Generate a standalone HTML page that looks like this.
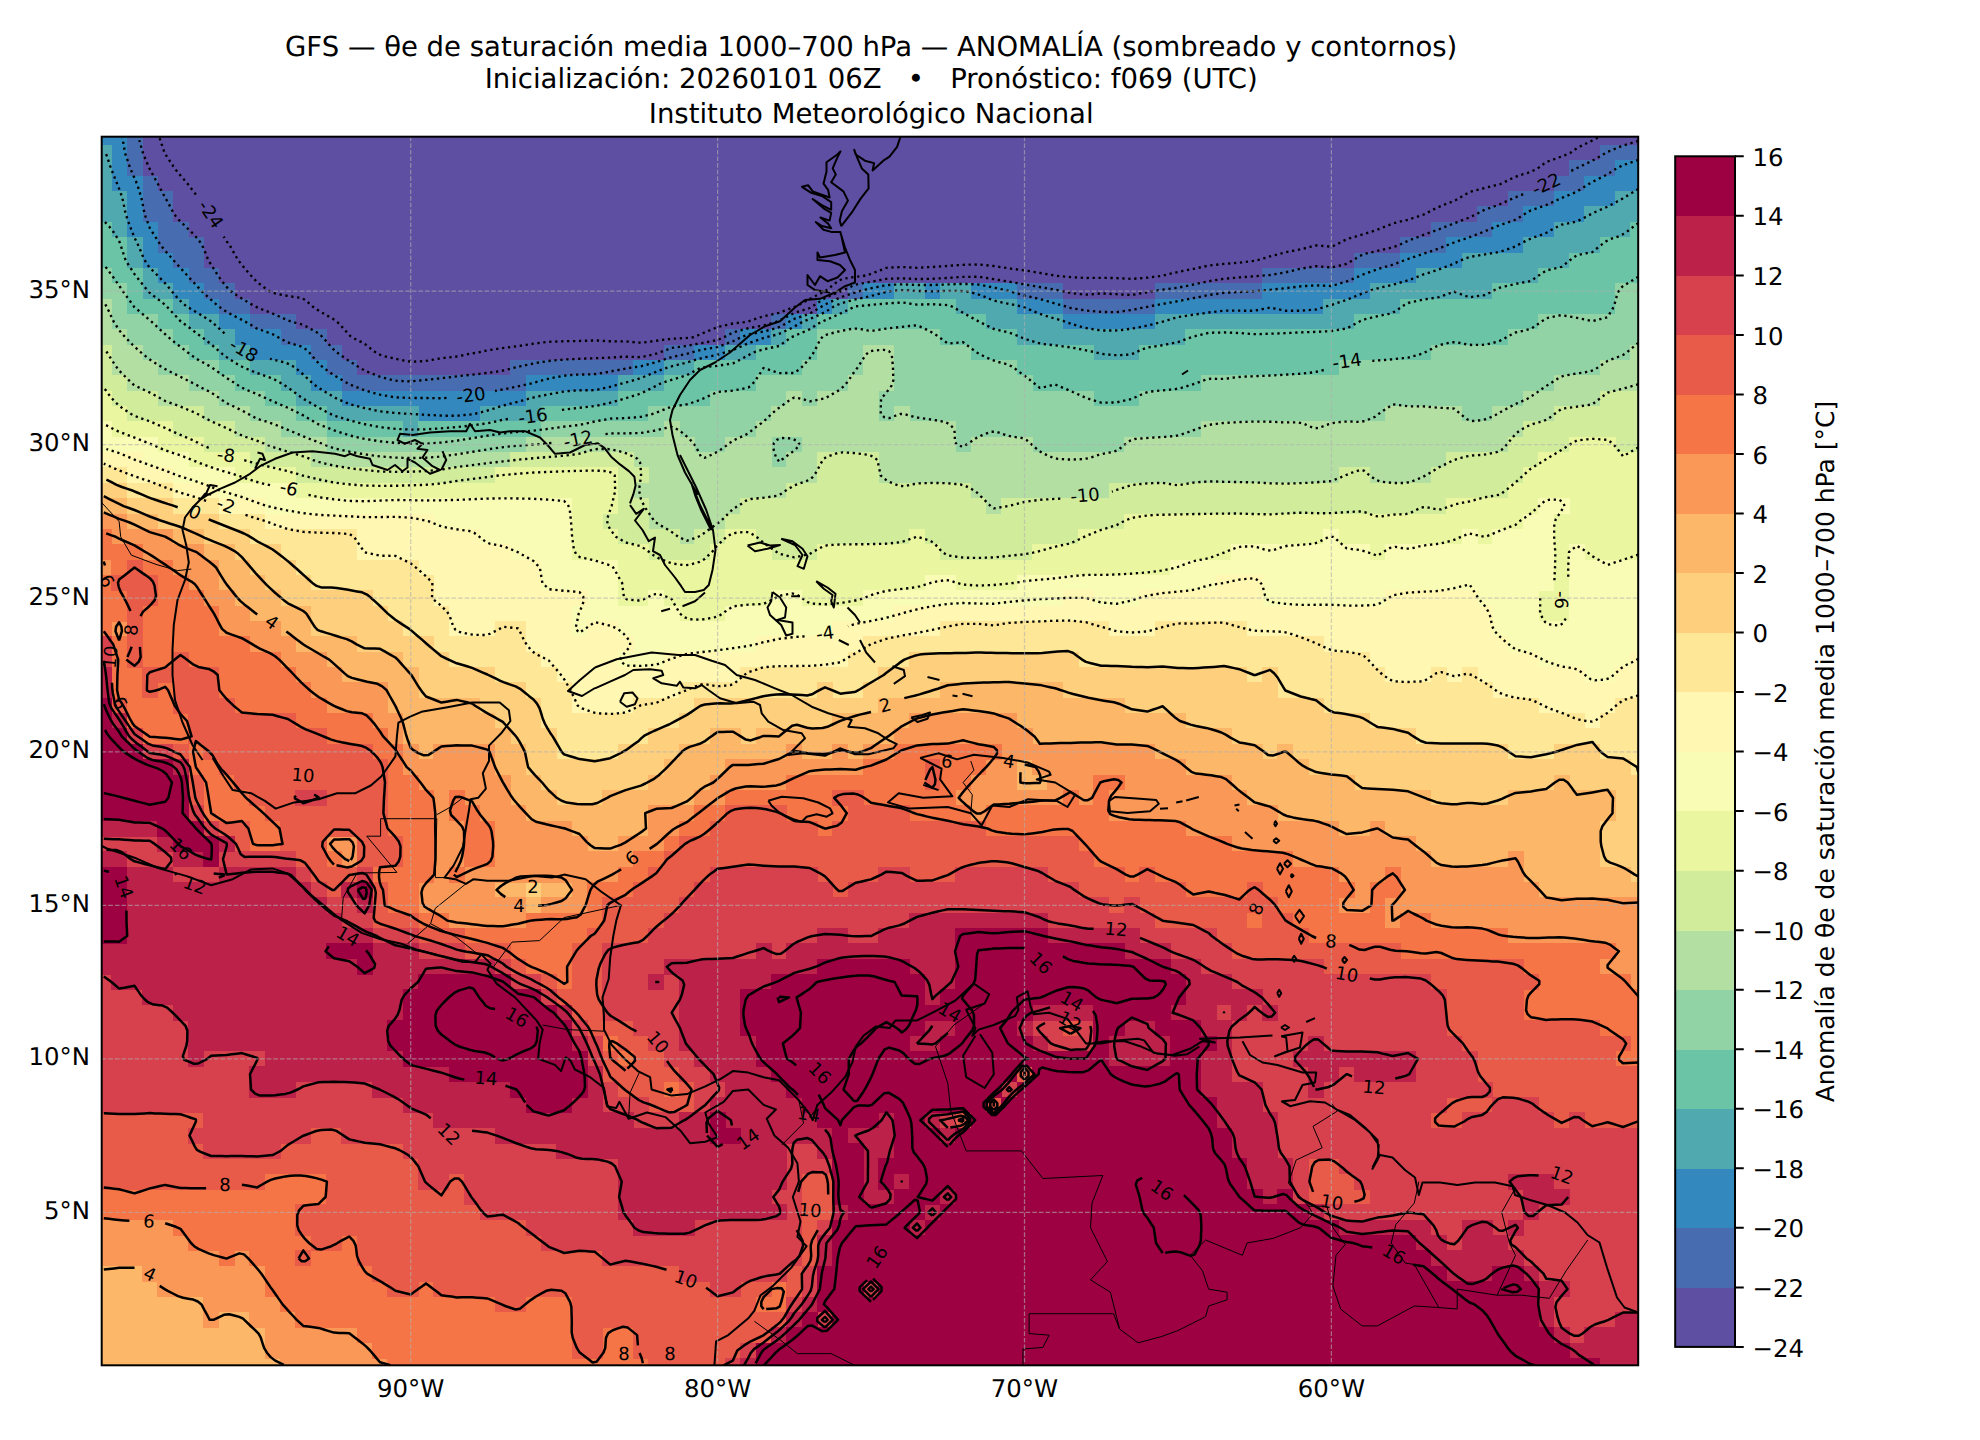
<!DOCTYPE html>
<html lang="es"><head><meta charset="utf-8"><title>GFS θe anomalía</title>
<style>html,body{margin:0;padding:0;background:#fff}body{width:1980px;height:1440px;overflow:hidden;position:relative}</style></head>
<body>
<svg width="1980" height="1440" viewBox="0 0 1980 1440" text-rendering="geometricPrecision" style="position:absolute;left:0;top:0">
<rect width="1980" height="1440" fill="#fff"/>
<defs><clipPath id="mc"><rect x="101.7" y="136.7" width="1536.5" height="1228.6"/></clipPath></defs>
<g clip-path="url(#mc)">
<g shape-rendering="crispEdges"><path fill="#5e4fa2" d="M356.7 360H510.7V375.9H356.7ZM341.3 344.6H664.2V360.6H341.3ZM326 329.3H725.6V345.2H326ZM295.3 313.9H771.6V329.9H295.3ZM249.3 298.6H817.6V314.5H249.3ZM233.9 283.2H848.3V299.2H233.9ZM1062.6 283.2H1155.2V299.2H1062.6ZM218.6 267.8H1262.6V283.8H218.6ZM203.2 252.5H1354.7V268.4H203.2ZM203.2 237.1H1400.8V253.1H203.2ZM187.9 221.8H1431.4V237.7H187.9ZM172.6 206.4H1477.5V222.4H172.6ZM172.6 191.1H1508.2V207H172.6ZM157.2 175.7H1554.2V191.7H157.2ZM141.9 160.4H1569.5V176.3H141.9ZM141.9 145H1600.2V161H141.9ZM141.9 136.4H1638.5V145.6H141.9Z"/>
<path fill="#486cb0" d="M341.3 375.3H526.1V391.3H341.3ZM326 360H357.3V375.9H326ZM510.1 360H633.5V375.9H510.1ZM310.7 344.6H341.9V360.6H310.7ZM663.6 344.6H694.9V360.6H663.6ZM280 329.3H326.6V345.2H280ZM725 329.3H740.9V345.2H725ZM249.3 313.9H295.9V329.9H249.3ZM771 313.9H787V329.9H771ZM218.6 298.6H249.9V314.5H218.6ZM1062.6 298.6H1155.2V314.5H1062.6ZM203.2 283.2H234.5V299.2H203.2ZM847.7 283.2H863.7V299.2H847.7ZM1016.5 283.2H1063.2V299.2H1016.5ZM1154.6 283.2H1262.6V299.2H1154.6ZM187.9 267.8H219.2V283.8H187.9ZM1262 267.8H1354.7V283.8H1262ZM172.6 252.5H203.8V268.4H172.6ZM1354.1 252.5H1400.8V268.4H1354.1ZM157.2 237.1H203.8V253.1H157.2ZM1400.2 237.1H1446.8V253.1H1400.2ZM157.2 221.8H188.5V237.7H157.2ZM1430.8 221.8H1492.8V237.7H1430.8ZM141.9 206.4H173.2V222.4H141.9ZM1476.9 206.4H1523.5V222.4H1476.9ZM141.9 191.1H173.2V207H141.9ZM1507.6 191.1H1554.2V207H1507.6ZM141.9 175.7H157.8V191.7H141.9ZM1553.6 175.7H1584.9V191.7H1553.6ZM126.5 160.4H142.5V176.3H126.5ZM1568.9 160.4H1615.6V176.3H1568.9ZM126.5 145H142.5V161H126.5ZM1599.6 145H1638.5V161H1599.6ZM126.5 136.4H142.5V145.6H126.5Z"/>
<path fill="#3389bd" d="M418.1 406H480.1V422H418.1ZM341.3 390.7H526.1V406.6H341.3ZM310.7 375.3H341.9V391.3H310.7ZM525.5 375.3H618.2V391.3H525.5ZM295.3 360H326.6V375.9H295.3ZM632.9 360H664.2V375.9H632.9ZM249.3 344.6H311.3V360.6H249.3ZM694.3 344.6H725.6V360.6H694.3ZM233.9 329.3H280.6V345.2H233.9ZM740.3 329.3H771.6V345.2H740.3ZM218.6 313.9H249.9V329.9H218.6ZM786.4 313.9H802.3V329.9H786.4ZM1062.6 313.9H1155.2V329.9H1062.6ZM187.9 298.6H219.2V314.5H187.9ZM817 298.6H833V314.5H817ZM1016.5 298.6H1063.2V314.5H1016.5ZM1154.6 298.6H1324V314.5H1154.6ZM172.6 283.2H203.8V299.2H172.6ZM863.1 283.2H894.4V299.2H863.1ZM924.5 283.2H940.4V299.2H924.5ZM970.5 283.2H1017.1V299.2H970.5ZM1262 283.2H1370.1V299.2H1262ZM157.2 267.8H188.5V283.8H157.2ZM1354.1 267.8H1416.1V283.8H1354.1ZM141.9 252.5H173.2V268.4H141.9ZM1400.2 252.5H1462.1V268.4H1400.2ZM141.9 237.1H157.8V253.1H141.9ZM1446.2 237.1H1523.5V253.1H1446.2ZM126.5 221.8H157.8V237.7H126.5ZM1492.2 221.8H1554.2V237.7H1492.2ZM126.5 206.4H142.5V222.4H126.5ZM1522.9 206.4H1584.9V222.4H1522.9ZM126.5 191.1H142.5V207H126.5ZM1553.6 191.1H1615.6V207H1553.6ZM111.2 175.7H142.5V191.7H111.2ZM1584.3 175.7H1638.5V191.7H1584.3ZM111.2 160.4H127.1V176.3H111.2ZM1615 160.4H1638.5V176.3H1615ZM111.2 145H127.1V161H111.2ZM101.4 136.4H127.1V145.6H101.4Z"/>
<path fill="#50a9af" d="M402.7 421.4H418.7V437.3H402.7ZM326 406H418.7V422H326ZM479.5 406H541.4V422H479.5ZM295.3 390.7H341.9V406.6H295.3ZM525.5 390.7H618.2V406.6H525.5ZM280 375.3H311.3V391.3H280ZM617.6 375.3H664.2V391.3H617.6ZM249.3 360H295.9V375.9H249.3ZM663.6 360H694.9V375.9H663.6ZM218.6 344.6H249.9V360.6H218.6ZM725 344.6H756.3V360.6H725ZM1093.3 344.6H1139.9V360.6H1093.3ZM203.2 329.3H234.5V345.2H203.2ZM771 329.3H787V345.2H771ZM1016.5 329.3H1185.9V345.2H1016.5ZM187.9 313.9H219.2V329.9H187.9ZM801.7 313.9H817.6V329.9H801.7ZM985.8 313.9H1063.2V329.9H985.8ZM1154.6 313.9H1354.7V329.9H1154.6ZM172.6 298.6H188.5V314.5H172.6ZM832.4 298.6H848.3V314.5H832.4ZM955.1 298.6H1017.1V314.5H955.1ZM1323.4 298.6H1400.8V314.5H1323.4ZM141.9 283.2H173.2V299.2H141.9ZM893.8 283.2H925.1V299.2H893.8ZM939.8 283.2H971.1V299.2H939.8ZM1369.5 283.2H1492.8V299.2H1369.5ZM141.9 267.8H157.8V283.8H141.9ZM1415.5 267.8H1538.9V283.8H1415.5ZM126.5 252.5H142.5V268.4H126.5ZM1461.5 252.5H1569.5V268.4H1461.5ZM126.5 237.1H142.5V253.1H126.5ZM1522.9 237.1H1600.2V253.1H1522.9ZM111.2 221.8H127.1V237.7H111.2ZM1553.6 221.8H1630.9V237.7H1553.6ZM101.4 206.4H127.1V222.4H101.4ZM1584.3 206.4H1638.5V222.4H1584.3ZM101.4 191.1H127.1V207H101.4ZM1615 191.1H1638.5V207H1615ZM101.4 175.7H111.8V191.7H101.4ZM101.4 160.4H111.8V176.3H101.4ZM101.4 145H111.8V161H101.4Z"/>
<path fill="#6bc4a5" d="M326 421.4H403.3V437.3H326ZM418.1 421.4H541.4V437.3H418.1ZM295.3 406H326.6V422H295.3ZM540.8 406H648.8V422H540.8ZM264.6 390.7H295.9V406.6H264.6ZM617.6 390.7H710.2V406.6H617.6ZM1093.3 390.7H1139.9V406.6H1093.3ZM233.9 375.3H280.6V391.3H233.9ZM663.6 375.3H756.3V391.3H663.6ZM1031.9 375.3H1201.3V391.3H1031.9ZM218.6 360H249.9V375.9H218.6ZM694.3 360H802.3V375.9H694.3ZM1016.5 360H1339.4V375.9H1016.5ZM187.9 344.6H219.2V360.6H187.9ZM755.7 344.6H817.6V360.6H755.7ZM970.5 344.6H1093.9V360.6H970.5ZM1139.3 344.6H1431.4V360.6H1139.3ZM172.6 329.3H203.8V345.2H172.6ZM786.4 329.3H817.6V345.2H786.4ZM939.8 329.3H1017.1V345.2H939.8ZM1185.3 329.3H1508.2V345.2H1185.3ZM157.2 313.9H188.5V329.9H157.2ZM817 313.9H986.4V329.9H817ZM1354.1 313.9H1538.9V329.9H1354.1ZM126.5 298.6H173.2V314.5H126.5ZM847.7 298.6H955.7V314.5H847.7ZM1400.2 298.6H1615.6V314.5H1400.2ZM126.5 283.2H142.5V299.2H126.5ZM1492.2 283.2H1615.6V299.2H1492.2ZM111.2 267.8H142.5V283.8H111.2ZM1538.3 267.8H1638.5V283.8H1538.3ZM101.4 252.5H127.1V268.4H101.4ZM1568.9 252.5H1638.5V268.4H1568.9ZM101.4 237.1H127.1V253.1H101.4ZM1599.6 237.1H1638.5V253.1H1599.6ZM101.4 221.8H111.8V237.7H101.4ZM1630.3 221.8H1638.5V237.7H1630.3Z"/>
<path fill="#91d3a4" d="M771 452.1H787V468H771ZM326 436.7H526.1V452.7H326ZM694.3 436.7H725.6V452.7H694.3ZM771 436.7H802.3V452.7H771ZM955.1 436.7H971.1V452.7H955.1ZM1031.9 436.7H1124.5V452.7H1031.9ZM280 421.4H326.6V437.3H280ZM540.8 421.4H664.2V437.3H540.8ZM678.9 421.4H756.3V437.3H678.9ZM955.1 421.4H1201.3V437.3H955.1ZM249.3 406H295.9V422H249.3ZM648.2 406H771.6V422H648.2ZM878.4 406H894.4V422H878.4ZM909.1 406H1385.4V422H909.1ZM1461.5 406H1492.8V422H1461.5ZM218.6 390.7H265.2V406.6H218.6ZM709.6 390.7H787V406.6H709.6ZM801.7 390.7H817.6V406.6H801.7ZM878.4 390.7H1093.9V406.6H878.4ZM1139.3 390.7H1523.5V406.6H1139.3ZM187.9 375.3H234.5V391.3H187.9ZM755.7 375.3H848.3V391.3H755.7ZM893.8 375.3H1032.5V391.3H893.8ZM1200.7 375.3H1554.2V391.3H1200.7ZM157.2 360H219.2V375.9H157.2ZM801.7 360H863.7V375.9H801.7ZM893.8 360H1017.1V375.9H893.8ZM1338.8 360H1600.2V375.9H1338.8ZM141.9 344.6H188.5V360.6H141.9ZM817 344.6H863.7V360.6H817ZM893.8 344.6H971.1V360.6H893.8ZM1430.8 344.6H1630.9V360.6H1430.8ZM126.5 329.3H173.2V345.2H126.5ZM817 329.3H940.4V345.2H817ZM1507.6 329.3H1638.5V345.2H1507.6ZM111.2 313.9H157.8V329.9H111.2ZM1538.3 313.9H1638.5V329.9H1538.3ZM111.2 298.6H127.1V314.5H111.2ZM1615 298.6H1638.5V314.5H1615ZM101.4 283.2H127.1V299.2H101.4ZM1615 283.2H1638.5V299.2H1615ZM101.4 267.8H111.8V283.8H101.4Z"/>
<path fill="#b3e0a2" d="M678.9 528.8H694.9V544.8H678.9ZM648.2 513.5H725.6V529.4H648.2ZM648.2 498.1H740.9V514.1H648.2ZM985.8 498.1H1001.8V514.1H985.8ZM632.9 482.8H787V498.7H632.9ZM970.5 482.8H1109.2V498.7H970.5ZM648.2 467.4H817.6V483.4H648.2ZM878.4 467.4H1339.4V483.4H878.4ZM1369.5 467.4H1431.4V483.4H1369.5ZM310.7 452.1H510.7V468H310.7ZM632.9 452.1H771.6V468H632.9ZM786.4 452.1H817.6V468H786.4ZM878.4 452.1H1446.8V468H878.4ZM264.6 436.7H326.6V452.7H264.6ZM525.5 436.7H694.9V452.7H525.5ZM725 436.7H771.6V452.7H725ZM801.7 436.7H955.7V452.7H801.7ZM970.5 436.7H1032.5V452.7H970.5ZM1123.9 436.7H1508.2V452.7H1123.9ZM233.9 421.4H280.6V437.3H233.9ZM663.6 421.4H679.5V437.3H663.6ZM755.7 421.4H955.7V437.3H755.7ZM1200.7 421.4H1523.5V437.3H1200.7ZM203.2 406H249.9V422H203.2ZM771 406H879V422H771ZM893.8 406H909.7V422H893.8ZM1384.8 406H1462.1V422H1384.8ZM1492.2 406H1554.2V422H1492.2ZM157.2 390.7H219.2V406.6H157.2ZM786.4 390.7H802.3V406.6H786.4ZM817 390.7H879V406.6H817ZM1522.9 390.7H1600.2V406.6H1522.9ZM126.5 375.3H188.5V391.3H126.5ZM847.7 375.3H894.4V391.3H847.7ZM1553.6 375.3H1638.5V391.3H1553.6ZM111.2 360H157.8V375.9H111.2ZM863.1 360H894.4V375.9H863.1ZM1599.6 360H1638.5V375.9H1599.6ZM111.2 344.6H142.5V360.6H111.2ZM863.1 344.6H894.4V360.6H863.1ZM1630.3 344.6H1638.5V360.6H1630.3ZM101.4 329.3H127.1V345.2H101.4ZM101.4 313.9H111.8V329.9H101.4ZM101.4 298.6H111.8V314.5H101.4Z"/>
<path fill="#d1ed9c" d="M648.2 544.2H710.2V560.1H648.2ZM771 544.2H817.6V560.1H771ZM939.8 544.2H1032.5V560.1H939.8ZM617.6 528.8H679.5V544.8H617.6ZM694.3 528.8H725.6V544.8H694.3ZM755.7 528.8H909.7V544.8H755.7ZM924.5 528.8H1078.5V544.8H924.5ZM602.2 513.5H648.8V529.4H602.2ZM725 513.5H1124.5V529.4H725ZM617.6 498.1H648.8V514.1H617.6ZM740.3 498.1H986.4V514.1H740.3ZM1001.2 498.1H1446.8V514.1H1001.2ZM617.6 482.8H633.5V498.7H617.6ZM786.4 482.8H971.1V498.7H786.4ZM1108.6 482.8H1508.2V498.7H1108.6ZM295.3 467.4H495.4V483.4H295.3ZM617.6 467.4H648.8V483.4H617.6ZM817 467.4H879V483.4H817ZM1338.8 467.4H1370.1V483.4H1338.8ZM1430.8 467.4H1523.5V483.4H1430.8ZM249.3 452.1H311.3V468H249.3ZM510.1 452.1H633.5V468H510.1ZM817 452.1H879V468H817ZM1446.2 452.1H1538.9V468H1446.2ZM203.2 436.7H265.2V452.7H203.2ZM1507.6 436.7H1569.5V452.7H1507.6ZM1615 436.7H1638.5V452.7H1615ZM172.6 421.4H234.5V437.3H172.6ZM1522.9 421.4H1638.5V437.3H1522.9ZM126.5 406H203.8V422H126.5ZM1553.6 406H1638.5V422H1553.6ZM111.2 390.7H157.8V406.6H111.2ZM1599.6 390.7H1638.5V406.6H1599.6ZM101.4 375.3H127.1V391.3H101.4ZM101.4 360H111.8V375.9H101.4ZM101.4 344.6H111.8V360.6H101.4Z"/>
<path fill="#ebf7a0" d="M678.9 605.6H725.6V621.6H678.9ZM1538.3 605.6H1569.5V621.6H1538.3ZM617.6 590.2H648.8V606.2H617.6ZM663.6 590.2H771.6V606.2H663.6ZM801.7 590.2H863.7V606.2H801.7ZM1538.3 590.2H1569.5V606.2H1538.3ZM617.6 574.9H925.1V590.8H617.6ZM955.1 574.9H1017.1V590.8H955.1ZM1553.6 574.9H1569.5V590.8H1553.6ZM617.6 559.5H1170.6V575.5H617.6ZM1553.6 559.5H1569.5V575.5H1553.6ZM571.5 544.2H648.8V560.1H571.5ZM709.6 544.2H771.6V560.1H709.6ZM817 544.2H940.4V560.1H817ZM1031.9 544.2H1232V560.1H1031.9ZM1369.5 544.2H1385.4V560.1H1369.5ZM1553.6 544.2H1569.5V560.1H1553.6ZM1584.3 544.2H1638.5V560.1H1584.3ZM571.5 528.8H618.2V544.8H571.5ZM725 528.8H756.3V544.8H725ZM909.1 528.8H925.1V544.8H909.1ZM1077.9 528.8H1324V544.8H1077.9ZM1338.8 528.8H1462.1V544.8H1338.8ZM1476.9 528.8H1492.8V544.8H1476.9ZM1553.6 528.8H1638.5V544.8H1553.6ZM571.5 513.5H602.8V529.4H571.5ZM1123.9 513.5H1523.5V529.4H1123.9ZM1553.6 513.5H1638.5V529.4H1553.6ZM571.5 498.1H618.2V514.1H571.5ZM1446.2 498.1H1538.9V514.1H1446.2ZM1568.9 498.1H1638.5V514.1H1568.9ZM295.3 482.8H618.2V498.7H295.3ZM1507.6 482.8H1638.5V498.7H1507.6ZM233.9 467.4H295.9V483.4H233.9ZM494.8 467.4H618.2V483.4H494.8ZM1522.9 467.4H1638.5V483.4H1522.9ZM187.9 452.1H249.9V468H187.9ZM1538.3 452.1H1638.5V468H1538.3ZM157.2 436.7H203.8V452.7H157.2ZM1568.9 436.7H1615.6V452.7H1568.9ZM111.2 421.4H173.2V437.3H111.2ZM101.4 406H127.1V422H101.4ZM101.4 390.7H111.8V406.6H101.4Z"/>
<path fill="#f8fcb4" d="M1584.3 667H1615.6V683H1584.3ZM617.6 651.7H664.2V667.6H617.6ZM1538.3 651.7H1630.9V667.6H1538.3ZM632.9 636.3H756.3V652.3H632.9ZM1507.6 636.3H1638.5V652.3H1507.6ZM571.5 621H587.5V636.9H571.5ZM617.6 621H833V636.9H617.6ZM1492.2 621H1638.5V636.9H1492.2ZM571.5 605.6H679.5V621.6H571.5ZM725 605.6H894.4V621.6H725ZM1492.2 605.6H1538.9V621.6H1492.2ZM1568.9 605.6H1638.5V621.6H1568.9ZM586.9 590.2H618.2V606.2H586.9ZM648.2 590.2H664.2V606.2H648.2ZM771 590.2H802.3V606.2H771ZM863.1 590.2H1063.2V606.2H863.1ZM1093.3 590.2H1139.9V606.2H1093.3ZM1262 590.2H1385.4V606.2H1262ZM1476.9 590.2H1538.9V606.2H1476.9ZM1568.9 590.2H1638.5V606.2H1568.9ZM540.8 574.9H618.2V590.8H540.8ZM924.5 574.9H955.7V590.8H924.5ZM1016.5 574.9H1216.6V590.8H1016.5ZM1262 574.9H1554.2V590.8H1262ZM1568.9 574.9H1638.5V590.8H1568.9ZM540.8 559.5H618.2V575.5H540.8ZM1170 559.5H1554.2V575.5H1170ZM1568.9 559.5H1638.5V575.5H1568.9ZM510.1 544.2H572.1V560.1H510.1ZM1231.4 544.2H1370.1V560.1H1231.4ZM1384.8 544.2H1554.2V560.1H1384.8ZM1568.9 544.2H1584.9V560.1H1568.9ZM479.5 528.8H572.1V544.8H479.5ZM1323.4 528.8H1339.4V544.8H1323.4ZM1461.5 528.8H1477.5V544.8H1461.5ZM1492.2 528.8H1554.2V544.8H1492.2ZM433.4 513.5H572.1V529.4H433.4ZM1522.9 513.5H1554.2V529.4H1522.9ZM264.6 498.1H572.1V514.1H264.6ZM1538.3 498.1H1569.5V514.1H1538.3ZM218.6 482.8H295.9V498.7H218.6ZM172.6 467.4H234.5V483.4H172.6ZM141.9 452.1H188.5V468H141.9ZM101.4 436.7H157.8V452.7H101.4ZM101.4 421.4H111.8V437.3H101.4Z"/>
<path fill="#fff7b2" d="M1584.3 713.1H1600.2V729H1584.3ZM571.5 697.7H633.5V713.7H571.5ZM1538.3 697.7H1615.6V713.7H1538.3ZM571.5 682.4H679.5V698.3H571.5ZM1492.2 682.4H1638.5V698.3H1492.2ZM556.2 667H740.9V683H556.2ZM1384.8 667H1431.4V683H1384.8ZM1446.2 667H1462.1V683H1446.2ZM1476.9 667H1584.9V683H1476.9ZM1615 667H1638.5V683H1615ZM540.8 651.7H618.2V667.6H540.8ZM663.6 651.7H848.3V667.6H663.6ZM1369.5 651.7H1538.9V667.6H1369.5ZM1630.3 651.7H1638.5V667.6H1630.3ZM525.5 636.3H633.5V652.3H525.5ZM755.7 636.3H863.7V652.3H755.7ZM1323.4 636.3H1508.2V652.3H1323.4ZM448.8 621H495.4V636.9H448.8ZM525.5 621H572.1V636.9H525.5ZM586.9 621H618.2V636.9H586.9ZM832.4 621H940.4V636.9H832.4ZM1108.6 621H1155.2V636.9H1108.6ZM1246.7 621H1492.8V636.9H1246.7ZM448.8 605.6H572.1V621.6H448.8ZM893.8 605.6H1492.8V621.6H893.8ZM433.4 590.2H587.5V606.2H433.4ZM1062.6 590.2H1093.9V606.2H1062.6ZM1139.3 590.2H1262.6V606.2H1139.3ZM1384.8 590.2H1477.5V606.2H1384.8ZM433.4 574.9H541.4V590.8H433.4ZM1216 574.9H1262.6V590.8H1216ZM418.1 559.5H541.4V575.5H418.1ZM356.7 544.2H510.7V560.1H356.7ZM356.7 528.8H480.1V544.8H356.7ZM264.6 513.5H434V529.4H264.6ZM218.6 498.1H265.2V514.1H218.6ZM172.6 482.8H219.2V498.7H172.6ZM126.5 467.4H173.2V483.4H126.5ZM101.4 452.1H142.5V468H101.4Z"/>
<path fill="#fee797" d="M1630.3 759.1H1638.5V775.1H1630.3ZM556.2 743.8H618.2V759.7H556.2ZM1507.6 743.8H1554.2V759.7H1507.6ZM1599.6 743.8H1638.5V759.7H1599.6ZM556.2 728.4H648.8V744.4H556.2ZM1415.5 728.4H1638.5V744.4H1415.5ZM540.8 713.1H679.5V729H540.8ZM1369.5 713.1H1584.9V729H1369.5ZM1599.6 713.1H1638.5V729H1599.6ZM540.8 697.7H572.1V713.7H540.8ZM632.9 697.7H694.9V713.7H632.9ZM1323.4 697.7H1538.9V713.7H1323.4ZM1615 697.7H1638.5V713.7H1615ZM525.5 682.4H572.1V698.3H525.5ZM678.9 682.4H817.6V698.3H678.9ZM832.4 682.4H863.7V698.3H832.4ZM1277.4 682.4H1492.8V698.3H1277.4ZM494.8 667H556.8V683H494.8ZM740.3 667H879V683H740.3ZM1246.7 667H1262.6V683H1246.7ZM1277.4 667H1385.4V683H1277.4ZM1430.8 667H1446.8V683H1430.8ZM1461.5 667H1477.5V683H1461.5ZM448.8 651.7H541.4V667.6H448.8ZM847.7 651.7H909.7V667.6H847.7ZM1077.9 651.7H1370.1V667.6H1077.9ZM433.4 636.3H526.1V652.3H433.4ZM863.1 636.3H1324V652.3H863.1ZM402.7 621H449.4V636.9H402.7ZM494.8 621H526.1V636.9H494.8ZM939.8 621H1109.2V636.9H939.8ZM1154.6 621H1247.3V636.9H1154.6ZM387.4 605.6H449.4V621.6H387.4ZM372 590.2H434V606.2H372ZM310.7 574.9H434V590.8H310.7ZM295.3 559.5H418.7V575.5H295.3ZM280 544.2H357.3V560.1H280ZM249.3 528.8H357.3V544.8H249.3ZM218.6 513.5H265.2V529.4H218.6ZM172.6 498.1H219.2V514.1H172.6ZM126.5 482.8H173.2V498.7H126.5ZM101.4 467.4H127.1V483.4H101.4Z"/>
<path fill="#fed07e" d="M525.5 881.9H541.4V897.9H525.5ZM1630.3 866.6H1638.5V882.5H1630.3ZM1599.6 851.2H1638.5V867.2H1599.6ZM1599.6 835.9H1638.5V851.8H1599.6ZM1599.6 820.5H1638.5V836.5H1599.6ZM1615 805.2H1638.5V821.1H1615ZM556.2 789.8H602.8V805.8H556.2ZM1430.8 789.8H1508.2V805.8H1430.8ZM1615 789.8H1638.5V805.8H1615ZM540.8 774.5H648.8V790.4H540.8ZM1354.1 774.5H1554.2V790.4H1354.1ZM1568.9 774.5H1638.5V790.4H1568.9ZM525.5 759.1H664.2V775.1H525.5ZM1308.1 759.1H1630.9V775.1H1308.1ZM525.5 743.8H556.8V759.7H525.5ZM617.6 743.8H679.5V759.7H617.6ZM1262 743.8H1278V759.7H1262ZM1292.7 743.8H1508.2V759.7H1292.7ZM1553.6 743.8H1600.2V759.7H1553.6ZM510.1 728.4H556.8V744.4H510.1ZM648.2 728.4H710.2V744.4H648.2ZM740.3 728.4H756.3V744.4H740.3ZM1231.4 728.4H1416.1V744.4H1231.4ZM494.8 713.1H541.4V729H494.8ZM678.9 713.1H833V729H678.9ZM1185.3 713.1H1370.1V729H1185.3ZM479.5 697.7H541.4V713.7H479.5ZM694.3 697.7H879V713.7H694.3ZM1123.9 697.7H1324V713.7H1123.9ZM418.1 682.4H526.1V698.3H418.1ZM817 682.4H833V698.3H817ZM863.1 682.4H940.4V698.3H863.1ZM1062.6 682.4H1278V698.3H1062.6ZM418.1 667H495.4V683H418.1ZM878.4 667H1247.3V683H878.4ZM1262 667H1278V683H1262ZM402.7 651.7H449.4V667.6H402.7ZM909.1 651.7H1078.5V667.6H909.1ZM356.7 636.3H434V652.3H356.7ZM310.7 621H403.3V636.9H310.7ZM310.7 605.6H388V621.6H310.7ZM280 590.2H372.6V606.2H280ZM264.6 574.9H311.3V590.8H264.6ZM249.3 559.5H295.9V575.5H249.3ZM233.9 544.2H280.6V560.1H233.9ZM203.2 528.8H249.9V544.8H203.2ZM157.2 513.5H219.2V529.4H157.2ZM126.5 498.1H173.2V514.1H126.5ZM101.4 482.8H127.1V498.7H101.4Z"/>
<path fill="#fdb768" d="M101.4 1357.9H280.6V1365.6H101.4ZM101.4 1342.5H265.2V1358.5H101.4ZM101.4 1327.2H265.2V1343.1H101.4ZM101.4 1311.8H203.8V1327.8H101.4ZM218.6 1311.8H249.9V1327.8H218.6ZM101.4 1296.5H203.8V1312.4H101.4ZM101.4 1281.1H157.8V1297.1H101.4ZM101.4 1265.8H142.5V1281.7H101.4ZM525.5 897.3H541.4V913.3H525.5ZM494.8 881.9H526.1V897.9H494.8ZM540.8 881.9H572.1V897.9H540.8ZM1538.3 881.9H1638.5V897.9H1538.3ZM1522.9 866.6H1630.9V882.5H1522.9ZM1430.8 851.2H1508.2V867.2H1430.8ZM1522.9 851.2H1600.2V867.2H1522.9ZM586.9 835.9H618.2V851.8H586.9ZM1415.5 835.9H1600.2V851.8H1415.5ZM571.5 820.5H648.8V836.5H571.5ZM1338.8 820.5H1370.1V836.5H1338.8ZM1384.8 820.5H1600.2V836.5H1384.8ZM525.5 805.2H648.8V821.1H525.5ZM1277.4 805.2H1615.6V821.1H1277.4ZM510.1 789.8H556.8V805.8H510.1ZM602.2 789.8H694.9V805.8H602.2ZM1246.7 789.8H1431.4V805.8H1246.7ZM1507.6 789.8H1615.6V805.8H1507.6ZM510.1 774.5H541.4V790.4H510.1ZM648.2 774.5H710.2V790.4H648.2ZM1016.5 774.5H1047.8V790.4H1016.5ZM1231.4 774.5H1354.7V790.4H1231.4ZM1553.6 774.5H1569.5V790.4H1553.6ZM494.8 759.1H526.1V775.1H494.8ZM663.6 759.1H725.6V775.1H663.6ZM1016.5 759.1H1032.5V775.1H1016.5ZM1185.3 759.1H1308.7V775.1H1185.3ZM418.1 743.8H434V759.7H418.1ZM494.8 743.8H526.1V759.7H494.8ZM678.9 743.8H787V759.7H678.9ZM801.7 743.8H833V759.7H801.7ZM847.7 743.8H863.7V759.7H847.7ZM1154.6 743.8H1262.6V759.7H1154.6ZM1277.4 743.8H1293.3V759.7H1277.4ZM402.7 728.4H510.7V744.4H402.7ZM709.6 728.4H740.9V744.4H709.6ZM755.7 728.4H894.4V744.4H755.7ZM1031.9 728.4H1232V744.4H1031.9ZM402.7 713.1H495.4V729H402.7ZM832.4 713.1H909.7V729H832.4ZM1016.5 713.1H1185.9V729H1016.5ZM387.4 697.7H480.1V713.7H387.4ZM878.4 697.7H1124.5V713.7H878.4ZM387.4 682.4H418.7V698.3H387.4ZM939.8 682.4H1063.2V698.3H939.8ZM341.3 667H418.7V683H341.3ZM326 651.7H403.3V667.6H326ZM295.3 636.3H357.3V652.3H295.3ZM280 621H311.3V636.9H280ZM249.3 605.6H311.3V621.6H249.3ZM233.9 590.2H280.6V606.2H233.9ZM218.6 574.9H265.2V590.8H218.6ZM218.6 559.5H249.9V575.5H218.6ZM203.2 544.2H234.5V560.1H203.2ZM172.6 528.8H203.8V544.8H172.6ZM126.5 513.5H157.8V529.4H126.5ZM101.4 498.1H127.1V514.1H101.4Z"/>
<path fill="#fa9857" d="M280 1357.9H388V1365.6H280ZM264.6 1342.5H372.6V1358.5H264.6ZM264.6 1327.2H357.3V1343.1H264.6ZM203.2 1311.8H219.2V1327.8H203.2ZM249.3 1311.8H295.9V1327.8H249.3ZM203.2 1296.5H280.6V1312.4H203.2ZM157.2 1281.1H265.2V1297.1H157.2ZM141.9 1265.8H265.2V1281.7H141.9ZM101.4 1250.4H219.2V1266.4H101.4ZM233.9 1250.4H249.9V1266.4H233.9ZM101.4 1235.1H188.5V1251H101.4ZM101.4 1219.7H173.2V1235.7H101.4ZM1630.3 974.1H1638.5V990H1630.3ZM1599.6 958.7H1638.5V974.7H1599.6ZM1615 943.4H1638.5V959.3H1615ZM1507.6 928H1638.5V944H1507.6ZM448.8 912.7H526.1V928.6H448.8ZM1384.8 912.7H1400.8V928.6H1384.8ZM1430.8 912.7H1638.5V928.6H1430.8ZM418.1 897.3H526.1V913.3H418.1ZM540.8 897.3H587.5V913.3H540.8ZM1338.8 897.3H1370.1V913.3H1338.8ZM1384.8 897.3H1638.5V913.3H1384.8ZM418.1 881.9H495.4V897.9H418.1ZM571.5 881.9H587.5V897.9H571.5ZM1354.1 881.9H1370.1V897.9H1354.1ZM1400.2 881.9H1538.9V897.9H1400.2ZM433.4 866.6H449.4V882.5H433.4ZM464.1 866.6H618.2V882.5H464.1ZM1338.8 866.6H1385.4V882.5H1338.8ZM1400.2 866.6H1523.5V882.5H1400.2ZM341.3 851.2H357.3V867.2H341.3ZM433.4 851.2H464.7V867.2H433.4ZM494.8 851.2H633.5V867.2H494.8ZM1292.7 851.2H1431.4V867.2H1292.7ZM1507.6 851.2H1523.5V867.2H1507.6ZM326 835.9H357.3V851.8H326ZM433.4 835.9H464.7V851.8H433.4ZM494.8 835.9H587.5V851.8H494.8ZM617.6 835.9H664.2V851.8H617.6ZM1231.4 835.9H1416.1V851.8H1231.4ZM433.4 820.5H464.7V836.5H433.4ZM494.8 820.5H572.1V836.5H494.8ZM648.2 820.5H679.5V836.5H648.2ZM1185.3 820.5H1339.4V836.5H1185.3ZM1369.5 820.5H1385.4V836.5H1369.5ZM433.4 805.2H449.4V821.1H433.4ZM479.5 805.2H526.1V821.1H479.5ZM648.2 805.2H694.9V821.1H648.2ZM970.5 805.2H986.4V821.1H970.5ZM1108.6 805.2H1278V821.1H1108.6ZM433.4 789.8H449.4V805.8H433.4ZM464.1 789.8H510.7V805.8H464.1ZM694.3 789.8H725.6V805.8H694.3ZM955.1 789.8H1063.2V805.8H955.1ZM1077.9 789.8H1093.9V805.8H1077.9ZM1108.6 789.8H1247.3V805.8H1108.6ZM418.1 774.5H510.7V790.4H418.1ZM709.6 774.5H787V790.4H709.6ZM970.5 774.5H1017.1V790.4H970.5ZM1047.2 774.5H1093.9V790.4H1047.2ZM1123.9 774.5H1232V790.4H1123.9ZM402.7 759.1H495.4V775.1H402.7ZM725 759.1H863.7V775.1H725ZM985.8 759.1H1017.1V775.1H985.8ZM1031.9 759.1H1185.9V775.1H1031.9ZM402.7 743.8H418.7V759.7H402.7ZM433.4 743.8H495.4V759.7H433.4ZM786.4 743.8H802.3V759.7H786.4ZM832.4 743.8H848.3V759.7H832.4ZM863.1 743.8H894.4V759.7H863.1ZM1001.2 743.8H1155.2V759.7H1001.2ZM387.4 728.4H403.3V744.4H387.4ZM893.8 728.4H1032.5V744.4H893.8ZM372 713.1H403.3V729H372ZM909.1 713.1H1017.1V729H909.1ZM326 697.7H388V713.7H326ZM310.7 682.4H388V698.3H310.7ZM295.3 667H341.9V683H295.3ZM280 651.7H326.6V667.6H280ZM249.3 636.3H295.9V652.3H249.3ZM111.2 621H127.1V636.9H111.2ZM218.6 621H280.6V636.9H218.6ZM218.6 605.6H249.9V621.6H218.6ZM203.2 590.2H234.5V606.2H203.2ZM187.9 574.9H219.2V590.8H187.9ZM101.4 559.5H111.8V575.5H101.4ZM172.6 559.5H219.2V575.5H172.6ZM141.9 544.2H203.8V560.1H141.9ZM111.2 528.8H173.2V544.8H111.2ZM101.4 513.5H127.1V529.4H101.4Z"/>
<path fill="#f57547" d="M387.4 1357.9H648.8V1365.6H387.4ZM372 1342.5H572.1V1358.5H372ZM602.2 1342.5H633.5V1358.5H602.2ZM356.7 1327.2H572.1V1343.1H356.7ZM602.2 1327.2H633.5V1343.1H602.2ZM295.3 1311.8H572.1V1327.8H295.3ZM280 1296.5H495.4V1312.4H280ZM525.5 1296.5H572.1V1312.4H525.5ZM755.7 1296.5H787V1312.4H755.7ZM264.6 1281.1H388V1297.1H264.6ZM418.1 1281.1H434V1297.1H418.1ZM771 1281.1H787V1297.1H771ZM264.6 1265.8H372.6V1281.7H264.6ZM218.6 1250.4H234.5V1266.4H218.6ZM249.3 1250.4H295.9V1266.4H249.3ZM310.7 1250.4H357.3V1266.4H310.7ZM187.9 1235.1H311.3V1251H187.9ZM341.3 1235.1H357.3V1251H341.3ZM172.6 1219.7H295.9V1235.7H172.6ZM101.4 1204.3H295.9V1220.3H101.4ZM101.4 1189H326.6V1204.9H101.4ZM264.6 1173.6H326.6V1189.6H264.6ZM663.6 1081.5H679.5V1097.5H663.6ZM617.6 1050.8H633.5V1066.8H617.6ZM1615 1050.8H1638.5V1066.8H1615ZM602.2 1035.5H618.2V1051.4H602.2ZM1630.3 1035.5H1638.5V1051.4H1630.3ZM1599.6 1020.1H1638.5V1036.1H1599.6ZM1522.9 1004.8H1638.5V1020.7H1522.9ZM1522.9 989.4H1638.5V1005.4H1522.9ZM556.2 974.1H572.1V990H556.2ZM1538.3 974.1H1630.9V990H1538.3ZM525.5 958.7H572.1V974.7H525.5ZM1522.9 958.7H1600.2V974.7H1522.9ZM510.1 943.4H572.1V959.3H510.1ZM1400.2 943.4H1615.6V959.3H1400.2ZM464.1 928H587.5V944H464.1ZM1308.1 928H1508.2V944H1308.1ZM418.1 912.7H449.4V928.6H418.1ZM525.5 912.7H602.8V928.6H525.5ZM1246.7 912.7H1262.6V928.6H1246.7ZM1292.7 912.7H1385.4V928.6H1292.7ZM1400.2 912.7H1431.4V928.6H1400.2ZM387.4 897.3H418.7V913.3H387.4ZM586.9 897.3H602.8V913.3H586.9ZM1277.4 897.3H1339.4V913.3H1277.4ZM1369.5 897.3H1385.4V913.3H1369.5ZM387.4 881.9H418.7V897.9H387.4ZM586.9 881.9H633.5V897.9H586.9ZM1185.3 881.9H1247.3V897.9H1185.3ZM1262 881.9H1354.7V897.9H1262ZM1369.5 881.9H1400.8V897.9H1369.5ZM372 866.6H434V882.5H372ZM448.8 866.6H464.7V882.5H448.8ZM617.6 866.6H648.8V882.5H617.6ZM1123.9 866.6H1139.9V882.5H1123.9ZM1154.6 866.6H1339.4V882.5H1154.6ZM1384.8 866.6H1400.8V882.5H1384.8ZM326 851.2H341.9V867.2H326ZM402.7 851.2H434V867.2H402.7ZM464.1 851.2H495.4V867.2H464.1ZM632.9 851.2H664.2V867.2H632.9ZM1093.3 851.2H1293.3V867.2H1093.3ZM249.3 835.9H280.6V851.8H249.3ZM402.7 835.9H434V851.8H402.7ZM464.1 835.9H495.4V851.8H464.1ZM663.6 835.9H679.5V851.8H663.6ZM1077.9 835.9H1232V851.8H1077.9ZM249.3 820.5H280.6V836.5H249.3ZM387.4 820.5H434V836.5H387.4ZM464.1 820.5H495.4V836.5H464.1ZM678.9 820.5H710.2V836.5H678.9ZM817 820.5H833V836.5H817ZM985.8 820.5H1185.9V836.5H985.8ZM203.2 805.2H265.2V821.1H203.2ZM387.4 805.2H434V821.1H387.4ZM448.8 805.2H480.1V821.1H448.8ZM694.3 805.2H725.6V821.1H694.3ZM786.4 805.2H848.3V821.1H786.4ZM909.1 805.2H971.1V821.1H909.1ZM985.8 805.2H1109.2V821.1H985.8ZM203.2 789.8H249.9V805.8H203.2ZM387.4 789.8H434V805.8H387.4ZM448.8 789.8H464.7V805.8H448.8ZM725 789.8H833V805.8H725ZM863.1 789.8H955.7V805.8H863.1ZM1062.6 789.8H1078.5V805.8H1062.6ZM1093.3 789.8H1109.2V805.8H1093.3ZM203.2 774.5H234.5V790.4H203.2ZM387.4 774.5H418.7V790.4H387.4ZM786.4 774.5H925.1V790.4H786.4ZM939.8 774.5H971.1V790.4H939.8ZM1093.3 774.5H1124.5V790.4H1093.3ZM187.9 759.1H219.2V775.1H187.9ZM387.4 759.1H403.3V775.1H387.4ZM863.1 759.1H925.1V775.1H863.1ZM939.8 759.1H986.4V775.1H939.8ZM187.9 743.8H203.8V759.7H187.9ZM372 743.8H403.3V759.7H372ZM893.8 743.8H1001.8V759.7H893.8ZM141.9 728.4H188.5V744.4H141.9ZM326 728.4H388V744.4H326ZM126.5 713.1H188.5V729H126.5ZM295.3 713.1H372.6V729H295.3ZM126.5 697.7H173.2V713.7H126.5ZM233.9 697.7H326.6V713.7H233.9ZM111.2 682.4H142.5V698.3H111.2ZM157.2 682.4H173.2V698.3H157.2ZM218.6 682.4H311.3V698.3H218.6ZM111.2 667H142.5V683H111.2ZM218.6 667H295.9V683H218.6ZM111.2 651.7H127.1V667.6H111.2ZM141.9 651.7H173.2V667.6H141.9ZM187.9 651.7H280.6V667.6H187.9ZM111.2 636.3H127.1V652.3H111.2ZM141.9 636.3H249.9V652.3H141.9ZM101.4 621H111.8V636.9H101.4ZM141.9 621H219.2V636.9H141.9ZM101.4 605.6H127.1V621.6H101.4ZM141.9 605.6H219.2V621.6H141.9ZM101.4 590.2H127.1V606.2H101.4ZM157.2 590.2H203.8V606.2H157.2ZM101.4 574.9H111.8V590.8H101.4ZM157.2 574.9H188.5V590.8H157.2ZM111.2 559.5H127.1V575.5H111.2ZM141.9 559.5H173.2V575.5H141.9ZM101.4 544.2H142.5V560.1H101.4ZM101.4 528.8H111.8V544.8H101.4Z"/>
<path fill="#e85b48" d="M648.2 1357.9H725.6V1365.6H648.2ZM571.5 1342.5H602.8V1358.5H571.5ZM632.9 1342.5H740.9V1358.5H632.9ZM571.5 1327.2H602.8V1343.1H571.5ZM632.9 1327.2H771.6V1343.1H632.9ZM571.5 1311.8H787V1327.8H571.5ZM494.8 1296.5H526.1V1312.4H494.8ZM571.5 1296.5H756.3V1312.4H571.5ZM387.4 1281.1H418.7V1297.1H387.4ZM433.4 1281.1H710.2V1297.1H433.4ZM740.3 1281.1H771.6V1297.1H740.3ZM786.4 1281.1H802.3V1297.1H786.4ZM372 1265.8H679.5V1281.7H372ZM786.4 1265.8H802.3V1281.7H786.4ZM295.3 1250.4H311.3V1266.4H295.3ZM356.7 1250.4H602.8V1266.4H356.7ZM801.7 1250.4H817.6V1266.4H801.7ZM310.7 1235.1H341.9V1251H310.7ZM356.7 1235.1H541.4V1251H356.7ZM801.7 1235.1H817.6V1251H801.7ZM295.3 1219.7H526.1V1235.7H295.3ZM801.7 1219.7H817.6V1235.7H801.7ZM295.3 1204.3H480.1V1220.3H295.3ZM801.7 1204.3H833V1220.3H801.7ZM326 1189H464.7V1204.9H326ZM801.7 1189H833V1204.9H801.7ZM1308.1 1189H1370.1V1204.9H1308.1ZM101.4 1173.6H265.2V1189.6H101.4ZM326 1173.6H418.7V1189.6H326ZM448.8 1173.6H464.7V1189.6H448.8ZM801.7 1173.6H833V1189.6H801.7ZM1308.1 1173.6H1354.7V1189.6H1308.1ZM101.4 1158.3H418.7V1174.2H101.4ZM1308.1 1158.3H1339.4V1174.2H1308.1ZM101.4 1142.9H203.8V1158.9H101.4ZM280 1142.9H403.3V1158.9H280ZM101.4 1127.6H188.5V1143.5H101.4ZM310.7 1127.6H341.9V1143.5H310.7ZM101.4 1112.2H203.8V1128.2H101.4ZM955.1 1112.2H971.1V1128.2H955.1ZM1430.8 1112.2H1462.1V1128.2H1430.8ZM1553.6 1112.2H1569.5V1128.2H1553.6ZM1584.3 1112.2H1638.5V1128.2H1584.3ZM648.2 1096.9H694.9V1112.8H648.2ZM985.8 1096.9H1001.8V1112.8H985.8ZM1446.2 1096.9H1492.8V1112.8H1446.2ZM1538.3 1096.9H1638.5V1112.8H1538.3ZM617.6 1081.5H664.2V1097.5H617.6ZM678.9 1081.5H694.9V1097.5H678.9ZM1492.2 1081.5H1638.5V1097.5H1492.2ZM602.2 1066.2H679.5V1082.1H602.2ZM1016.5 1066.2H1032.5V1082.1H1016.5ZM1476.9 1066.2H1638.5V1082.1H1476.9ZM602.2 1050.8H618.2V1066.8H602.2ZM632.9 1050.8H664.2V1066.8H632.9ZM1476.9 1050.8H1615.6V1066.8H1476.9ZM617.6 1035.5H648.8V1051.4H617.6ZM1461.5 1035.5H1630.9V1051.4H1461.5ZM586.9 1020.1H633.5V1036.1H586.9ZM1062.6 1020.1H1078.5V1036.1H1062.6ZM1446.2 1020.1H1600.2V1036.1H1446.2ZM571.5 1004.8H602.8V1020.7H571.5ZM1446.2 1004.8H1523.5V1020.7H1446.2ZM556.2 989.4H602.8V1005.4H556.2ZM1446.2 989.4H1523.5V1005.4H1446.2ZM540.8 974.1H556.8V990H540.8ZM571.5 974.1H602.8V990H571.5ZM1430.8 974.1H1538.9V990H1430.8ZM510.1 958.7H526.1V974.7H510.1ZM571.5 958.7H602.8V974.7H571.5ZM1323.4 958.7H1523.5V974.7H1323.4ZM464.1 943.4H510.7V959.3H464.1ZM571.5 943.4H602.8V959.3H571.5ZM1231.4 943.4H1400.8V959.3H1231.4ZM418.1 928H464.7V944H418.1ZM586.9 928H648.8V944H586.9ZM1216 928H1308.7V944H1216ZM372 912.7H418.7V928.6H372ZM602.2 912.7H664.2V928.6H602.2ZM1154.6 912.7H1247.3V928.6H1154.6ZM1262 912.7H1293.3V928.6H1262ZM372 897.3H388V913.3H372ZM602.2 897.3H679.5V913.3H602.2ZM1108.6 897.3H1124.5V913.3H1108.6ZM1139.3 897.3H1278V913.3H1139.3ZM326 881.9H341.9V897.9H326ZM372 881.9H388V897.9H372ZM632.9 881.9H694.9V897.9H632.9ZM832.4 881.9H848.3V897.9H832.4ZM1077.9 881.9H1185.9V897.9H1077.9ZM1246.7 881.9H1262.6V897.9H1246.7ZM310.7 866.6H357.3V882.5H310.7ZM648.2 866.6H710.2V882.5H648.2ZM817 866.6H879V882.5H817ZM909.1 866.6H955.7V882.5H909.1ZM1047.2 866.6H1124.5V882.5H1047.2ZM1139.3 866.6H1155.2V882.5H1139.3ZM295.3 851.2H326.6V867.2H295.3ZM356.7 851.2H403.3V867.2H356.7ZM663.6 851.2H1093.9V867.2H663.6ZM233.9 835.9H249.9V851.8H233.9ZM280 835.9H326.6V851.8H280ZM356.7 835.9H403.3V851.8H356.7ZM678.9 835.9H1078.5V851.8H678.9ZM218.6 820.5H249.9V836.5H218.6ZM280 820.5H388V836.5H280ZM709.6 820.5H817.6V836.5H709.6ZM832.4 820.5H986.4V836.5H832.4ZM264.6 805.2H388V821.1H264.6ZM725 805.2H787V821.1H725ZM847.7 805.2H909.7V821.1H847.7ZM187.9 789.8H203.8V805.8H187.9ZM249.3 789.8H295.9V805.8H249.3ZM326 789.8H388V805.8H326ZM832.4 789.8H863.7V805.8H832.4ZM187.9 774.5H203.8V790.4H187.9ZM233.9 774.5H388V790.4H233.9ZM924.5 774.5H940.4V790.4H924.5ZM218.6 759.1H388V775.1H218.6ZM924.5 759.1H940.4V775.1H924.5ZM172.6 743.8H188.5V759.7H172.6ZM203.2 743.8H372.6V759.7H203.2ZM187.9 728.4H326.6V744.4H187.9ZM187.9 713.1H295.9V729H187.9ZM111.2 697.7H127.1V713.7H111.2ZM172.6 697.7H234.5V713.7H172.6ZM141.9 682.4H157.8V698.3H141.9ZM172.6 682.4H219.2V698.3H172.6ZM141.9 667H219.2V683H141.9ZM126.5 651.7H142.5V667.6H126.5ZM172.6 651.7H188.5V667.6H172.6ZM126.5 636.3H142.5V652.3H126.5ZM126.5 621H142.5V636.9H126.5ZM126.5 605.6H142.5V621.6H126.5ZM126.5 590.2H157.8V606.2H126.5ZM111.2 574.9H157.8V590.8H111.2ZM126.5 559.5H142.5V575.5H126.5Z"/>
<path fill="#d7414e" d="M725 1357.9H740.9V1365.6H725ZM740.3 1342.5H756.3V1358.5H740.3ZM1568.9 1327.2H1584.9V1343.1H1568.9ZM817 1311.8H833V1327.8H817ZM1553.6 1311.8H1615.6V1327.8H1553.6ZM786.4 1296.5H802.3V1312.4H786.4ZM1553.6 1296.5H1638.5V1312.4H1553.6ZM709.6 1281.1H740.9V1297.1H709.6ZM801.7 1281.1H817.6V1297.1H801.7ZM863.1 1281.1H879V1297.1H863.1ZM1568.9 1281.1H1638.5V1297.1H1568.9ZM678.9 1265.8H787V1281.7H678.9ZM801.7 1265.8H817.6V1281.7H801.7ZM1538.3 1265.8H1638.5V1281.7H1538.3ZM602.2 1250.4H802.3V1266.4H602.2ZM1522.9 1250.4H1638.5V1266.4H1522.9ZM540.8 1235.1H802.3V1251H540.8ZM1446.2 1235.1H1462.1V1251H1446.2ZM1507.6 1235.1H1638.5V1251H1507.6ZM525.5 1219.7H633.5V1235.7H525.5ZM694.3 1219.7H802.3V1235.7H694.3ZM817 1219.7H833V1235.7H817ZM1430.8 1219.7H1462.1V1235.7H1430.8ZM1492.2 1219.7H1508.2V1235.7H1492.2ZM1522.9 1219.7H1638.5V1235.7H1522.9ZM479.5 1204.3H618.2V1220.3H479.5ZM786.4 1204.3H802.3V1220.3H786.4ZM1323.4 1204.3H1523.5V1220.3H1323.4ZM1538.3 1204.3H1638.5V1220.3H1538.3ZM464.1 1189H618.2V1204.9H464.1ZM771 1189H802.3V1204.9H771ZM1292.7 1189H1308.7V1204.9H1292.7ZM1369.5 1189H1523.5V1204.9H1369.5ZM1568.9 1189H1638.5V1204.9H1568.9ZM418.1 1173.6H449.4V1189.6H418.1ZM464.1 1173.6H618.2V1189.6H464.1ZM786.4 1173.6H802.3V1189.6H786.4ZM1292.7 1173.6H1308.7V1189.6H1292.7ZM1354.1 1173.6H1508.2V1189.6H1354.1ZM1553.6 1173.6H1638.5V1189.6H1553.6ZM418.1 1158.3H618.2V1174.2H418.1ZM786.4 1158.3H833V1174.2H786.4ZM1292.7 1158.3H1308.7V1174.2H1292.7ZM1338.8 1158.3H1638.5V1174.2H1338.8ZM203.2 1142.9H280.6V1158.9H203.2ZM402.7 1142.9H556.8V1158.9H402.7ZM786.4 1142.9H817.6V1158.9H786.4ZM1277.4 1142.9H1638.5V1158.9H1277.4ZM187.9 1127.6H311.3V1143.5H187.9ZM341.3 1127.6H495.4V1143.5H341.3ZM1277.4 1127.6H1638.5V1143.5H1277.4ZM203.2 1112.2H434V1128.2H203.2ZM632.9 1112.2H679.5V1128.2H632.9ZM939.8 1112.2H955.7V1128.2H939.8ZM1277.4 1112.2H1431.4V1128.2H1277.4ZM1461.5 1112.2H1554.2V1128.2H1461.5ZM1568.9 1112.2H1584.9V1128.2H1568.9ZM101.4 1096.9H403.3V1112.8H101.4ZM602.2 1096.9H648.8V1112.8H602.2ZM694.3 1096.9H710.2V1112.8H694.3ZM1262 1096.9H1446.8V1112.8H1262ZM1492.2 1096.9H1538.9V1112.8H1492.2ZM101.4 1081.5H249.9V1097.5H101.4ZM295.3 1081.5H372.6V1097.5H295.3ZM602.2 1081.5H618.2V1097.5H602.2ZM694.3 1081.5H725.6V1097.5H694.3ZM1001.2 1081.5H1017.1V1097.5H1001.2ZM1262 1081.5H1308.7V1097.5H1262ZM1323.4 1081.5H1492.8V1097.5H1323.4ZM101.4 1066.2H249.9V1082.1H101.4ZM678.9 1066.2H710.2V1082.1H678.9ZM1231.4 1066.2H1308.7V1082.1H1231.4ZM1338.8 1066.2H1354.7V1082.1H1338.8ZM1415.5 1066.2H1477.5V1082.1H1415.5ZM101.4 1050.8H188.5V1066.8H101.4ZM203.2 1050.8H265.2V1066.8H203.2ZM586.9 1050.8H602.8V1066.8H586.9ZM663.6 1050.8H694.9V1066.8H663.6ZM1231.4 1050.8H1293.3V1066.8H1231.4ZM1415.5 1050.8H1477.5V1066.8H1415.5ZM101.4 1035.5H188.5V1051.4H101.4ZM586.9 1035.5H602.8V1051.4H586.9ZM648.2 1035.5H679.5V1051.4H648.2ZM1047.2 1035.5H1093.9V1051.4H1047.2ZM1231.4 1035.5H1308.7V1051.4H1231.4ZM1323.4 1035.5H1462.1V1051.4H1323.4ZM101.4 1020.1H188.5V1036.1H101.4ZM571.5 1020.1H587.5V1036.1H571.5ZM632.9 1020.1H679.5V1036.1H632.9ZM1031.9 1020.1H1063.2V1036.1H1031.9ZM1077.9 1020.1H1093.9V1036.1H1077.9ZM1231.4 1020.1H1446.8V1036.1H1231.4ZM101.4 1004.8H173.2V1020.7H101.4ZM602.2 1004.8H679.5V1020.7H602.2ZM1216 1004.8H1232V1020.7H1216ZM1246.7 1004.8H1262.6V1020.7H1246.7ZM1277.4 1004.8H1446.8V1020.7H1277.4ZM101.4 989.4H142.5V1005.4H101.4ZM540.8 989.4H556.8V1005.4H540.8ZM602.2 989.4H679.5V1005.4H602.2ZM1262 989.4H1446.8V1005.4H1262ZM101.4 974.1H111.8V990H101.4ZM510.1 974.1H541.4V990H510.1ZM602.2 974.1H648.8V990H602.2ZM663.6 974.1H679.5V990H663.6ZM1231.4 974.1H1431.4V990H1231.4ZM494.8 958.7H510.7V974.7H494.8ZM602.2 958.7H664.2V974.7H602.2ZM1200.7 958.7H1324V974.7H1200.7ZM418.1 943.4H464.7V959.3H418.1ZM602.2 943.4H756.3V959.3H602.2ZM771 943.4H787V959.3H771ZM1170 943.4H1232V959.3H1170ZM372 928H418.7V944H372ZM648.2 928H817.6V944H648.2ZM847.7 928H879V944H847.7ZM1139.3 928H1216.6V944H1139.3ZM341.3 912.7H372.6V928.6H341.3ZM663.6 912.7H909.7V928.6H663.6ZM1047.2 912.7H1155.2V928.6H1047.2ZM326 897.3H357.3V913.3H326ZM678.9 897.3H1109.2V913.3H678.9ZM1123.9 897.3H1139.9V913.3H1123.9ZM310.7 881.9H326.6V897.9H310.7ZM694.3 881.9H833V897.9H694.3ZM847.7 881.9H1078.5V897.9H847.7ZM172.6 866.6H219.2V882.5H172.6ZM295.3 866.6H311.3V882.5H295.3ZM356.7 866.6H372.6V882.5H356.7ZM709.6 866.6H817.6V882.5H709.6ZM878.4 866.6H909.7V882.5H878.4ZM955.1 866.6H1047.8V882.5H955.1ZM126.5 851.2H173.2V867.2H126.5ZM218.6 851.2H295.9V867.2H218.6ZM101.4 835.9H157.8V851.8H101.4ZM203.2 820.5H219.2V836.5H203.2ZM187.9 805.2H203.8V821.1H187.9ZM295.3 789.8H326.6V805.8H295.3ZM141.9 743.8H173.2V759.7H141.9ZM126.5 728.4H142.5V744.4H126.5ZM101.4 651.7H111.8V667.6H101.4ZM101.4 636.3H111.8V652.3H101.4Z"/>
<path fill="#bc2249" d="M740.3 1357.9H756.3V1365.6H740.3ZM1599.6 1357.9H1638.5V1365.6H1599.6ZM1568.9 1342.5H1638.5V1358.5H1568.9ZM771 1327.2H787V1343.1H771ZM1553.6 1327.2H1569.5V1343.1H1553.6ZM1584.3 1327.2H1638.5V1343.1H1584.3ZM786.4 1311.8H802.3V1327.8H786.4ZM1538.3 1311.8H1554.2V1327.8H1538.3ZM1615 1311.8H1638.5V1327.8H1615ZM801.7 1296.5H817.6V1312.4H801.7ZM1538.3 1296.5H1554.2V1312.4H1538.3ZM1538.3 1281.1H1569.5V1297.1H1538.3ZM1446.2 1265.8H1492.8V1281.7H1446.2ZM1522.9 1265.8H1538.9V1281.7H1522.9ZM817 1250.4H833V1266.4H817ZM1430.8 1250.4H1523.5V1266.4H1430.8ZM817 1235.1H833V1251H817ZM1415.5 1235.1H1446.8V1251H1415.5ZM1461.5 1235.1H1508.2V1251H1461.5ZM632.9 1219.7H694.9V1235.7H632.9ZM909.1 1219.7H925.1V1235.7H909.1ZM1338.8 1219.7H1431.4V1235.7H1338.8ZM1461.5 1219.7H1492.8V1235.7H1461.5ZM1507.6 1219.7H1523.5V1235.7H1507.6ZM617.6 1204.3H787V1220.3H617.6ZM832.4 1204.3H848.3V1220.3H832.4ZM924.5 1204.3H940.4V1220.3H924.5ZM1308.1 1204.3H1324V1220.3H1308.1ZM1522.9 1204.3H1538.9V1220.3H1522.9ZM617.6 1189H771.6V1204.9H617.6ZM863.1 1189H894.4V1204.9H863.1ZM939.8 1189H955.7V1204.9H939.8ZM1262 1189H1278V1204.9H1262ZM1522.9 1189H1569.5V1204.9H1522.9ZM617.6 1173.6H787V1189.6H617.6ZM863.1 1173.6H879V1189.6H863.1ZM893.8 1173.6H909.7V1189.6H893.8ZM1246.7 1173.6H1293.3V1189.6H1246.7ZM1507.6 1173.6H1554.2V1189.6H1507.6ZM617.6 1158.3H787V1174.2H617.6ZM863.1 1158.3H879V1174.2H863.1ZM1246.7 1158.3H1293.3V1174.2H1246.7ZM556.2 1142.9H787V1158.9H556.2ZM817 1142.9H833V1158.9H817ZM863.1 1142.9H894.4V1158.9H863.1ZM1231.4 1142.9H1278V1158.9H1231.4ZM494.8 1127.6H710.2V1143.5H494.8ZM740.3 1127.6H833V1143.5H740.3ZM847.7 1127.6H894.4V1143.5H847.7ZM939.8 1127.6H955.7V1143.5H939.8ZM1231.4 1127.6H1278V1143.5H1231.4ZM433.4 1112.2H633.5V1128.2H433.4ZM678.9 1112.2H710.2V1128.2H678.9ZM725 1112.2H817.6V1128.2H725ZM878.4 1112.2H894.4V1128.2H878.4ZM924.5 1112.2H940.4V1128.2H924.5ZM1216 1112.2H1278V1128.2H1216ZM402.7 1096.9H526.1V1112.8H402.7ZM571.5 1096.9H602.8V1112.8H571.5ZM709.6 1096.9H802.3V1112.8H709.6ZM1216 1096.9H1262.6V1112.8H1216ZM249.3 1081.5H295.9V1097.5H249.3ZM372 1081.5H510.7V1097.5H372ZM586.9 1081.5H602.8V1097.5H586.9ZM725 1081.5H787V1097.5H725ZM1200.7 1081.5H1262.6V1097.5H1200.7ZM1308.1 1081.5H1324V1097.5H1308.1ZM249.3 1066.2H449.4V1082.1H249.3ZM586.9 1066.2H602.8V1082.1H586.9ZM709.6 1066.2H771.6V1082.1H709.6ZM1200.7 1066.2H1232V1082.1H1200.7ZM1308.1 1066.2H1339.4V1082.1H1308.1ZM1354.1 1066.2H1416.1V1082.1H1354.1ZM187.9 1050.8H203.8V1066.8H187.9ZM264.6 1050.8H403.3V1066.8H264.6ZM694.3 1050.8H756.3V1066.8H694.3ZM1108.6 1050.8H1170.6V1066.8H1108.6ZM1200.7 1050.8H1232V1066.8H1200.7ZM1292.7 1050.8H1416.1V1066.8H1292.7ZM187.9 1035.5H388V1051.4H187.9ZM571.5 1035.5H587.5V1051.4H571.5ZM678.9 1035.5H756.3V1051.4H678.9ZM909.1 1035.5H940.4V1051.4H909.1ZM1031.9 1035.5H1047.8V1051.4H1031.9ZM1108.6 1035.5H1170.6V1051.4H1108.6ZM1216 1035.5H1232V1051.4H1216ZM1308.1 1035.5H1324V1051.4H1308.1ZM187.9 1020.1H388V1036.1H187.9ZM678.9 1020.1H740.9V1036.1H678.9ZM924.5 1020.1H955.7V1036.1H924.5ZM1016.5 1020.1H1032.5V1036.1H1016.5ZM1123.9 1020.1H1155.2V1036.1H1123.9ZM1200.7 1020.1H1232V1036.1H1200.7ZM172.6 1004.8H403.3V1020.7H172.6ZM556.2 1004.8H572.1V1020.7H556.2ZM678.9 1004.8H740.9V1020.7H678.9ZM1031.9 1004.8H1093.9V1020.7H1031.9ZM1170 1004.8H1216.6V1020.7H1170ZM1231.4 1004.8H1247.3V1020.7H1231.4ZM1262 1004.8H1278V1020.7H1262ZM141.9 989.4H403.3V1005.4H141.9ZM678.9 989.4H740.9V1005.4H678.9ZM924.5 989.4H940.4V1005.4H924.5ZM1185.3 989.4H1262.6V1005.4H1185.3ZM111.2 974.1H418.7V990H111.2ZM648.2 974.1H664.2V990H648.2ZM678.9 974.1H771.6V990H678.9ZM924.5 974.1H955.7V990H924.5ZM1185.3 974.1H1232V990H1185.3ZM101.4 958.7H357.3V974.7H101.4ZM372 958.7H495.4V974.7H372ZM663.6 958.7H817.6V974.7H663.6ZM909.1 958.7H955.7V974.7H909.1ZM1170 958.7H1201.3V974.7H1170ZM101.4 943.4H326.6V959.3H101.4ZM372 943.4H418.7V959.3H372ZM755.7 943.4H771.6V959.3H755.7ZM786.4 943.4H955.7V959.3H786.4ZM1123.9 943.4H1170.6V959.3H1123.9ZM126.5 928H372.6V944H126.5ZM817 928H848.3V944H817ZM878.4 928H955.7V944H878.4ZM1047.2 928H1139.9V944H1047.2ZM126.5 912.7H341.9V928.6H126.5ZM909.1 912.7H1047.8V928.6H909.1ZM126.5 897.3H326.6V913.3H126.5ZM356.7 897.3H372.6V913.3H356.7ZM126.5 881.9H311.3V897.9H126.5ZM341.3 881.9H357.3V897.9H341.3ZM126.5 866.6H173.2V882.5H126.5ZM218.6 866.6H295.9V882.5H218.6ZM101.4 851.2H127.1V867.2H101.4ZM172.6 851.2H203.8V867.2H172.6ZM157.2 835.9H173.2V851.8H157.2ZM218.6 835.9H234.5V851.8H218.6ZM101.4 820.5H157.8V836.5H101.4ZM172.6 759.1H188.5V775.1H172.6ZM111.2 713.1H127.1V729H111.2ZM101.4 682.4H111.8V698.3H101.4ZM101.4 667H111.8V683H101.4Z"/>
<path fill="#9e0142" d="M755.7 1357.9H1600.2V1365.6H755.7ZM755.7 1342.5H1569.5V1358.5H755.7ZM786.4 1327.2H1554.2V1343.1H786.4ZM801.7 1311.8H817.6V1327.8H801.7ZM832.4 1311.8H1538.9V1327.8H832.4ZM817 1296.5H1538.9V1312.4H817ZM817 1281.1H863.7V1297.1H817ZM878.4 1281.1H1538.9V1297.1H878.4ZM817 1265.8H1446.8V1281.7H817ZM1492.2 1265.8H1523.5V1281.7H1492.2ZM832.4 1250.4H1431.4V1266.4H832.4ZM832.4 1235.1H1416.1V1251H832.4ZM832.4 1219.7H909.7V1235.7H832.4ZM924.5 1219.7H1339.4V1235.7H924.5ZM847.7 1204.3H925.1V1220.3H847.7ZM939.8 1204.3H1308.7V1220.3H939.8ZM832.4 1189H863.7V1204.9H832.4ZM893.8 1189H940.4V1204.9H893.8ZM955.1 1189H1262.6V1204.9H955.1ZM1277.4 1189H1293.3V1204.9H1277.4ZM832.4 1173.6H863.7V1189.6H832.4ZM878.4 1173.6H894.4V1189.6H878.4ZM909.1 1173.6H1247.3V1189.6H909.1ZM832.4 1158.3H863.7V1174.2H832.4ZM878.4 1158.3H1247.3V1174.2H878.4ZM832.4 1142.9H863.7V1158.9H832.4ZM893.8 1142.9H1232V1158.9H893.8ZM709.6 1127.6H740.9V1143.5H709.6ZM832.4 1127.6H848.3V1143.5H832.4ZM893.8 1127.6H940.4V1143.5H893.8ZM955.1 1127.6H1232V1143.5H955.1ZM709.6 1112.2H725.6V1128.2H709.6ZM817 1112.2H879V1128.2H817ZM893.8 1112.2H925.1V1128.2H893.8ZM970.5 1112.2H1216.6V1128.2H970.5ZM525.5 1096.9H572.1V1112.8H525.5ZM801.7 1096.9H986.4V1112.8H801.7ZM1001.2 1096.9H1216.6V1112.8H1001.2ZM510.1 1081.5H587.5V1097.5H510.1ZM786.4 1081.5H1001.8V1097.5H786.4ZM1016.5 1081.5H1201.3V1097.5H1016.5ZM448.8 1066.2H587.5V1082.1H448.8ZM771 1066.2H1017.1V1082.1H771ZM1031.9 1066.2H1201.3V1082.1H1031.9ZM402.7 1050.8H587.5V1066.8H402.7ZM755.7 1050.8H1109.2V1066.8H755.7ZM1170 1050.8H1201.3V1066.8H1170ZM387.4 1035.5H572.1V1051.4H387.4ZM755.7 1035.5H909.7V1051.4H755.7ZM939.8 1035.5H1032.5V1051.4H939.8ZM1093.3 1035.5H1109.2V1051.4H1093.3ZM1170 1035.5H1216.6V1051.4H1170ZM387.4 1020.1H572.1V1036.1H387.4ZM740.3 1020.1H925.1V1036.1H740.3ZM955.1 1020.1H1017.1V1036.1H955.1ZM1093.3 1020.1H1124.5V1036.1H1093.3ZM1154.6 1020.1H1201.3V1036.1H1154.6ZM402.7 1004.8H556.8V1020.7H402.7ZM740.3 1004.8H1032.5V1020.7H740.3ZM1093.3 1004.8H1170.6V1020.7H1093.3ZM402.7 989.4H541.4V1005.4H402.7ZM740.3 989.4H925.1V1005.4H740.3ZM939.8 989.4H1185.9V1005.4H939.8ZM418.1 974.1H510.7V990H418.1ZM771 974.1H925.1V990H771ZM955.1 974.1H1185.9V990H955.1ZM356.7 958.7H372.6V974.7H356.7ZM817 958.7H909.7V974.7H817ZM955.1 958.7H1170.6V974.7H955.1ZM326 943.4H372.6V959.3H326ZM955.1 943.4H1124.5V959.3H955.1ZM101.4 928H127.1V944H101.4ZM955.1 928H1047.8V944H955.1ZM101.4 912.7H127.1V928.6H101.4ZM101.4 897.3H127.1V913.3H101.4ZM101.4 881.9H127.1V897.9H101.4ZM356.7 881.9H372.6V897.9H356.7ZM101.4 866.6H127.1V882.5H101.4ZM203.2 851.2H219.2V867.2H203.2ZM172.6 835.9H219.2V851.8H172.6ZM157.2 820.5H203.8V836.5H157.2ZM101.4 805.2H188.5V821.1H101.4ZM101.4 789.8H188.5V805.8H101.4ZM101.4 774.5H188.5V790.4H101.4ZM101.4 759.1H173.2V775.1H101.4ZM101.4 743.8H142.5V759.7H101.4ZM101.4 728.4H127.1V744.4H101.4ZM101.4 713.1H111.8V729H101.4ZM101.4 697.7H111.8V713.7H101.4Z"/></g>
<path d="M1597.8 137.7 1594.1 139.6 1589.7 141.8 1584.6 144.3 1579.5 146.8 1574.6 149.7 1570.1 153 1565.8 154.8 1561.6 156.5 1556.5 158.3 1551.3 160.2 1546.2 162 1541.9 165.2 1537.7 168.4 1533.1 170.7 1528.3 172.7 1523.2 174.2 1518.1 175.8 1513.2 177.8 1508.4 180.1 1503.6 182.5 1500.2 184.1 1495.1 185.4 1490 186.7 1484.8 188 1479.7 189.3 1474.6 190.7 1469.5 192 1464.7 194.8 1459.9 197.6 1455.8 200 1451.6 201.9 1446.5 203.8 1441.4 205.8 1436.4 208 1431.4 210.6 1426.5 213.1 1423.5 214.7 1418.4 216.3 1413.2 218 1408.1 219.7 1403 220.9 1397.9 222.2 1392.8 223.5 1387.7 225.6 1382.5 227.6 1377.4 229.7 1374.8 230.6 1369.7 232.2 1364.6 233.8 1359.5 235.3 1354.4 236.9 1349.3 238.4 1344.4 240.4 1339.9 242.8 1335.3 245.1 1331.4 246.7 1326.3 246.3 1321.2 245.8 1316.1 245.4 1310.9 246.7 1305.8 248 1300.7 249.3 1295.6 250.3 1290.5 251.3 1285.4 252.3 1280.2 253.7 1275.1 255.1 1270 256.4 1264.6 258.1 1259.1 259.7 1254.7 260.8 1249.6 261.4 1244.4 262 1239.3 262.7 1234.2 263.1 1229.1 263.5 1224 263.9 1218.9 264.5 1213.8 265 1208.6 265.6 1203.5 266.7 1198.4 267.8 1193.3 268.9 1188.2 269.9 1183.1 270.9 1178 272 1172.8 273.2 1167.7 274.4 1162.6 275.7 1159.1 276.2 1153.2 276.9 1147.3 277.7 1142.1 278.1 1137 278.5 1131.9 278.9 1126.8 278.6 1121.7 278.4 1116.6 278.1 1111.5 278 1106.3 277.9 1101.2 277.8 1096.1 277.9 1091 277.9 1085.9 278 1080.8 277.7 1075.7 277.4 1070.5 277.1 1064.8 276.6 1059.1 276.1 1055.2 275.6 1050.1 274.7 1045 273.8 1039.8 272.9 1034.7 272.1 1029.6 271.2 1024.5 270.4 1019.4 269.7 1014.3 269.1 1009.2 268.4 1004 267.6 998.9 266.8 993.8 266 988.7 265.5 983.6 265 978.5 264.5 973.4 264.6 968.2 264.7 963.1 264.8 958 265.2 952.9 265.5 947.8 265.9 942.7 266.3 937.5 266.6 932.4 267 927.3 267.2 922.2 267.5 917.1 267.8 912 267.5 906.9 267.2 901.7 267 896.6 267.3 891.5 267.5 886.4 267.8 881.3 269.8 876.2 271.8 871 273.8 867 275.1 862.6 276.1 858 276.6 853.1 277.2 848 278 842.9 278.8 838.2 280.9 833.9 284.3 829.6 287.7 825.3 291.2 822.5 292.6 817.3 295.1 812.2 297.7 807.4 300.2 802.8 302.8 798.1 305.3 794.3 307 789.2 308.9 784.1 310.8 779 312.8 773.9 313.9 768.8 315.1 763.6 316.2 758.5 317.9 753.4 319.7 748.3 321.4 744.2 322.2 738.6 322.8 732.9 323.5 727.8 324.7 722.7 325.8 717.6 327 712.5 329.2 707.4 331.3 702.3 333.4 698 335.3 693.7 337.2 689.2 337.8 684.4 338.2 679.2 338.4 674.1 338.7 669 339.1 663.9 339.7 658.8 340.4 653.7 341.1 648.5 341.8 643.4 342.5 638.3 342.6 633.2 342.1 628.1 341.6 623 341.4 617.9 341.4 612.7 341.3 607.6 341.2 602.5 340.8 597.4 340.5 592.3 340.5 587.2 340.7 582.1 340.9 576.9 341.1 571.8 341.1 566.7 341.2 561.6 341.3 556.5 341.5 551.4 341.7 546.2 342.1 541.1 342.7 536 343.4 530.9 344.1 525.8 344.9 520.7 345.7 515.6 346.4 510.4 347.1 505.3 347.7 500.2 348.4 495.1 349.2 490 349.9 484.9 350.9 479.9 352 474.7 353 469.5 353.9 464.4 355 459.3 356.1 454.2 356.9 449.1 357.4 443.9 357.9 438.8 358.7 433.7 359.6 428.6 360.5 423.5 361.2 418.4 361.4 413.3 361.7 408.1 361.3 403 360.3 397.9 359.3 392.8 358.1 387.7 357 382.6 355.8 377.8 353.9 373.4 350.8 369 347.3 364.7 343.7 359.5 341.1 354.3 338.5 350.5 336.2 347.4 332.9 343.5 328.5 339.6 324.1 335.8 320.7 331.4 318 326.3 315.1 321.2 312.2 316.6 309.3 312.7 306.5 308.9 303.2 305.2 299.9 300.7 297.8 295.6 297.1 290.5 296.4 285.4 295.5 280.3 294.5 275.2 293.4 270.8 292 266.7 289.4 262 285.8 257.2 282.2 253.1 277.9 249.2 273.7 245.6 269.3 241.9 265 238.4 260.5 235.4 255.4 232.5 250.2 229.6 245.1 226.6 241.2 223.7 236.6M195.9 194.5 192.6 190.2 189.3 185.9 185.9 181.7 182.3 177.7 179.1 173.8 176.2 170.2 173.1 166 169.9 161.2 166.8 156.4 164.6 153 162.9 147.9 161.2 142.8 159.5 137.7M1638.3 141 1633.2 142.5 1628.1 144 1623 145.5 1617.8 147.6 1612.7 149.8 1607.6 151.9 1603.4 154.3 1598.9 156.9 1594.5 159.5 1589.7 162 1584.6 164.4 1579.5 166.8 1576.2 168.4 1571.3 170.9M1523.2 194.2 1518.1 196.3 1513.4 198.2 1509 200.1 1504.6 202.1 1500.2 204.1 1495.1 206 1490 207.8 1484.9 209.6 1480.4 212 1475.9 214.4 1471.6 216.5 1466.9 218.5 1461.8 220.4 1456.7 222.3 1451.6 224.3 1446.5 226.3 1441.4 228.3 1437.7 229.8 1433 231.5 1428.2 233.2 1423.5 234.9 1418.4 236.9 1413.2 238.8 1408.1 240.8 1403.4 243 1398.6 245.1 1394.7 246.6 1390.2 247.9 1385.1 249.1 1380 250.3 1374.9 251.5 1369.8 252.7 1364.6 253.9 1359.7 256 1354.9 259 1350.6 261.6 1346.7 263.9 1341.6 265.1 1336.5 266.3 1331.4 267.5 1326.3 267 1321.2 266.6 1316.1 266.1 1310.9 267 1305.8 267.8 1300.7 268.7 1295.6 269.9 1290.5 271.2 1285.4 272.4 1280.2 273.3 1275.1 274.2 1270 275 1264.9 275.4 1259.9 275.8 1254.7 276.2 1249.6 276.6 1244.4 277 1239.3 277.4 1234.2 277.9 1229.1 278.3 1224 278.8 1218.9 279.6 1213.8 280.4 1208.6 281.2 1203.5 282.3 1198.4 283.4 1193.3 284.5 1188.2 285.6 1183.1 286.6 1178 287.7 1172.8 288.4 1167.7 289 1162.6 289.6 1157.8 290.4 1153 291.2 1147.3 292.2 1142.1 293.1 1137 294 1131.9 295 1126.8 294.7 1121.7 294.5 1116.6 294.2 1111.5 294 1106.3 293.7 1101.2 293.4 1096.1 293.9 1091 294.3 1085.9 294.7 1080.8 294.2 1075.7 293.6 1070.5 293 1065 291.8 1059.9 290.7 1055.2 289.7 1050.1 288.8 1045 287.9 1039.8 287 1034.7 286.2 1029.6 285.3 1024.5 284.4 1019.4 283.5 1014.3 282.6 1009.2 281.7 1004 280.9 998.9 280 993.8 279.1 988.7 278.3 983.6 277.5 978.5 276.7 973.4 276.8 968.2 276.8 963.1 276.9 958 277.2 952.9 277.6 947.8 278 942.7 278.2 937.5 278.5 932.4 278.8 927.3 278.9 922.2 279 917.1 279.1 912 278.8 906.9 278.6 901.7 278.4 896.6 278.5 891.5 278.7 886.4 278.8 881.3 279.8 876.2 280.8 871 281.7 865.9 282.7 860.8 283.6 855.7 284.6 850.8 286.8 845.9 289 841 291.2 837.8 292.5 832.7 294.6 827.6 296.8 822.9 299.3 818.6 302.2 814.4 305.1 809.7 308 804.6 309.7 799.4 311.3 794.3 313 789.2 315.5 784.1 318.1 779 320.7 775.9 321.9 771 323.3 766.1 324.8 761.1 325.9 756 326.8 750.8 327.7 745.7 328.9 740.6 330.3 735.5 331.7 730.7 333.7 726.3 336 721.9 338.1 717.6 340 712.5 341 707.4 342 702.3 343 697.1 343.9 692 344.9 686.9 345.9 681.8 346.6 676.7 347.2 671.6 347.9 666.7 349.8 661.8 351.6 657.8 353.1 653.7 354.3 648.5 355.5 643.4 356.7 638.3 357.1 633.2 356.9 628.1 356.7 623 356.7 617.9 357.1 612.7 357.5 607.6 357.7 602.5 357.9 597.4 358.1 592.3 358.3 587.2 358.5 582.1 358.7 576.9 359 571.8 359.2 566.7 359.4 561.6 359.8 556.5 360.2 551.4 360.7 546.2 361.3 541.1 362.2 536 363 530.9 364 525.8 365.1 520.7 366.2 515.8 367.4 510.8 368.6 505.5 370.1 500.2 371.1 495.1 371.9 490 372.6 484.9 373.2 479.8 373.8 474.6 374.4 469.5 374.9 464.4 375.5 459.3 376.1 454.2 376.7 449.1 377.3 443.9 377.9 438.8 378.5 433.7 379 428.6 379.6 423.5 380.1 418.4 380.6 413.3 381.1 408.1 381.3 403 381.1 397.9 380.9 392.8 380.2 387.7 378.8 382.6 377.5 377.5 375.8 372.3 373.7 367.2 371.6 362.4 369.3 357.9 366.6 353.6 363.8 349.3 361.1 344.4 357.7 339.4 354.3 335.5 351.3 332.1 348 328.3 343.7 324.6 339.4 320.7 335.3 316.1 331.9 311 329.1 305.8 326.2 300.6 324 295.1 322.6 290.2 321.2 285.4 319.3 280.3 317 275.2 314.6 270 312.5 264.9 310.5 259.8 308.5 255.3 306.5 250.8 303.9 246.4 301.3 241.9 298.6 237.4 295.7 232.8 292.7 228.5 289.2 224.9 284.9 221.5 280.4 218.1 275.8 215.3 271.3 212.6 266.9 209.8 262.5 207.4 257.9 205.4 252.8 203.3 247.7 200.7 243 197.5 238.7 194.2 234.9 190.8 231.5 186.9 227.8 182.7 223.7 178.9 219.9 175.8 216.2 172.9 211.9 170.2 206.7 167.5 201.6 165.2 197.8 162.7 193.1 160.3 188.4 157.8 183.7 155.1 178.9 152.5 174 149.8 169.2 148.3 165.8 146.1 160.7 143.9 155.6 142.1 150.4 140.7 145.3 139.3 140.2M1638.3 160 1633.2 161.7 1628.1 163.4 1623 165.1 1618.7 167.3 1614.3 169.8 1609.8 172.8 1605.1 175.5 1599.9 178.1 1594.8 180.7 1590.8 182.8 1586.8 185.3 1581.9 188.5 1576.9 191.7 1571.8 193.8 1566.7 195.9 1561.6 198 1556.7 200.3 1551.4 202.7 1546.2 205 1541.1 206.8 1536 208.6 1530.9 210.3 1526.2 213.1 1521.8 215.8 1517.6 218.6 1513 220.8 1507.9 222.5 1502.8 224.1 1497.8 225.9 1493 227.8 1488.3 229.8 1484.9 231.3 1479.7 233.3 1474.6 235.3 1469.5 237.2 1464.4 239 1459.3 240.7 1454.2 242.5 1449.5 244.2 1444.4 246.3 1438.8 248.5 1433.7 250.3 1428.6 252 1423.5 253.7 1418.4 255.5 1413.2 257.2 1408.1 259 1403.8 260.5 1398.3 262.6 1392.8 264.7 1387.7 266.2 1382.5 267.7 1377.4 269.2 1372.3 271.1 1367.2 273 1362.1 274.9 1357.6 276.9 1352.2 279.2 1346.7 281.4 1341.6 282.9 1336.5 284.5 1331.4 286 1326.3 285.8 1321.2 285.6 1316.1 285.3 1310.9 285.7 1305.8 286 1300.7 286.3 1295.6 287 1290.5 287.6 1285.4 288.2 1280.2 288.7 1275.1 289.3 1270 289.8 1264.1 290.4 1258.1 290.9 1254.7 291.2 1249.6 291.5 1244.4 291.7 1239.3 292 1234.2 292.3 1229.1 292.6 1224 292.9 1218.9 293.6 1213.8 294.3 1208.6 295 1203.5 296 1198.4 297.1 1193.3 298.1 1188.2 299.2 1183.1 300.2 1178 301.2 1172.8 302.1 1167.7 303 1162.6 303.9 1156.9 305 1151.1 306 1147.3 306.8 1142.1 307.8 1137 308.9 1131.9 309.9 1126.8 310.7 1121.7 311.4 1116.6 312.1 1111.5 312.1 1106.3 312 1101.2 311.9 1096.1 311.5 1091 311 1085.9 310.5 1080.8 309.7 1075.7 308.8 1070.5 308 1065.9 306.5 1060.6 305 1055.2 303.5 1050.1 302 1045 300.5 1039.8 299 1034.7 297.9 1029.6 296.7 1024.5 295.6 1019.6 294.1 1014.6 292.7 1009.7 291.2 1006.6 290.5 1001.5 289.3 996.4 288.1 991.3 287 986.1 286 981 284.9 975.9 284.3 970.8 284.2 965.7 284 960.6 284 955.4 284.2 950.3 284.3 945.2 284.5 940.1 284.7 935 284.9 929.9 285 924.8 285 919.6 285 914.5 284.9 909.4 284.6 904.3 284.4 899.2 284.4 894.1 284.7 889 285 883.8 285.7 878.7 286.7 873.6 287.7 868.1 288.9 862.3 290.4 857.6 291.7 853.1 293.1 848 294.8 842.9 296.6 837.8 298.6 832.7 300.9 827.6 303.3 823.5 305.5 819.5 307.9 814.6 310.8 809.7 313.6 804.6 315.4 799.4 317.2 794.3 318.9 790.6 320.9 786.3 323.3 781.4 326.1 776.4 328.2 771.3 329.5 766.2 330.9 761.1 332 756 333 750.8 334 745.9 335.4 741 337.2 737 339.3 732.9 341.3 727.8 343.2 722.7 345.2 717.6 347.1 712.5 347.9 707.4 348.7 702.3 349.6 696.5 351.1 690.7 352.6 686.9 353.9 681.8 354.9 676.7 356 671.6 357.1 666.5 358.7 661.3 360.4 656.2 362.1 651.1 363.5 646 364.9 640.9 366.3 636 367 631.2 367.6 627.1 368.3 623 369.1 617.9 370.1 612.7 371 607.6 372 602.5 372.9 597.4 373.9 592.3 374.3 587.2 374.4 582.1 374.5 576.9 374.7 571.8 375 566.7 375.4 561.6 376.1 556.5 377.1 551.4 378.1 546.2 379.3 541.1 380.7 536 382.1 531.9 383.3 526.4 384.5 520.9 385.6 515.6 386.8 510.4 387.9 505.3 389 500.2 390 495.1 391M446.5 397.9 441.4 398.3 436.3 398.2 431.2 398.1 426 398 420.9 398 415.8 398 410.7 397.9 405.6 397.8 400.5 397.6 395.4 397.4 390.2 396.5 385.1 395.6 380 394.7 374.9 393.3 369.8 391.8 364.7 390.3 359.5 388.3 354.4 386.3 349.3 384.2 345.3 382 340.8 379.3 336.2 376.6 331.9 373.8 327.8 370.9 323.6 367.9 320.3 365 316.8 361.3 313 356.9 309.3 352.6 305.3 348.9 300.7 346.3 295.6 344.8 290.5 343.4 285.5 341.3 280.5 338.6 276.2 336.2 272.6 334.2 267.5 332.3 262.4 330.5 257.2 328.7 252.7 326 248.1 323.2 243.8 320.9 239.3 318.6 234.2 315.9 229.1 313.2 224.6 310.6 220.8 307.9 216.9 304.9 213.1 301.6 209.3 298.2 205.5 294.7 201.7 291.2 197.8 286.9 194.2 283 190.8 279.4 187.5 275.8 184 271.9 180.5 268 177.1 264.2 173.7 260.5 170.3 256.6 166.9 252.8 163.7 249 160.7 245.1 157.9 240.7 155.1 236.3 152.3 232 149.8 228 147.8 222.6 145.7 217.1 144.2 211.9 143.2 206.7 142.2 201.6 141 196.5 139.4 191.4 137.8 186.3 136.2 181.9 134.5 178.1 132.4 173.2 130.3 168.4 128.5 163.2 126.8 158.1 125 153 124.2 147.9 123.3 142.8 122.5 137.7M1638.3 189 1633.2 192.1 1628.1 195.2 1623 198.3 1619.5 200.3 1614.7 202.8 1610 205.4 1605.1 207.8 1599.9 210 1594.8 212.3 1590.5 214.4 1586 216.8 1581.5 219.1 1576.9 221.4 1571.8 222.5 1566.7 223.6 1561.6 224.7 1556.5 227.2 1551.5 229.8 1548 232 1543.7 234 1538.6 235.8 1533.4 237.5 1528.2 239.7 1522.9 242.4 1517.6 245.1 1513 247.4 1507.9 249.2 1502.8 250.9 1497.6 252.2 1492.5 253.1 1487.4 254 1482.3 254.8 1477.2 255.7 1472.1 256.5 1467.2 257.8 1462.6 259.6 1458.2 261.5 1454.2 263.6 1449 265.5 1443.9 267.5 1438.8 269.5 1433.7 271.1 1428.6 272.8 1423.5 274.4 1420 275.8 1415.2 277.7 1410.5 279.5 1405.6 281.1 1400.5 282.5 1395.3 284 1390.2 285.3 1385.1 286.5 1380 287.7 1375.1 289 1370.4 290.4 1366 292 1362.1 293.6 1357 295.6 1351.9 297.7 1346.7 299.8 1341.6 301.5 1336.5 303.3 1331.4 305.1 1325.9 306.5 1321 308 1316.1 309.5 1310.9 309.9 1305.8 310.3 1300.7 310.7 1295.6 310.7 1290.5 310.7 1285.4 310.7 1280.2 309.7 1275.1 308.6 1270 307.6 1264.9 308.6 1259.8 309.6 1254.7 310.7 1249.6 310.7 1244.4 310.7 1239.3 310.6 1234.2 310.6 1229.1 310.6 1224 310.7 1218.9 311.3 1213.8 311.9 1208.6 312.5 1203.5 313.3 1198.4 314 1193.3 314.7 1188.2 315.5 1183.1 316.3 1178 317 1172.8 318.6 1167.7 320.2 1162.6 321.7 1159.6 322.5 1154.6 323.8 1149.7 325 1144.7 326.2 1139.6 327.2 1134.5 328.1 1129.4 329 1124.2 329.6 1119.1 330.3 1114 330.6 1108.9 330.5 1103.8 330.5 1098.7 330.1 1093.6 329.3 1088.4 328.5 1083.3 327.4 1078.2 325.9 1073.1 324.4 1068.5 322.8 1063.7 321.1 1058 319.4 1052.6 317.9 1047.5 316.3 1042.4 314.8 1037.3 312.9 1032.2 310.7 1027.1 308.6 1022.4 306.5 1017.1 305.5 1011.8 304.4 1006.6 303.4 1001.5 302.3 996.4 301.2 991.3 299.6 986.1 297.4 981 295.3 975.9 293.6 970.8 292.4 965.6 291.2 960.6 291 955.4 290.9 950.3 290.8 945 290.9 939.5 291.1 934.6 291.3 929.9 291.3 924.9 291.1 919.7 291 914.5 290.8 909.4 290.5 904.3 290.3 898.9 290.4 893.1 290.9 888.3 291.5 883.8 292.5 878.7 293.9 873.6 295.3 868.5 296.5 863.4 297.6 858.3 298.7 853.1 300 848 301.4 842.9 302.8 838.2 304.5 833.8 306.5 829.4 309.4 825 312.2 819.9 314.5 814.8 316.8 809.7 319.1 804.6 321 800.2 323.1 796.3 325.4 791.8 327.9 786.7 330.4 781.5 332.9 776.3 334.8 770.9 336 765.5 337.2 761.1 338.8 756 340.6 750.8 342.4 745.7 344.4 740.6 346.7 735.5 349 730.1 350.9 724.3 352.6 719.8 354.2 715 355.4 709.9 356.4 704.8 357.3 699.7 358.6 694.6 360.1 689.5 361.7 684.4 363.1 679.2 364.4 674.1 365.7 668.7 367.1 663.5 368.9 658.6 370.8 653.7 372.8 648.5 374.9 643.4 377 638.3 378.8 633.2 380.4 628.1 381.9 622.7 383.3 617.7 384.7 612.7 386.1 607.6 387.4 602.5 388.5 597.4 389.7 592.3 390.2 587.2 390.2 582.1 390.2 576.9 390.4 571.8 390.8 566.7 391.2 561.6 391.9 556.5 392.9 551.4 393.8 546.2 394.8 541.1 395.9 536 396.9 531.2 398.1 526.3 399.4 520.8 401 515.6 402.4 510.4 403.7 505.3 405 500.2 406.4 495.1 408.1 490 409.8 484.8 411.3 479.5 412.7 474.2 414 469.5 414.6 464.4 415 459.3 415.5 454.2 415.7 449.1 415.7 443.9 415.7 438.8 415.5 433.7 415.2 428.6 415 423.5 414.7 418.5 414.4 413.5 414.1 410.7 414 405.6 413.7 400.5 413.3 395.4 413 390.2 412.4 385.1 411.9 380 411.3 374.9 410.3 369.8 409.2 364.7 408.2 359.5 406.8 354.4 405.4 349.3 404 344.3 401.9 339.2 399.7 335.3 397.9 331.8 395.8 327.4 393.1 323 390.5 318.6 387.8 314.6 384.8 310.7 381.5 307 378 303.3 374.5 299.4 371.2 295.4 367.9 290.4 364.8 285.4 362.6 280.3 361.3 275.2 360.1 270 358.8M224.5 333.4 220.3 329.6 216.1 325.7 211.9 321.9 209 320 204.6 317.3 200.3 314.6 195.9 311.9 191.3 309.2 186.7 306.5 182.6 303.1 178.8 299.4 175.3 295.3 171.8 291.2 168.5 287.3 165.2 283.4 161.6 279.6 158 275.8 153.9 271.8 149.8 267.8 146.3 262.9 143.5 257.9 141.4 252.8 139.3 247.7 137 242.7 134.5 237.7 132.4 232.4 130.4 227.2 128.5 222.1 126.7 217 125.2 211.9 124.2 206.7 123.2 201.6 121.8 196.4 120 191.1 118.1 186.1 116 181.1 114 176 112 170.9 110.1 165.8 108.4 160.7 106.7 155.6 104.8 150.9M1638.3 223.1 1633.9 226.4 1629.4 229.8 1625.1 233.1 1620.4 235.7 1615.3 237.4 1610.2 239.2 1605.4 241.7 1601 245.1 1596.6 248.6 1592.3 252.2 1587.2 253.1 1582 254.1 1576.9 255.1 1573.2 257.8 1569.5 260.5 1565.6 263.7 1561.6 266.8 1556.5 268.1 1551.3 269.3 1546.2 270.5 1542.3 273.2 1538.3 275.8 1534.6 278.4 1530.9 281 1525.8 282 1520.7 282.9 1515.5 283.9 1510.4 285.1 1505.3 286.3 1500.2 287.5 1495.1 289.9 1489.9 292.5 1484.9 295.1 1479.7 295.8 1474.6 296.5 1469.5 297.3 1464.4 295.4 1459.3 293.6 1454.2 291.7 1449 293.5 1443.9 295.4 1438.8 297.2 1433.7 298 1428.6 298.8 1423.5 299.6 1418.4 300.7 1413.2 301.8 1408.1 303 1404 305.3 1399.7 308.2 1395.1 311.5 1390.2 313.7 1385.1 314.6 1380 315.6 1374.9 316.7 1369.8 318.1 1364.6 319.4 1360.5 321 1356.5 323.2 1351.6 325.8 1346.7 328.5 1341.6 329.3 1336.5 330.2 1331.4 331 1326.3 331.3 1321.2 331.6 1316.1 331.9 1310.9 332.1 1305.8 332.2 1300.7 332.4 1295.6 332.6 1290.5 332.9 1285.4 333.2 1280.2 333.4 1275.1 333.6 1270 333.7 1264.9 333.9 1259.8 334.1 1254.7 334.2 1249.6 333.8 1244.4 333.4 1239.3 333 1234.2 332.8 1229.1 332.6 1224 332.4 1218.9 332.6 1213.8 332.7 1208.6 332.9 1203.5 334.1 1198.4 335.3 1193.3 336.6 1188.4 338.2 1183.2 340.2 1178 342.2 1172.8 343.2 1167.7 344.2 1162.6 345.2 1157.5 346 1152.4 346.8 1147.3 347.5 1142.3 349.5 1137.4 351.6 1133.4 353.5 1129.4 354.6 1124.2 354.9 1119.1 355.2 1114 355.1 1108.9 354.6 1103.8 354.2 1099.1 353.3 1094.2 352 1088.7 350.9 1083.3 349.9 1078.2 348.8 1073.1 347.8 1068 347 1062.9 346.4 1057.7 345.7 1052.6 345.1 1047.5 344.5 1042.4 343.8 1037.3 342.7 1032.2 341.1 1027.1 339.5 1022.8 338 1018.8 336.3 1014 334.4 1009.2 332.6 1004 331.4 998.9 330.2 993.8 329 989 326.6 984.2 324.2 979.4 321.9 975.9 319.9 970.8 317.1 965.7 314.3 960.9 311.6 956.5 309.1 952 306.5 947.8 305.1 942.7 304.8 937.5 304.5 932.4 304.2 927.3 304.3 922.2 304.5 917.1 304.6 912 303.9 906.9 303.1 901.7 302.4 896.6 302.8 891.5 303.1 886.4 303.5 881.3 304 876.2 304.4 871 304.9 865.9 305.4 860.8 305.9 855.7 306.3 852.5 307.7 847.7 310 842.8 312.4 837.8 314.7 832.7 317 827.6 319.3 823.1 321.2 818.9 323.3 814.3 326.3 809.7 329.2 804.6 331.5 799.4 333.7 794.3 336 791.3 337.2 787.2 340.2 783.1 343.1 779 346 773.9 347.1 768.8 348.2 763.6 349.3 758.1 350.9 752.7 352.6 748.3 355.3 743.2 358 738.1 360.7 732.9 363.4 727.8 364.2 722.7 365 717.6 365.8 712.5 366.3 707.4 366.9 702.3 367.4 698 369.2 693.5 371.6 689.1 374 684.4 376 679.2 377.6 674.1 379.1 668.8 380.7 663.4 382.4 658.4 384.5 653.7 387.1 648.5 389.6 643.4 392.2 638.3 394.3 633.2 395.9 628.1 397.5 624.5 398.6 618.8 400.3 613 402 607.6 403.4 602.5 404.4 597.4 405.5 592.3 406.3 587.2 406.9 582.1 407.5 576.9 408.1 571.8 408.7 566.7 409.2 561.6 410M507.9 419 502.8 419.8 497.7 421 492.5 422.1 487.4 423.3 482.3 424 477.2 424.7 472.1 425.4 467 426 461.9 426.6 456.7 427.1 451.6 427.5 446.5 427.9 441.4 428.3 436.3 428.7 431.2 429 426 429.3 422.2 429.4 416.5 429.5 410.7 429.6 406.6 429.4 402.2 429.2 397.6 429 392.8 428.6 387.7 428 382.6 427.4 377.5 426.6 372.3 425.7 367.2 424.7 362.1 423.6 357 422.3 351.9 420.9 346.8 419.5 341.6 417.9 336.5 416.3 332.2 414.7 328.1 412.7 323.4 410.2 318.6 407.6 313.5 404.7 308.4 401.7 303.3 398.8 300.8 397 296.5 393.8 292.2 390.6 287.9 387.4 283.6 384.7 279.2 382.1 274.8 379.7 270 377.6 264.9 375.8 259.8 374 254.7 372.1 249.5 370 244.4 367.9 239.7 365.6 235.3 362.8 230.9 360 226.6 357.1 222.6 354.1 218.7 350.9 215 347.6 211.2 344.3 206.7 340.8 202.1 337.2 197.9 334.2 193.5 330.9 188.8 327.3 184 323.7 180.5 321.2 176.6 317 172.6 312.8 168.7 308.6 165.2 304.9 160.8 301.4 156.4 298 152 294.6 148.1 291.2 144.6 286.8 141 282.4 137.5 278 134.5 274.1 131.5 269.5 128.6 265 125.7 260.5 124 255.4 122.3 250.2 120.6 245.1 119.1 240.8 116.3 236.4 113.5 232 110.4 227.9 107.1 224.3 103.8 220.7M1638.3 276.8 1633.2 279.9 1628.1 283 1623 286 1619.6 289.5 1617.3 293.7 1616 298.9 1614.6 304 1612.7 308.7 1610.1 312.9 1607.6 317.2 1602.5 318.5 1597.4 319.8 1592.3 321.1 1587.2 320 1582 318.9 1576.9 317.9 1571.8 316.9 1566.7 316 1561.6 315.1 1556.5 316.1 1551.3 317.1 1546.2 318.2 1542.9 320.6 1539.1 323.3 1535 326.1 1530.9 328.9 1525.8 330.1 1520.7 331.3 1515.5 332.5 1511 334.8 1506.5 337.2 1502.3 339.8 1497.6 341.7 1492.5 343 1487.4 344.2 1482.3 344.9 1477.2 344.9 1472.1 345 1466.9 344.4 1461.8 343.3 1456.7 342.2 1451.6 342.2 1446.5 343.4 1441.4 344.6 1436.4 346.4 1431.7 348.9 1426.9 351.3 1423.5 353.3 1418.4 354.8 1413.2 356.2 1408.1 357.7 1403 358.2 1397.9 358.7 1392.8 359.3 1387.7 359.7 1382.5 360.1 1377.4 360.5 1372.3 360.9M1323.7 370 1318.6 371.4 1313.5 372.4 1308.4 372.9 1303.3 373.5 1298.2 373.9 1293 374.2 1287.9 374.5 1282.8 374.8 1277.7 375.1 1272.6 375.4 1267.5 375.7 1262.3 375.9 1257.2 376.1 1252.1 376.3 1247 376.5 1241.9 376.7 1236.8 377.2 1231.7 377.9 1226.5 378.6 1221.4 378.9 1216.3 378.8 1211.2 378.6 1206.1 379.5 1200.9 381.4 1195.8 383.3 1190.7 385.1 1185.6 386.6 1180.5 388.1 1175.4 389.1 1170.3 389.6 1165.2 390.1 1160 390.6 1154.9 391.1 1149.8 391.6 1144.8 393 1139.8 395.3 1134.8 397.5 1131.9 398.9 1126.8 400 1121.7 401.2 1116.6 402.4 1111.5 402.5 1106.3 402.6 1101.2 402.7 1095.9 401.1 1090.6 399.5 1085.9 397.9 1080.8 395.6 1075.7 393.3 1070.5 390.9 1065.4 388.8 1060.3 386.7 1055.2 384.5 1050.1 385.6 1045 386.8 1039.8 387.9 1036.1 384.8 1032.2 381.8 1028.4 378.7 1024.5 375.7 1020.3 372.6 1016.1 369.5 1011.6 366.4 1006.6 364.1 1001.5 362.8 996.4 361.5 991.3 359.6 986.1 357.3 981 354.9 976.9 352.6 972.3 349.1 967.7 345.7 963.1 342.2 958 342.7 952.9 343.1 947.8 343.5 943.5 340.4 939.2 337.2 934.7 334.1 929.9 331.3 924.8 328.8 919.6 326.4 914.5 325.4 909.4 326 904.3 326.6 899.2 327.1 894.1 327.7 889 328.2 883.8 329 878.7 329.8 873.6 330.6 868.5 330.6 863.4 329.6 858.3 328.6 853.1 328.6 848 329.6 842.9 330.5 837.8 331.7 832.7 333 827.6 334.3 823.1 336.1 820 339.8 817.6 344.9 815.1 350 812.5 354.5 809.7 358.2 806.4 362.1 803 366 799 369.6 794.3 373 789.2 373 784.1 373 779 373.1 773.9 371.4 768.7 369.7 763.6 368 760.8 372.4 757.9 376.7 755 381.1 751.8 384.7 748.3 387.6 743.2 388.6 738.1 389.6 732.9 390.6 727.8 391.1 722.7 391.5 717.6 392 712.7 394.2 707.8 396.4 703 398.6 699.7 400 694.6 401.8 689.5 403.6 684.4 404.9 679.2 405.5 674.1 406.2 669 407.6 663.9 409.6 658.8 411.6 654.6 413.3 650.5 414.6 645.7 415.7 640.9 416.8 635.8 417.3 630.6 417.7 625.5 418.1 620.4 418.3 615.3 418.4 610.2 418.6 605.1 419.6 600 420.5 594.8 421.5 589.7 422.6 584.6 423.8 579.5 425 574.4 425.5 569.3 426.1 564.1 426.6 559 427.3 553.9 428.1 548.8 428.8 544.9 429.3 539.2 430 533.5 430.7 528.3 431.1 523.2 431.5 518.1 431.8 513 432.3 507.9 432.9 502.8 433.4 497.7 434.1 492.5 434.9 487.4 435.7 482.3 436.5 477.2 437.4 472.1 438.2 467 439 461.9 439.8 456.7 440.7 451.6 441.3 446.5 441.9 441.4 442.5 436.3 442.9 431.2 443.3 426 443.7 420.9 443.7 415.8 443.8 410.7 443.8 405.6 443.5 400.5 443.2 395.4 442.9 390.2 442.3 385.1 441.8 380 441.3 374.9 440.5 369.8 439.7 364.7 439 359.5 437.8 354.4 436.6 349.3 435.4 344.2 433.7 339.1 432 334 430.3 329.1 428.4 323.9 426.4 318.6 424.4 313.5 421.4 308.4 418.4 303.3 415.4 298.1 412.8 293 410.3 287.9 407.8 282.8 405.6 277.7 403.4 272.6 401.2 268.9 399.5 264.6 397.6 259.7 395.4 254.7 393.2 249.6 391.1 244.5 388.9 239.6 386.3 235.1 383.3 230.8 380.6 226.6 377.9 221.8 374.6 217.1 371.2 212.4 367.9 208.7 365.6 203.5 362.7 198.4 359.9 193.9 357 189.9 354 186.1 351.2 182.4 348.3 178.5 345.3 174.4 342.1 170.4 338.8 166.8 335.8 163.3 332.5 159.4 329 155.6 325.4 151.8 321.9 147.6 318.3 143.3 314.6 138.9 310.9 134.5 307.3 132.3 304.3 129.2 299.9 126 295.6 122.9 291.2 120.4 287.5 117.8 283.7 115 279.8 112.3 275.8 108.9 271.3 105.5 266.7M779 461.4 776 457.5 774.5 452.4 773 447.3 773.9 443 777.3 439.6 781.5 438 786.7 438.2 791.8 438.4 796.2 440.6 799.9 444.7 796.2 448.6 792.1 452.1 787.8 455.3 783.4 458.5 779 461.4M1638.3 342.8 1634.4 346.1 1630.6 349.3 1626.7 352.6 1623 355 1617.8 357 1612.7 358.9 1607.6 360.9 1603.5 363.7 1599.4 366.5 1594.8 369.5 1589.7 371.5 1584.6 372.3 1579.5 373.1 1574.4 373.9 1569.2 374.8 1564.1 375.6 1559.3 377.5 1554.9 380.4 1550.4 383.3 1546.2 386 1541.8 389 1537.5 392.1 1533.1 395.1 1529.5 397.6 1525.7 399.7 1520.6 401.9 1515.5 404 1510.4 406.7 1505.3 409.5 1500.2 412.2 1497.6 414 1492.5 416.4 1487.4 418.7 1482.3 420.1 1477.2 420.6 1472.1 421 1467.3 419.4 1462.8 415.8 1458.4 412.2 1454.2 408.6 1449 408.3 1443.9 408 1438.8 407.7 1433.7 407.3 1428.6 406.8 1423.5 406.4 1418.4 406.4 1413.2 406.3 1408.1 406.3 1403 405.6 1397.9 405 1392.8 404.4 1388 407.6 1383.2 410.8 1378.5 414 1374.9 416.9 1369.8 419 1364.6 421.1 1359.5 422 1354.4 421.7 1349.3 421.5 1344.2 421.6 1339.1 422.2 1334 422.8 1328.8 424.1 1323.7 426.1 1318.6 428.1 1313.5 428 1308.4 425.8 1303.3 423.5 1298.2 422.4 1293 422.4 1287.9 422.4 1282.8 422.3 1277.7 422.1 1272.6 421.8 1267.5 421.7 1262.3 421.6 1257.2 421.6 1252.1 421.6 1247 421.8 1241.9 422 1236.8 422.3 1231.7 422.5 1226.5 422.8 1221.4 423.2 1216.3 423.9 1211.2 424.5 1206.1 425.7 1200.9 427.5 1195.8 429.3 1190.7 431.3 1185.6 433.1 1180.5 434.8 1175.4 435.9 1170.3 436.4 1165.2 436.8 1160 437.2 1154.9 437.5 1149.8 437.8 1144.7 438.2 1139.6 438.6 1134.5 439 1130.1 440.6 1126.5 443.3 1122.6 446.3 1118.6 449.6 1114 451.7 1108.9 452.7 1103.8 453.6 1098.7 454.9 1093.6 456.6 1088.4 458.2 1083.3 459.1 1078.2 459.3 1073.1 459.5 1068 459.5 1062.9 459.2 1057.7 458.9 1052.6 457.6 1047.5 455.3 1042.4 453 1037.9 450 1034 446.5 1030.1 443.1 1026.4 440 1021.9 438 1016.8 437.3 1011.7 436.5 1006.6 435.3 1001.5 433.5 996.4 431.7 991.3 431.8 986.1 433.7 981 435.7 976 438.2 971.2 441.5 966.3 444.7 963.1 446.7 957.7 445.4 954.9 442.1 954.8 437 954.6 431.9 952.9 427.6 949.5 424.2 945.2 422 940.1 421.1 935 420.1 929.9 419.3 924.8 418.6 919.6 418 914.4 417 909.1 415.5 903.8 414 900.3 414 894.8 416 889.2 418.1 884.5 417.4 880.7 414 880.8 408.9 880.9 403.8 881.1 398.6 884.6 394.7 888.1 390.3 891.6 385.6 893.3 380.7 893.2 375.6 893.1 370.5 892.8 365.4 892.3 360.3 891.8 355.1 889 351.1 883.8 349.8 878.7 350.2 873.6 350.6 869.1 351.7 865.7 354.8 862.9 359.2 860.1 363.6 857.3 367.9 854.2 371.9 851.2 376.5 848.2 381 844.6 385.3 840.4 389.4 835.2 392.4 830.1 395.4 825 398.4 820.8 399.2 815.2 400.3 809.7 401.4 804.4 399.6 799.3 398.3 794.3 397.5 789.7 400.1 785.4 403.2 781.1 406.2 777.1 409.3 773.3 412.4 769.5 415.9 765.6 419.7 761.5 423.1 757.2 426.2 752.9 429.3 749.8 432.1 745.7 434.7 740.6 437.1 735.5 439.4 731.2 441.9 727.6 444.7 723.6 447.6 719.6 450.5 715 453.1 709.9 455.5 704.8 457.8 701 456.6 698.6 451.9 696.1 447.1 692.9 442.6 688.9 438.4 684.7 434.6 680.2 431.1 675.8 428.5 671.6 426.8 666.7 427.8 661.8 428.8 657.8 429.9 653.7 430.8 648.5 431.7 643.4 432.6 638.3 433.1 633.2 433.2 628.1 433.3 623 433.4 617.9 433.4 612.7 433.4 607.6 433.8 602.5 434.4M551.4 443 546.2 443.5 541.1 444 536 444.4 531.9 444.7 526.4 445.1 520.9 445.5 515.6 445.9 510.4 446.4 505.3 446.9 500.2 447.5 495.1 448.2 490 449 484.9 449.8 479.8 450.7 474.6 451.5 469.5 452.3 464.4 453.1 459.3 454 454.2 454.7 449.1 455.4 443.9 456.1 438.8 456.7 433.7 457.1 428.6 457.5 423.5 457.8 418.4 457.9 413.3 458 408.1 458 403 457.8 397.9 457.7 392.8 457.4 387.7 457 382.6 456.6 377.5 456.1 372.3 455.4 367.2 454.7 362.1 453.9 357 453 351.9 452.1 346.8 451.1 341.6 449.9 336.5 448.8 331.6 447.3 326.9 445.6 322.5 443.9 318.6 442.4 313.5 440.4 308.4 438.4 303.3 436.3 298.2 434.2 293.1 432 287.9 429.9 284.4 428.4 279.7 426.5 274.9 424.5 270 422.8 264.9 421.2 259.8 419.6 255 417.6 250.5 415.2 246.1 412.8 241.9 410.5 236.8 408 231.7 405.5 226.6 403.1 222.2 400.1 217.9 397.1 213.4 394.1 208.7 391.3 203.5 388.7 198.4 386 193.3 383.3 188.2 380.7 183.1 378.2 178 375.6 172.9 373.1 167.7 370.5 163.2 367.9 158.7 365.2 154.3 362.4 149.8 359.6 145.5 356.1 141.2 352.6 136.7 348.6 132.6 344.8 128.9 341 125.2 337.2 122.2 333.7 119.1 330.1 116.5 326 113.8 321.9 111.4 316.8 109 311.6 106.5 306.5 103.8 301.6M1638.3 384.3 1633.2 385.8 1628.1 387.2 1623 388.7 1617.8 390 1612.7 391.3 1607.6 392.6 1603.7 395.6 1599.7 398.6 1596 401.5 1592.3 404.4 1587.1 405.2 1582 406 1576.9 406.7 1571.8 407.4 1566.7 408.1 1561.6 408.8 1556.8 412.3 1552.4 415.6 1548.3 418.7 1543.7 421 1538.6 422.4 1533.4 423.9 1528.5 425.8 1523.7 428.2 1519.4 430.9 1515.5 433.9 1512 438.2 1508.5 442.5 1505.1 446.4 1501.8 449.7 1497.6 451.9 1492.5 453 1487.4 454.2 1482.3 454.9 1477.2 455.2 1472.1 455.5 1466.9 456.3 1461.8 457.7 1456.7 459.1 1453.8 460.1 1448.8 462.5 1443.8 465 1438.8 467.4 1434.5 470.1 1430.2 472.7 1425.9 475.4 1420.9 477.8 1415.8 479.8 1410.7 481.9 1405.6 482.9 1400.5 483 1395.3 483 1390.2 482.7 1385.1 482.1 1380 481.4 1375.5 479.6 1371.5 476.8 1367.7 473.8 1364 470.7 1359.5 470.1 1354.4 471.9 1349.3 473.6 1345.4 475.4 1340.7 477.3 1336.1 479.2 1331.4 481.1 1326.3 481.5 1321.2 481.9 1316.1 482.3 1310.9 482.6 1305.8 482.9 1300.7 483.1 1295.6 483.3 1290.5 483.5 1285.4 483.7 1280.2 483.6 1275.1 483.4 1270 483.3 1264.9 483 1259.8 482.7 1254.7 482.4 1249.6 482.3 1244.4 482.2 1239.3 482.1 1234.2 482 1229.1 481.9 1224 481.8 1218.9 481.6 1213.8 481.5 1208.6 481.4 1203.5 481.8 1198.4 482.2 1193.3 482.6 1188.2 483.5 1183.1 484.4 1178 485.3 1172.8 484.5 1167.7 483.7 1162.6 482.9 1157.5 483 1152.4 483.2 1147.3 483.3 1142.1 483.9 1137 484.4 1131.9 485 1126.8 486.6 1121.7 488.3 1116.6 489.9 1111.9 491.6M1060.3 498.7 1055.2 498.9 1050.1 499.2 1045 499.5 1039.8 499.8 1034.7 500.5 1029.6 501.2 1024.5 502 1019.4 503.2 1014.3 504.5 1009.2 505.8 1004.9 506.6 999.3 507.5 993.8 508.4 990.6 506.1 986.6 502.1 982.5 498 978.5 494 974.8 490.8 970.1 488.3 965.4 485.9 960.6 484.5 955.4 484 950.3 483.5 945.2 483.2 940.1 483.1 935 482.9 929.9 483 924.8 483.1 919.6 483.3 914.5 484 909.4 485.1 904.3 486.3 899.2 485.8 894.1 483.8 889 481.8 884.5 479 880.6 475.4 879.6 470.3 878.5 465.2 877.5 460.1 873.2 456.7 868.5 454.8 863.4 454.2 858.3 453.5 853.1 453 848 452.7 842.9 452.3 837.8 453 832.7 454.8 827.6 456.5 823.8 458.7 821.3 462.6 818.6 467.7 815.9 472.8 812.9 476.8 809.7 479.7 804.6 481.6 799.4 483.5 794.3 485.4 789.9 488.1 785.5 490.8 781.2 493.9 776.4 495.9 771.3 496.6 766.2 497.4 761.1 498.1 756 498.5 750.8 499 746.2 500.6 742 503.4 737.9 506.1 732.9 509 728.8 513.2 724.6 517.3 720.4 521.5 717.6 523.3 713.2 526.5 708.8 529.7 704.4 532.9 700.6 535.7 696.6 537.6 691.8 539.1 686.9 540.7 682.6 538.8 678.3 536.8 673.8 533.4 669 530.2 663.9 527.3 658.8 524.4 654.6 521.5 651.6 517.1 648.6 512.7 645.7 508.3 643.1 503.7 640.9 499 639.6 493.5 639.3 488 640.1 482.5 640.9 477 641.1 473.1 640.6 468 640.1 462.7 637.5 458.8 632.7 456.4 627.9 454 623 452.2 617.9 450.9 612.7 449.7 607.6 449 602.5 449 597.4 449 592.3 449.8 587.2 451.4 582.1 453.1 576.9 454.2 571.8 454.8 566.7 455.4 561.6 455.9 556.5 456.4 551.4 456.8 546.2 457.2 541.1 457.6 536 458 530.9 458.5 525.8 459 520.7 459.4 516.4 459.9 512.3 460.3 507.6 460.9 502.8 461.4 497.7 462 492.5 462.6 487.4 463.2 482.3 463.8 477.2 464.5 472.1 465.2 467 465.8 461.8 466.4 456.7 467.1 451.6 467.9 446.5 468.7 441.4 469.6 436.3 470.1 431.2 470.6 426 471.1 420.9 471.3 415.8 471.5 410.7 471.7 405.6 471.8 400.5 471.8 395.4 471.9 390.2 471.7 385.1 471.6 380 471.5 374.9 471 369.8 470.5 364.7 470.1 359.5 469.4 354.4 468.8 349.3 468.1 344.2 467.3 339.1 466.5 334 465.7 328.9 464.4 323.7 463.2 318.6 461.9 313.1 460.1 308.2 458.2 303.3 456.4 298.2 454.8 293.1 453.3 287.9 451.7 282.8 450.1 277.7 448.6 272.6 447 268.8 445.5 264.4 443.7 259.6 441.8 254.7 439.9 249.6 438.2 244.5 436.5 239.3 434.3 234.1 431.8 228.9 429.3 224 427 218.9 424.7 213.8 422.4 208.9 420 204.3 417.6 199.7 415.2 195.9 413.1 190.8 410.9 185.6 408.8 180.5 406.6 175.4 404.7 170.3 402.9 165.2 401 161 398.6 156.5 396.2 152.1 393.7 147.3 391.3 142.2 389 137 386.6 133.2 384.4 129.9 381.2 125.6 377 121.3 372.8 118.1 369.3 115.6 365.7 112.7 361.4 109.9 357 107.1 352.6 104.9 349.2M1638.3 447.5 1633.2 450.4 1628.1 453.4 1623 456.3 1619.5 451.7 1616 447 1612.1 443.1 1607.6 439.8 1602.5 439.5 1597.4 439.1 1592.3 438.8 1587.2 439.3 1582 439.9 1576.9 440.4 1572 443.3 1567.5 446 1563.6 448.6 1559 451.5 1553.9 454.5 1548.8 457.5 1544.8 460.1 1540.1 462.9 1535.5 465.7 1530.9 468.6 1527.1 472 1523.3 475.4 1519.4 478.9 1515.5 482.5 1511.4 485.8 1507.3 489.1 1503.5 492 1500.2 494.6 1495.1 495.5 1490 496.4 1484.9 497.3 1479.7 498.7 1474.6 500 1469.5 501.4 1464.4 502.4 1459.3 503.5 1454.2 504.6 1450.5 506.1 1445.8 507.7 1441.2 509.3 1436.3 509.4 1431.1 508.2 1426 506.9 1420.9 507.6 1415.8 510.2 1410.7 512.8 1405.6 514.2 1400.5 514.3 1395.3 514.5 1390.2 515 1385.1 515.8 1380 516.6 1374.9 516 1369.8 514.1 1364.6 512.2 1359.5 511.4 1354.4 511.7 1349.3 512 1344.2 512.3 1339.1 512.6 1334 513 1328.8 513.2 1323.7 513.2 1318.6 513.2 1313.5 513.1 1308.4 512.9 1303.3 512.7 1298.2 512.7 1293 513 1287.9 513.3 1282.8 513.6 1277.7 513.9 1272.6 514.3 1267.5 514.3 1262.3 514.2 1257.2 514.1 1252.1 514 1247 513.8 1241.9 513.6 1236.8 513.5 1231.7 513.5 1226.5 513.6 1221.4 513.6 1216.3 513.7 1211.2 513.8 1206.1 513.9 1201 514 1195.9 514 1190.7 514.1 1185.6 514.3 1180.5 514.4 1175.4 514.5 1170.3 514.6 1165.2 514.7 1160 514.8 1154.9 515 1149.8 515.3 1144.7 515.8 1139.6 516.6 1134.5 517.4 1129.8 518.7 1125.4 520.5 1121 522.7 1116.6 525.1 1111.5 526.7 1106.3 528.3 1101.2 529.8 1096.1 531.9 1091 534 1085.9 536 1082.2 537.9 1077.5 540.1 1072.9 542.2 1068 543.9 1062.9 545 1057.7 546.1 1052.6 547.4 1047.5 548.9 1042.4 550.3 1037.8 551.6 1032.9 552.7 1027.3 553.7 1021.9 554.5 1016.8 555 1011.7 555.5 1006.6 556 1001.5 556.6 996.4 557.2 991.3 557.5 986.1 557.7 981 557.8 975.9 557.9 970.8 557.8 965.7 557.7 960.6 557.3 955.4 556.5 950.3 555.8 946 554.4 942.4 552.2 938.4 547.8 934.4 543.5 930 540.6 925.1 539.1 920.2 537.6 917.1 536.6 914.2 537.7 909.2 539.4 904.2 541.2 899.2 542.3 894.1 542.9 889 543.5 883.8 543.8 878.7 543.9 873.6 544 868.5 544.1 863.4 544.2 858.3 544.2 853.1 544.3 848 544.3 842.9 544.4 837.8 544.6 832.7 544.9 827.6 545.2 822.5 546.7 817.5 549.4 812.4 552.2 809.7 554 804.6 555.1 799.4 556.3 794.3 557.4 789.2 556.2 784.1 554.9 779 553.7 774.6 550.6 770.2 547.5 765.8 544.4 761.9 541.3 758.3 538.3 754.4 535.5 750.3 532.9 745.7 531.8 740.6 532.3 735.5 532.9 730.8 534.4 726.5 536.8 723 540.2 719.4 543.6 715.7 547.6 711.9 552.2 708 555.7 704.2 559.3 699.7 561.8 694.6 563.3 689.5 564.8 684.4 565.2 679.2 564.4 674.1 563.7 669 562.3 663.9 560.3 658.8 558.3 654 555.6 649.6 552.2 645.2 549.2 640.9 546.3 635.8 545 630.6 543.7 625.5 542.4 620.7 539.6 615.9 536.8 613 533.1 610.2 529.5 607.6 524.1 607 519.2 608.6 514.6 610.2 510.1 611.6 506.1 612.8 501 614 495.9 615.2 490.8 615 485.6 614.9 480.5 614.7 475.4 611.7 472.7 607.6 471.2 602.5 470.9 597.4 470.7 592.3 470.6 587.2 470.7 582.1 470.8 576.9 470.9 571.8 471.1 566.7 471.2 561.6 471.4 556.5 471.6 551.4 471.8 546.2 472 541.1 472.2 536 472.4 530.9 472.7 525.8 473.1 520.7 473.5 515.6 473.9 510.4 474.4 505.3 474.8 501 475.2 496.2 475.8 490.4 476.6 484.9 477.4 479.8 478 474.6 478.6 469.5 479.3 464.4 479.9 459.3 480.6 454.2 481.3 449.1 482.2 443.9 483 438.8 483.7 433.7 484.1 428.6 484.6 423.5 484.9 418.4 485.1 413.3 485.3 408.1 485.4 403 485.5 397.9 485.7 392.8 485.7 387.7 485.8 382.6 485.9 377.5 485.8 372.3 485.7 367.2 485.6 362.1 485.4 357 485 351.9 484.6 346.8 484.1 341.6 483.5 336.5 482.8 331.4 482 326.3 481 321.2 480 316.1 478.8 311 477.6 305.8 476.3 302.2 475.4 296.5 473.7 290.8 472.1 285.4 470.6 280.3 469.4 275.2 468.1 270 466.9 264.9 465.7 259.8 464.5 254.6 463.1 249.4 461.6 244.1 460.1M208.7 447.8 203.6 445.7 199.3 443.7 195.9 441.6 190.8 439.3 185.6 437.1 180.5 434.9 175.4 432.7 170.3 430.4 165.2 428 160.1 425.8 154.9 423.5 149.8 421.3 144.7 419.5 139.6 417.7 134.5 415.8 131.1 414 126.3 410.7 121.5 407.5 117.3 404 113.7 400.4 110.3 396.5 107.1 392.1 103.8 387.7M1638.3 554.6 1633.2 556.4 1628.1 558.1 1623 559.9 1617.8 561.5 1612.7 563.2 1607.6 564.9 1602.5 562 1597.4 559.1 1592.3 556.2 1589 553.5 1585.3 550.9 1581.1 548.3 1576.9 545.7 1572.9 548.9 1569 552.2 1568.7 557.3 1568.4 562.4 1568.2 567.5 1568.2 572.6 1568.3 577.8M1565.7 618.5 1562.9 623.4 1559 625.6 1553.9 625 1548.8 624.4 1545 622 1542.5 617.8 1540.1 613.6 1540.1 608.5 1540.2 603.3 1540.2 598.2M1554.4 580.3 1554.6 575.2 1554.9 570.1 1555.1 565 1555.2 559.8 1555.3 554.7 1555.1 549.6 1554.7 544.5 1554.2 539.4 1554.1 534.3 1554.2 529.1 1554.3 524 1555.8 519.2 1558.7 514.8 1561.6 510.3 1564.7 506.1 1562.6 501.8 1559 499.6 1553.9 499.7 1548.8 499.8 1544.4 501.4 1540.7 504.6 1536.9 508 1532.9 511.7 1528.6 515.2 1523.9 518.3 1519.2 521.5 1515.5 524.8 1510.4 526.7 1505.3 528.7 1500.2 530.7 1495.2 532.7 1490.3 534.8 1485.3 536.8 1484.1 536.8 1479.3 535.7 1474.4 534.6 1469.5 533.5 1465.3 535.1 1461.1 536.8 1456.5 539 1451.6 540.8 1446.5 542 1441.4 543.2 1436.3 544.1 1431.1 544.6 1426 545.2 1420.9 546.1 1415.8 547.3 1410.7 548.6 1405.6 548.7 1400.5 547.8 1395.3 546.8 1390.3 547.8 1385.4 550.7 1381.1 553.4 1377.4 555.8 1372.4 554 1367.3 552.2 1362.1 550.4 1357 549.7 1351.9 549.1 1346.7 548.4 1342.3 544.6 1337.9 540.7 1333.4 536.8 1328.8 536.8 1323.7 539.5 1318.6 542.1 1313.5 543.7 1308.4 544.1 1303.3 544.6 1298.2 545 1293 545.4 1287.9 545.7 1282.8 546.8 1277.7 548.6 1272.6 550.4 1267.5 550.5 1262.3 548.9 1257.2 547.2 1252.1 546.4 1247 546.5 1241.9 546.5 1236.9 547.5 1232.1 549.3 1227.3 551.2 1224 552.6 1218.9 554.5 1213.8 556.3 1208.6 558.2 1203.5 559.2 1198.4 560.2 1193.3 561.2 1188.2 563 1183.1 564.9 1178 566.8 1173.4 568.1 1168 569.3 1162.6 570.5 1157.5 571.2 1152.4 571.8 1147.3 572.4 1142.1 572.8 1137 573.2 1131.9 573.6 1126.8 573.9 1121.7 574.2 1116.6 574.5 1111.5 574.6 1106.3 574.8 1101.2 574.9 1096.1 574.9 1091 574.9 1085.9 574.9 1080.8 575.4 1075.7 575.8 1070.5 576.3 1065.4 577 1060.3 577.6 1055.2 578.3 1050.1 578.8 1045 579.2 1039.8 579.7 1034.7 580.2 1029.6 580.7 1024.5 581.2 1019.4 582.1 1014.4 582.9 1009.2 583.4 1004 584 998.9 584.5 993.8 585 988.7 585.2 983.6 585.4 978.5 585.6 973.4 585.3 968.2 584.9 963.1 584.6 958.8 583.4 954.4 582.1 950 580.5 945.2 580.2 940.1 581 935 581.8 930.9 582.9 925.4 584.6 919.8 586.3 914.5 587.4 909.4 588.1 904.3 588.7 899.2 589.3 894.1 589.9 889 590.5 883.8 591.5 878.7 592.9 873.6 594.3 868.6 596.1 863.6 598.2 858.3 599.8 853.1 601 848 601.8 842.9 602.7 837.8 603.3 832.7 603.8 827.6 604.2 822.5 604.3 817.3 603.9 812.2 603.6 807.8 602.2 804 599.5 800.1 596.9 796.3 594.2 791.8 593.4 786.7 594.4 781.5 595.4 777.1 597.1 773 599.4 768.3 601.6 763.6 603.9 758.5 604.2 753.4 604.4 748.3 604.6 743.2 605.2 738.1 605.8 732.9 606.4 728.7 609.3 724.5 612.1 720 615.2 715 617.2 709.9 618.2 704.8 619.2 699.7 619.6 694.6 619.4 689.5 619.2 684.6 617.3 679.9 613.6 677.1 608.7 674.3 603.9 671.6 599 668.2 597.4 663.4 595.7 658.6 594 653.5 594.4 648.2 597 643.2 599.5 638.3 600.5 633.2 600.1 628.1 599.7 624.1 598.2 623.4 593.1 622.7 588 622.1 582.9 619.1 577.8 616.2 572.6 613.2 567.5 610.2 565.3 605.1 563.7 600 562.1 594.8 560.5 589.7 559.3 584.6 558.1 579.5 557 576 553.8 573.9 549.6 573.2 544.5 572.5 539.4 571.9 534.3 571.6 529.1 571.2 524 570.7 518.9 570.2 513.8 569.7 508.7 567.7 504.4 564.1 501 559 500.6 553.9 500.1 548.8 499.7 543.7 499.4 538.6 499.1 533.5 498.8 528.3 498.7 523.2 498.6 518.1 498.5 513 498.4 507.9 498.4 502.8 498.3 497.7 498.4 492.5 498.5 487.4 498.6 482.3 498.8 477.2 499 472.1 499.2 467 499.5 461.9 499.7 456.7 499.9 451.6 500 446.5 500.2 441.4 500.4 436.3 500.4 431.2 500.4 426 500.5 420.9 500.4 415.8 500.3 410.7 500.2 405.6 500.1 400.5 500 395.4 500 390.2 500.2 385.1 500.4 380 500.6 374.9 500.8 369.8 501 364.7 501.3 359.5 501.1 354.4 501 349.3 500.9 344.2 500.4 339.1 499.8 334 499.3 328.9 498.6 323.7 497.9 318.6 497.2 313.5 496 308.4 494.9M270 485.2 264.9 484 259.8 482.8 254.7 481.3 249.6 479.6 244.5 477.9 239.8 476.2 234.9 474.6 229.3 472.9 224 471.3 218.9 469.7 213.8 468.2 208.7 466.4 203.5 464.5 198.4 462.5 194.1 460.8 190 459.1 185.3 457.3 180.5 455.4 175.4 453.7 170.3 452 165.2 450.3 160 448.1 154.8 445.8 149.8 443.6 144.7 441.6 139.6 439.6 134.5 437.6 129.4 435.7 124.3 433.7 119.1 431.8 113.8 429.3 108.8 426.6 103.8 423.9M1638.3 658.8 1635.1 660.8 1630.3 663.1 1625.4 665.4 1621.1 668.3 1617.4 671.6 1613.7 675 1609.6 678 1605.1 679.6 1599.9 680 1594.8 680.3 1590.5 679.1 1586.9 676.4 1583.1 673.5 1579 670.4 1574.4 668.5 1569.2 667.7 1564.1 666.9 1559 665.7 1553.9 664.1 1548.8 662.4 1544.6 660.6 1540.6 658.4 1535.8 656.1 1530.9 653.7 1525.8 652.2 1520.7 650.8 1515.5 649.4 1511 646 1506.6 642.5 1502.3 638.9 1498.3 635.1 1494.6 631 1492.2 626.4 1491.2 621.3 1490.1 616.1 1488 611.1 1484.9 606.1 1481.6 602.2 1478.4 598.2 1475.4 593.6 1472.5 589 1469.5 584.4 1464.4 585.7 1459.3 586.9 1454.2 588.2 1449 589.1 1443.9 590 1438.8 591 1433.7 591.2 1428.6 591.5 1423.5 591.7 1418.4 592 1413.2 592.3 1408.1 592.6 1403 593.5 1397.9 594.4 1392.8 595.3 1388.5 598.2 1384 600.8 1379.6 603.4 1374.9 604.9 1369.8 605.2 1364.6 605.5 1359.5 605.6 1354.4 605.6 1349.3 605.6 1344.2 605.4 1339.1 605.1 1334 604.9 1328.8 604.7 1323.7 604.7 1318.6 604.7 1313.5 604.8 1308.4 604.8 1303.3 604.9 1298.2 604.7 1293 604.4 1287.9 604 1282.8 603.5 1277.7 602.8 1272.6 602.1 1267.9 600 1265.1 595.7 1263.8 590.5 1262.5 585.4 1259.5 581.3 1254.7 578.2 1249.6 578.7 1244.4 579.1 1239.3 579.6 1234.2 580.7 1229.1 581.8 1224 582.9 1221.4 583.3 1216.3 584.1 1211.2 584.9 1206.1 586.1 1201 587.7 1195.9 589.3 1190.7 590.4 1185.6 590.9 1180.5 591.4 1175.4 591.9 1170.3 592.4 1165.2 592.8 1160 593.5 1154.9 594.4 1149.8 595.3 1145 596.3 1140.6 597.6 1136.2 599 1131.9 600.5 1126.8 601.6 1121.7 602.7 1116.6 603.8 1111.5 603.4 1106.3 602.9 1101.2 602.5 1095.5 600.8 1089.7 599.1 1085.9 597.9 1080.8 597.9 1075.7 597.9 1070.5 597.9 1065.5 598 1060.4 598.2 1055.2 598.4 1050.1 598.7 1045 599 1039.8 599.2 1034.7 599.6 1029.6 600 1024.5 600.4 1019.4 600.9 1014.3 601.4 1009.2 601.9 1004 602.5 998.9 603.1 993.8 603.7 988.7 603.7 983.6 603.6 978.5 603.6 973.4 603.4 968.2 603.2 963.1 603 958 603.3 952.9 603.6 947.8 603.9 942.7 604.6 937.5 605.4 932.4 606.2 927.3 607.2 922.2 608.2 917.1 609.3 912 610.6 906.9 612 901.7 613.4 898.8 614.3 893.8 615.7 888.9 617.1 883.8 618.4 878.7 619.4 873.6 620.4 868.5 621.4 863.4 622.4 858.3 623.4 853.1 624.7 848 626.3M804.6 636.3 799.4 636.7 794.3 637 789.2 637.7 784.1 638.3 779 638.9 773.9 640 768.8 641.1 763.6 642.2 758.6 643.6 753.5 644.8 748.3 645.9 743.2 646.7 738.1 647.4 732.9 648.2 727.8 648.9 722.7 649.6 717.6 650.3 712.5 650.9 707.4 651.4 702.3 652 697.1 652.6 692 653.2 686.9 653.9 681.8 655.4 676.7 657 671.6 658.6 666.8 660.6 661.5 662.7 656.2 664.7 651.1 665.1 646 665.5 640.9 665.9 635.8 665.8 630.6 665.7 625.5 665.6 621.2 661.6 620.7 657.7 623.9 653.9 627 650.1 630.1 646.2 630.1 642 627 637.6 623.6 633.7 619.8 630.5 615.3 627.8 610.2 625.6 605.1 624.5 600 623.3 594.8 622.2 590.9 624.9 586.9 627.6 583.1 630.2 579.5 632.7 575.5 628.9 576.6 623.8 577.7 618.7 578.7 613.6 580.4 610.1 582.2 605.3 584 600.6 583.1 596.2 579.5 592.1 574.4 591.6 569.3 591.2 564.1 590.8 559 590.2 553.9 589.7 548.8 589.2 545.6 586 542.4 582.9 541.5 577.8 540.7 572.6 539.8 567.5 536.6 564.3 533.5 561 528.3 558.1 523.2 555.2 518.1 552.3 515.4 551.1 510.4 549.1 505.3 547 500.2 545.6 495.1 544.7 490 543.8 485.5 541.7 481.6 538.5 477.7 535.4 474 532.7 469.5 531 464.4 530.4 459.3 529.7 454.2 528.9 449.1 527.9 443.9 527 439 525.5 434.1 523.5 429.3 521.5 426 520.6 420.9 519.6 415.8 518.6 410.7 517.7 405.6 517.4 400.5 517.1 395.4 516.9 390.2 516.9 385.1 517 380 517.1 374.9 517.1 369.8 517.1 364.7 517.1 359.5 516.9 354.4 516.6 349.3 516.3 344.2 516.1 339.1 515.9 334 515.6 328.9 515.3 323.7 515.1 318.6 514.8 313.5 514.3 308.4 513.7 303.3 513.2 298.2 512.3 293.1 511.4 287.9 510.6 282.8 509.5 277.7 508.5 272.6 507.4 267.3 506.1 262.3 504.4 257.2 502.7 252.1 500.8 247 498.9 241.9 497 236.8 495.5 231.7 494 226.6 492.5 222.5 491.3 218.2 489.8 213.5 487.9 208.7 485.9 203.5 484.1 198.4 482.2 193.3 480.4 188.2 478.8 183.1 477.3 178.9 475.9 174.9 474.4 170 472.5 165.2 470.5 160.1 468.7 154.9 466.9 149.8 465 145.1 463.4 140.4 461.7 135.6 460.1 131.9 458.4 126.8 456.3 121.7 454.1 116.6 452.2 111.5 450.6 106.4 449M1638.3 695.4 1633.2 697 1628.1 698.7 1623 700.3 1618.2 703.9 1613.7 707.5 1609.7 711.1 1605.4 714.3 1600.9 717 1596.4 719.7 1592.3 721.6 1588.1 721.2 1583.8 720.6 1579.2 719.6 1574.4 718.1 1569.2 715.9 1564.1 713.8 1559 711.8 1553.9 710 1548.8 708.2 1543.7 705.7 1538.6 703.2 1533.5 700.7 1528.3 699.1 1523.2 698.6 1518.1 698 1513 697.1 1507.9 695.7 1502.8 694.3 1498.1 692 1493.7 688.8 1489.3 685.7 1484.9 682.7 1480.5 680.1 1476.1 677.6 1471.8 675 1467.2 673.8 1462.6 674.6 1458.2 675.4 1454.2 676.2 1450.6 675 1445.9 673.6 1441.2 672.2 1436.4 673.2 1431.9 676.2 1427.7 678.8 1423.5 681.3 1418.4 681.5 1413.2 681.7 1408.1 682 1403 681.8 1397.9 681.5 1392.8 681.3 1387.9 678.2 1383 675 1379.3 671.8 1375.6 668 1371.8 663.8 1368.1 659.6 1364.1 656.2 1359.5 654.1 1354.4 653.1 1349.3 652.1 1344.2 651.5 1339.1 651 1334 650.6 1328.7 649.2 1323.4 646.7 1318.1 644.3 1313.5 642.2 1308.4 640.2 1303.3 638.2 1298.2 636.3 1293 634.6 1287.9 632.9 1282.8 631.9 1277.7 631.6 1272.6 631.4 1267.5 631.2 1262.3 631 1257.2 630.9 1251.9 630.2 1246.3 628.9 1241.7 627.8 1236.8 626.4 1231.7 624.9 1226.5 623.3 1221.4 622.6 1216.3 622.6 1211.2 622.7 1206.1 622.9 1201 623.2 1195.9 623.5 1190.7 623.6 1185.6 623.5 1180.5 623.3 1175.4 623.9 1170.3 625.2 1165.2 626.4 1160.4 627.7 1156.1 628.9 1151.7 630.2 1147.3 631.4 1142.1 631.8 1137 632.2 1131.9 632.5 1126.8 632.1 1121.7 631.7 1116.6 631.3 1111.6 629.7 1106.5 628.2 1101.2 626.8 1096.1 625.3 1091 623.7 1085.9 622.2 1080.8 621.7 1075.7 621.1 1070.5 620.5 1065.4 620.6 1060.3 620.7 1055.2 620.7 1050.1 620.9 1045 621.2 1039.8 621.4 1034.7 621.6 1029.6 621.8 1024.5 621.9 1019.4 622.3 1014.3 622.6 1009.2 622.9 1004 623.7 998.9 624.6 993.8 625.4 988.7 624.9 983.6 624.4 978.5 623.9 973.4 623.9 968.2 623.9 963.1 623.9 958 624.7 952.9 625.6 947.8 626.4 942.1 627.7 936.4 628.9 932.4 629.8 927.3 630.9 922.2 631.9 917.1 632.9 912 633.8 906.9 634.7 901.7 635.6 896.6 636.7 891.5 637.7 886.4 638.8 881.3 640.5 876.2 642.3 871 644 868.1 645.8 863.1 648.7 858.2 651.7 853.5 654.4 849.1 657 844.7 659.6 840.4 662.4 835.2 663.1 830.1 663.9 825 664.7 819.9 665.1 814.8 665.5 809.7 665.9 804.6 665.9 799.4 666 794.3 666 789.2 666.1 784.1 666.1 779 666.2 773.9 666.5 768.8 666.9 763.6 667.2 758.5 668.9 753.4 670.6 748.3 672.2 744.2 675 739.7 678.9 735.2 682.9 730.4 685.1 725.3 685.6 720.2 686.2 715 686 709.9 685 704.8 684.1 699.7 684.6 694.6 686.8 689.5 688.9 686.1 690.3 681.3 692.2 676.4 694.1 671.6 696 666.5 698.3 661.3 700.6 656.2 702.9 651.1 703.7 646 704.4 640.9 705.2 637.7 706.9 632.8 709.2 628 711.5 623 712.9 617.9 713.3 612.7 713.8 607.6 713.8 602.5 713.6 597.4 713.3 592.3 712.2 587.2 710.3 582.1 708.4 577.8 705.7 575.4 700.6 573 695.5 570.6 690.3 568 685.8 565.4 681.2 562.7 676.9 559.4 672.9 555.9 668.8 552.3 664.7 548.8 660.5 544.9 658.5 540.3 656.2 535.7 653.9 531.6 650.6 527.9 646.4 524.8 641.7 522.3 636.6 519.9 631.5 518.1 628.4 513 627.8 507.9 627.2 502.8 626.7 499.5 628.9 494.7 631.4 489.8 633.8 484.9 635 479.8 634.9 474.6 634.9 469.5 634.2 464.4 633 459.3 631.8 455.5 630 453.3 626.4 451.5 621.3 449.7 616.1 447 611.6 443.2 607.8 439.5 604.3 435.7 601.3 432 598.2 432.1 593.1 432.2 588 432.4 582.9 429.2 579.5 426 576.2 421.9 572.7 417.9 569.3 414.1 566.1 410.7 563.3 405.6 560.9 400.5 558.4 395.4 555.9 390.2 555.8 385.1 555.7 380 555.7 374.9 554.5 369.8 553.4 364.7 552.3 363 550 360 545.6 357 541.2 354 536.8 349.3 534 344.2 533.7 339.1 533.3 334 533 328.9 532.9 323.7 532.8 318.6 532.7 313.5 532.4 308.4 532.1 303.3 531.9 298.2 531 293.1 530 287.9 529.1 282.8 527.4 277.7 525.6 272.6 523.9 268.9 522.3 264.6 520.8 259.7 519.4 254.7 517.9 249.6 516.3 244.5 514.6M206.1 500.8 201 499.1 195.9 497.3 190.8 495.7 185.6 494.2 180.5 492.6 174.9 490.8 170.1 489.1 165.2 487.4 160.1 485.4 154.9 483.4 149.8 481.4 144.7 479.7 139.6 477.9 134.5 476.2 129.6 474.4 124.4 472.4 119.1 470.4 114 468.2 108.9 465.9 103.8 463.7" fill="none" stroke="#000" stroke-width="2.35" stroke-dasharray="2.3 3.65" stroke-linejoin="round"/>
<path d="M1638.3 772.4 1637.1 767.1 1632.4 764.2 1627.7 761.3 1623 758.4 1617.8 757.9 1612.7 757.5 1607.6 757 1602.8 753.5 1598.8 749.8 1595.5 745.8 1592.3 741.9 1587.2 742.9 1582 743.9 1576.9 744.9 1571.8 746.6 1566.7 748.3 1561.6 750 1556.2 751.8 1551.2 753 1546.2 754.3 1541.1 755.3 1536 756.3 1530.9 757.3 1525.8 756.9 1520.7 756.6 1515.5 756.2 1511 753.2 1506.6 750.3 1502.3 747.3 1497.6 745.4 1492.5 744.6 1487.4 743.7 1482.3 743.4 1477.2 743.5 1472.1 743.5 1466.9 743.6 1461.8 743.5 1456.7 743.5 1451.6 743.5 1446.5 743.4 1441.4 743.4 1436.3 743.2 1431.1 742.9 1426 742.7 1420.9 741 1415.8 737.9 1411.6 735.2 1408.1 732.8 1403 731.5 1397.9 730.2 1392.8 728.9 1387.7 728.2 1382.5 727.6 1377.4 726.9 1372.5 724 1367.7 721 1363.9 718.7 1359.5 716.9 1354.4 715.8 1349.3 714.7 1344.2 713.8 1339.1 713.1 1334 712.4 1329.3 710.5 1325.1 707.3 1320.7 703.9 1316.1 700.2 1310.9 699 1305.8 697.7 1300.7 696.5 1295.6 694.5 1290.5 692.5 1285.4 690.5 1283.7 687.8 1280.6 682.7 1277.6 677.5 1274.1 673.3 1270 669.9 1265.2 671.6 1260.3 673.3 1255.5 675 1254 675 1249.1 673 1244.2 671.1 1239.3 669.2 1234.2 668.1 1229.1 667.1 1224 666.1 1218.9 666.5 1213.8 666.9 1208.6 667.3 1203.5 667.6 1198.4 667.9 1193.3 668.2 1188.2 668.2 1183.1 668.1 1178 668 1172.8 667.5 1167.7 667 1162.6 666.5 1157.5 666.7 1152.4 667 1147.3 667.3 1142.1 667.1 1137 666.9 1131.9 666.8 1126.8 666.5 1121.7 666.2 1116.6 666 1111.5 665.9 1106.3 665.8 1101.2 665.8 1096.1 664.5 1091 663.2 1085.9 661.9 1082.1 659.6 1077.5 656.2 1072.9 652.7 1068 651.1 1062.9 651.3 1057.7 651.5 1052.6 651.9 1047.5 652.4 1042.4 652.9 1037.3 653.2 1032.2 653.2 1027.1 653.3 1021.9 653.3 1016.8 653.2 1011.7 653.2 1006.6 653.1 1001.5 653 996.4 652.9 991.3 652.8 986.1 652.7 981 652.6 975.9 652.6 970.8 652.7 965.7 652.9 960.6 653 955.4 653.1 950.3 653.2 945.2 653.3 940.1 653.3 935 653.4 929.9 653.7 924.8 654.1 919.6 654.6 914.5 655.8 909.4 657.7 904.3 659.6 899.5 662.9 895.2 666.2 890.8 669.5 886.4 672.8 883.7 675 878.6 678 873.6 681 868.9 683.8 864.6 686.4 860.4 689 855.7 691.7 850.6 692.4 845.5 693 840.4 693.7 835.2 691.5 830.1 689.3 825 687.3 820.9 689.3 816.6 691.7 812 694.3 807.1 695.5 802 695.1 796.9 694.8 791.8 694.5 786.7 694.4 781.5 694.3 776.4 694.5 771.3 695.1 766.2 695.7 761.1 696.7 756 698.1 750.8 699.5 745.7 700.7 740.6 701.9 735.5 703.1 730.4 703.6 725.3 703.4 720.2 703.3 715 703.5 709.9 704 704.8 704.5 700.6 705.7 696 708.8 691.5 711.9 686.9 714.9 682.3 717.4 677.6 719.8 673.4 722.2 669 724.5 663.9 726.7 658.8 728.9 653.9 731 649.4 733.2 644.9 735.3 641.7 737.9 638.7 740.9 634.3 744.1 629.9 747.3 625.5 750.4 620.8 753 615.5 755.6 610.2 758.2 605.1 759.2 600 760.3 594.8 761.3 589.7 760.6 584.6 759.8 579.5 759.1 574.4 757.5 569.3 756 564.1 754.4 561.7 751.8 558.7 746.6 555.7 741.5 552.7 736.4 550.1 732.7 547.5 728.4 544.8 723.5 542.7 718.5 541.2 713.4 539.6 708.3 537 703.6 533.5 699.5 528.9 695.9 524.4 692.2 520.1 688.8 515.6 686.4 510.4 684.6 505.3 682.8 500.4 680.8 495.5 678.4 490.7 676.1 487.4 674.5 482.3 672.3 477.2 670.1 472.1 667.9 467 666.3 461.9 664.8 456.7 663.3 451.3 660.8 446.2 658.5 441.4 656.2 437.3 652.8 433.2 649.4 429.2 646 426 643.2 421.7 639.4 417.3 635.7 412.9 631.9 409.3 628.9 404.6 625.9 400 622.9 395.4 619.8 391.6 616.7 387.8 613.6 383.9 609.8 380 606 375.8 602.1 371.5 598.2 367 594.6 362.1 592.3 357 591.4 351.9 590.5 346.8 589.6 341.6 588.7 336.5 587.9 331.4 587.4 326.3 587.4 321.2 587.4 316.6 585.9 312.4 582.9 308.8 579.7 305.1 576.4 301.3 573 297.2 569.3 293.4 566 289.8 562.8 285.6 559.4 281 555.8 276.4 552.2 272.6 549.5 267.5 546.7 262.4 544 257.2 541.3 252.7 538.3 248.2 535.7 244 533.5 239.3 531.5 234.2 529.5 229.1 527.5 224 525.5 219 523.5 214 521.5 208.7 519.3M177.7 507.2 172.5 505.4 167.6 503.9 162.6 502.2 157.5 500.5 152.4 498.8 147.3 496.8 142.2 494.7 137 492.5 133.1 490.8 127.5 488.9 121.9 487 116.6 484.8 111.5 482.2 106.4 479.6M1638.3 876.3 1634.8 874.6 1630.1 871.6 1625.3 868.7 1620.4 866.3 1615.3 864.4 1610.2 862.6 1606.3 860.4 1604.2 856.7 1602.8 851.5 1601.4 846.4 1600.7 841.3 1600.7 836.2 1600.7 831.1 1602.4 826.2 1605.9 821.5 1609.2 817.2 1612.5 813.2 1612.6 808 1612.8 802.9 1613 797.8 1610.3 793.7 1607.6 789.7 1602.5 790.6 1597.4 791.5 1592.3 792.4 1587.1 793.2 1582 794 1576.9 794.8 1573.8 790.7 1570.8 786.6 1567.7 782.5 1563.6 779.8 1559.3 779.8 1554.9 782.5 1550.6 785.8 1546.2 789.1 1541.1 789.8 1536 790.6 1530.9 791.4 1525.8 791.9 1520.7 792.4 1515.5 792.9 1510.7 794.9 1506 796.8 1501.9 798.8 1497.6 800.5 1492.5 802 1487.4 803.5 1482.3 804 1477.2 803.5 1472.1 803 1466.9 803.1 1461.8 803.6 1456.7 804.2 1451.6 804.2 1446.5 803.8 1441.4 803.3 1436.4 802.2 1431.6 800.4 1426.8 798.7 1423.5 797.4 1418.4 795.3 1413.2 793.3 1408.1 791.3 1403 790.8 1397.9 790.3 1392.8 789.7 1387.7 789.5 1382.5 789.3 1377.4 789 1372.3 788.7 1367.2 788.4 1362.1 788 1358.3 785.3 1354.6 782.5 1350.7 779.3 1346.7 776.2 1341.6 775.6 1336.5 775.1 1331.4 774.5 1326.3 773.7 1321.2 772.9 1316.1 772.1 1311.6 770.1 1307.1 768.1 1302.8 765.7 1298.6 762.5 1294.5 758.9 1290.3 755.3 1286.2 751.8 1283.8 751.8 1278.3 753.7 1272.8 755.6 1268 755 1264.1 751.8 1259.4 748.5 1254.7 745.2 1249.6 744.3 1244.4 743.3 1239.3 742.4 1234.9 740 1230.4 737.6 1226.1 734.9 1221.4 732.5 1216.3 730.8 1211.2 729.2 1206.1 727.9 1201 726.9 1195.9 726 1190.6 724.6 1185.2 722.8 1179.9 721 1175.8 718.1 1171.4 714.2 1167 710.2 1162.6 706.3 1157.5 708.1 1152.4 709.8 1147.3 711.6 1142.1 710.8 1137 710 1131.9 709.3 1127.7 707.5 1123.4 705.7 1118.8 703.7 1114 702.3 1108.9 701.5 1103.8 700.7 1098.7 699.8 1093.6 698.7 1088.4 697.7 1083.3 696.5 1078.2 695.2 1073.1 694 1068.3 692.6 1064 691.1 1059.6 689.7 1055.2 688.3 1050.1 687.2 1045 686.1 1039.8 684.9 1034.7 684.5 1029.6 684 1024.5 683.6 1019.4 683.1 1014.3 682.6 1009.2 682.1 1004 682.1 998.9 682.2 993.8 682.2 988.7 682.4 983.6 682.6 978.5 682.8 973.4 683 968.2 683.3 963.1 683.6 958 684.2 952.9 684.8 947.8 685.3 942.8 687 937.8 688.7 932.7 690.3 929.9 691.2 924.8 692.8 919.6 694.4 914.5 695.8 909.4 696.9 904.3 698.1M871 712 865.9 713.2 860.8 714.4 855.7 715.7 850.6 717.4 845.5 719.1 840.4 720.9 837.5 722.2 832.5 724.5 827.5 726.8 822.5 728 817.3 728.2 812.2 728.4 807.1 727.8 802 726.3 796.9 724.8 792.1 725.8 787.7 729.3 783.4 732.8 779 736.4 773.9 736.2 768.8 736.1 763.6 735.9 760.2 737.2 755.4 738.8 750.7 740.4 745.8 739.6 740.7 736.4 736.8 734 732.9 731.7 727.8 731.8 722.7 731.9 717.6 732 713.4 734.9 709 738.1 704.5 741.4 699.7 743.8 694.6 745.4 689.5 746.9 685.2 749.1 681.9 751.8 678.5 755.4 675 759.1 671.6 762.7 668.8 765.6 665.6 768.8 661.8 772.3 658.1 775.8 654.1 778.8 649.8 781.2 645.4 783.5 640.9 785.6 635.8 787.1 630.6 788.6 625.5 790.1 620.4 792.1 615.3 794.1 610.2 796.1 607.3 797.8 602.3 800.4 597.3 803 592.3 804.3 587.2 804.3 582.1 804.2 576.9 803.9 571.8 803.2 566.7 802.6 561.7 800.8 556.7 797.8 552.8 794.2 548.8 790.5 545.4 786.5 542.1 782.5 538.6 778.9 535.2 775.3 531.7 771.4 528.1 767.1 527 762 526 756.9 524.9 751.8 522.2 746.7 519.5 741.7 517.1 737.8 514.2 734.3 510.4 730.2 506.6 726 502.8 721.9 499.2 719.8 494.5 717.2 489.8 714.6 485 711.8 480.1 708.8 475.1 705.7 472.1 703.6 467 702.3 461.9 701.1 456.7 699.9 451.6 700.8 446.5 701.7 441.4 702.6 436.3 700.5 431.2 698.5 426 696.5 422.6 692.4 419.5 688.1 416.8 683.8 414.1 679.4 411.4 675 408.8 672.2 405.1 668 401.4 663.8 397.7 659.6 395.4 657.5 390.2 654.6 385.1 651.7 380 648.8 374.9 648.6 369.8 648.4 364.7 648.3 360.6 646.3 356.6 644.3 351.7 641.4 346.8 639.1 341.6 637.6 336.5 636 331.4 634.4 326.3 632.9 321.2 631.3 317.4 629.8 314.7 626.7 311.9 622.4 309.2 618 306.4 613.6 303.3 611 298.2 608.4 293.1 605.9 287.9 603.3 283.5 599.9 279.2 596.3 274.8 592.5 270.6 588.6 266.6 584.8 262.8 580.9 259.1 576.9 255.6 573.1 252.4 569.4 249 565.4 245.4 561.2 241.9 557.1 238.3 553.8 234.1 550.8 229.1 548.1 224 545.7 218.9 543.7 213.8 541.7 209.1 539.7 204.7 537.8 200.3 535.7 195.9 533.6 190.8 531.4 185.6 529.2 180.5 527 175.4 525.3 170.3 523.7 165.2 522 160.5 520.5 155.2 518.5 149.8 516.5 144.7 514.3 139.6 512.1 134.5 510 129 508 123.6 506.1 119.1 503.9 114 501.4 108.9 498.8 103.8 496.2M103.8 1269.6 108.9 1269 114 1268.4 119.1 1267.8 124.3 1267.8 129.4 1267.8 134.5 1267.8M159.7 1285.9 164.7 1289.1 167.7 1290.8 172.9 1293.5 178 1296.1 183.1 1297.8 188.2 1298.7 193.3 1299.6 197.8 1301.5 201.5 1304.4 204.2 1309.6 207 1314.7 209.7 1319.8 213.4 1319.8 218.7 1317.3 223.9 1314.8 229.1 1314.2 234.2 1315.5 239.3 1316.9 243.1 1318.7 246.4 1321.9 250.7 1326 255.1 1330.1 258.6 1333.7 260.8 1337.7 262.4 1342.8 264.1 1347.9 266.9 1352.7 270.7 1357.1 274.8 1360.4 279.3 1362.6 283.9 1364.8M505.3 897.1 500.7 893.9 496.6 889.9 500.7 886.3 505.3 883.1 510.4 880.5 515.6 877.8 520.7 876.4 525.8 876.2 530.9 876 536 875.8 541.1 875.8 546.2 875.7 551.4 876.1 556.5 876.8 561.6 877.6 565.7 880.3 568.8 885.1 572 889.9 568.8 894.1 565.7 898.2 561.6 901 556.5 902.5 551.4 903.9 546.8 904.9 542.8 905.3 538.1 905.7M1638.3 902.4 1633.2 902.7 1628.1 903 1623 903.3 1617.8 902.1 1612.7 901 1607.6 899.8 1602.5 899.4 1597.4 899 1592.3 898.6 1587.2 898.7 1582 898.7 1576.9 898.8 1571.8 899.3 1566.7 899.7 1561.6 900.2 1556.5 899.3 1551.3 898.3 1546.2 897.4 1542.8 893.6 1539.4 889.9 1536 886.4 1532.6 882.8 1529.2 879.4 1525.8 876.2 1522.9 872 1520.5 866.9 1518 861.8 1515.5 858.2 1511.5 858.9 1507.2 859.7 1502.5 860.6 1497.6 861.6 1492.5 862.9 1487.4 864.2 1482.3 865.1 1477.2 865.6 1472.1 866 1466.9 866.4 1461.8 866.6 1456.7 866.8 1451.6 866.6 1446.5 865.8 1441.4 865.1 1436.7 862.9 1432.5 859.2 1428 855.3 1423.5 851.4 1419.5 848.4 1415.6 845.4 1411.8 842.4 1408.1 839.5 1403 838.9 1397.9 838.2 1392.8 837.5 1387.8 834.5 1382.8 831.5 1377.8 828.5 1376.7 828.5 1371.8 829.8 1367 831.1 1362.1 832.4 1357 833 1351.9 833.5 1346.7 834.1 1342.1 831.9 1337.4 829.6 1333.2 827.3 1328.8 825.3 1323.7 823.6 1318.6 821.8 1313.5 820.6 1308.4 819.9 1303.3 819.3 1298.2 818.4 1293 817.4 1287.9 816.3 1283.3 814.5 1279 811.8 1274.5 809.2 1270 806.6 1264.9 805.2 1259.8 803.8 1254.7 802.4 1250.6 799.3 1246.3 796.1 1241.6 792.5 1237.4 789.1 1233.7 785.8 1229.9 782.5 1226 779.1 1221.4 777.1 1216.3 776.2 1211.2 775.3 1206.1 774.7 1201 774.1 1195.9 773.6 1191.4 771.8 1187.6 768.7 1183.7 765.5 1179.9 762.4 1175.4 759.6 1170.3 757.2 1165.2 754.7 1161.3 752.6 1157.5 750.6 1152.4 748.2 1147.3 745.9 1142.1 745.5 1137 745.1 1131.9 744.6 1126.8 744.6 1121.7 744.5 1116.6 744.4 1111.5 743.7 1106.3 743 1101.2 742.3 1096.1 742.3 1091 742.4 1085.9 742.5 1080.8 742.6 1075.7 742.8 1070.5 743 1065.4 743.1 1060.3 743.1 1055.2 743.2 1050.1 743.4 1045 743.5 1039.8 743.7 1037.2 740 1034.5 736.4 1030.5 733.2 1026.5 730 1022.2 726.9 1017.5 724 1012.8 721 1009.2 718.6 1004 716.9 998.9 715.2 993.8 713.4 988.7 712.6 983.6 711.8 978.5 710.9 973.4 710.4 968.2 709.8 963.1 709.3 958 710.1 952.9 710.9 947.8 711.7 942.7 712.6 937.5 713.6 932.4 714.5 927.3 715.8 922.2 717.1 917.1 718.4 911.8 721 906.8 723.7 901.7 726.3 897.2 729.7 892.7 733 888.1 736.4 884.2 739 879.8 742 875.4 745.1 871 748.1 866.3 749.9 861.6 751.8 857.7 752.5 853.4 752.5 848.7 751.8 843.1 750.3 837.7 750.7 832.6 752.3 827.5 753.5 822.5 753.9 817.3 753.7 812.2 753.4 806.9 752.9 801.3 752.1 796.4 751.3 792.7 751.8 788.1 754.2 783.6 756.6 779 759 773.9 760.5 768.8 762.1 763.6 763.7 758.5 764.1 753.4 764.5 748.3 764.9 743.2 764.9 738.1 764.9 732.9 764.9 729.7 767.1 725.7 771 721.6 775 717.6 778.9 713.3 782.5 708.9 784.6 704.5 786.7 700.1 789.8 695.8 793.8 691.5 797.8 686.9 801.4 681.8 803.6 676.7 805.8 671.6 808 666.5 808.3 661.3 808.6 656.2 808.8 650.7 811 645.2 813.2 645.5 818.3 645.7 823.4 646 828.5 642.6 831.1 638.7 833.8 634.3 836.6 629.9 839.5 625.5 842.4 620.6 844.8 615.4 846.7 610.2 848.6 605.1 848.4 600 848.3 594.8 848.1 590.5 845.3 586.6 841.9 583 837.9 579.5 834 574.7 832.1 569.9 830.3 565.1 828.5 561.6 827.8 556.5 826.6 551.4 825.5 546.2 824.3 541.1 823 536 821.8 531.5 819.1 527.7 815.2 523.9 811.1 520 806.9 516.6 803 513.6 799.5 510.6 795.2 507.5 790.1 504.5 785 502.8 782.2 500.2 777.2 497.6 772.1 495.1 767.1 493.3 762 491.4 756.9 489.6 751.8 487.4 749.6 482.3 748.3 477.2 746.9 472.1 745.6 467 745.5 461.9 745.4 456.7 745.3 451.6 745.7 446.5 746.1 441.4 746.5 437.4 749.1 433.5 751.8 428.5 754.9 423.3 755.2 417.9 752.9 413.7 750.4 410.7 747.7 409 743.2 407.3 738.7 405.8 733.8 404.5 728.7 403.2 723.6 401.3 718.5 398.9 713.5 396.6 708.4 395.2 705.7 392.4 700.6 389.5 695.5 386.7 690.3 382.2 686.4 377.5 683.8 372.3 682.7 367.2 681.7 362.1 680.5 357 679.2 351.9 677.9 347.8 676.1 344.3 673.1 340.2 669.4 336 665.6 332.4 662.4 329.2 659.6 324.9 657.2 320.7 654.7 316.1 652 311 649 305.8 646 303.1 644.3 298.8 641 294.4 637.7 290.1 634.3 286.3 631.4M257.2 614.5 253.7 611.7 249 608.1 244.3 604.4 240.5 601.1 237.7 598.2 234 593.6 230.3 589 226.6 584.4 224.1 580.7 221.4 576.3 218.7 571.9 216.1 567.5 212.8 564.5 209.1 561.5 205 558.4 200.8 555.3 196.7 552.2 193.3 550.8 188.2 548.8 183.1 546.8 178.1 544.3 173.1 541.3 168.2 538.3 165.2 536.6 160.1 535.1 154.9 533.6 149.8 532.1 144.7 529.6 139.6 527.1 134.5 524.7 129.6 522.5 124.5 520.6 119.1 518.9 114 516.7 108.9 514.6 103.8 512.4M1024.5 783.3 1020.4 782.5 1020.4 777.3 1020.5 772.2M1024.5 764.5 1030.1 765.8 1035.6 767.1 1038.4 771.1 1040.2 775.4 1040.9 780.1 1039.8 783 1034.7 783.1 1029.6 783.2 1024.5 783.3M103.8 1218.3 108.9 1218.8 114 1219.4 119.1 1219.9 124.3 1220.4 129.4 1220.8M165.2 1223.2 170.6 1225 175.9 1226.8 180.5 1228.8 184 1233.6 187.5 1238.3 191 1243 194.2 1246.2 198.4 1248.9 203.5 1251.1 208.7 1253.4 213.7 1255.1 218.5 1256.4 223.4 1257.7 226.6 1258.6 229.4 1257.4 234.4 1255.4 239.4 1253.4 244 1254.4 248.2 1258.4 251.8 1262.4 255.4 1266.5 258.6 1270.3 261.4 1273.7 264.4 1278.1 267.3 1282.5 270.3 1286.9 272.6 1290 275.9 1294.8 279.3 1299.6 282.6 1304.4 286.2 1308.4 289.7 1312.3 293.2 1316 296.7 1319.8 300 1322.9 303.3 1325.9 308.4 1326.6 313.5 1327.3 318.6 1327.9 323.7 1329.5 328.9 1331.1 334 1332.6 339.1 1332.9 344.2 1333.1 349.3 1333.3 353.8 1336.8 358.1 1340.1 362.5 1343.4 366.5 1346.9 370.1 1350.5 373.4 1354.4 376.7 1358.4 380 1362.3 385.2 1363.7 390.4 1365.1M1638.3 996.3 1634.7 992.2 1631.2 988.2 1627.6 984.1 1624.4 980.5 1620.8 977.4 1616.4 974.2 1612 970.9 1607.6 967.7 1607.6 965.1 1611.4 960.5 1615.1 955.9 1618.9 951.3 1614.4 948 1609.9 944.6 1605.1 942.7 1599.9 942.1 1594.8 941.6 1589.7 940.9 1584.6 940.1 1579.5 939.3 1574.4 938.6 1569.2 938 1564.1 937.5 1559 937.3 1553.9 937.4 1548.8 937.6 1543.7 937.8 1538.6 937.9 1533.4 938.1 1528.3 938 1523.2 937.6 1518.1 937.2 1512.9 936.8 1507.5 936.2 1502.5 935.6 1497.6 934.2 1492.5 932 1487.4 929.9 1482.3 928.6 1477.2 928 1472.1 927.5 1466.9 927.3 1461.8 927.5 1456.7 927.6 1451.6 927.3 1446.5 926.6 1441.4 925.8 1436.3 924.5 1431.4 922.6 1426.5 920.6 1423.5 918.6 1418.4 916 1413.2 913.5 1408.1 910.9 1403.2 914.2 1398.3 917.4 1393.4 920.6 1392.4 920.6 1392.2 915.5 1392 910.4 1391.8 905.3 1394.5 902.7 1398 898.5 1401.4 894.2 1404.9 889.9 1402.1 885.5 1399.3 881.1 1396.5 876.8 1392.8 873.4 1388.1 876.1 1383.9 879.3 1379.6 882.4 1375.7 885.9 1372.2 889.9 1372 895 1371.7 900.2 1371.4 905.3 1366.7 908.1 1362.1 910.8 1357 910.5 1351.9 910.2 1346.7 909.9 1343.3 906.8 1343.3 902.9 1346.7 898.2 1350.2 894.1 1353.7 889.9 1350.9 885.3 1348.1 880.6 1345.1 876.4 1341 873.3 1336.2 870.7 1331.4 868.2 1326.3 867.4 1321.2 866.6 1316.1 865.9 1310.9 863.8 1305.8 861.6 1300.7 859.5 1297.7 858.2 1292.8 856.1 1287.8 854.1 1282.8 852.8 1277.7 852.3 1272.6 851.7 1267.5 851.3 1262.3 850.9 1257.2 850.5 1252.1 850 1247 849.2 1241.9 848.5 1236.9 847.3 1232 845.6 1227.1 843.9 1224 842.5 1218.9 840.4 1213.8 838.3 1208.6 836.3 1203.5 834.1 1198.4 831.9 1193.3 829.7 1189.4 827.3 1184.8 824.8 1180.2 822.3 1175.4 821 1170.3 820.7 1165.2 820.4 1160 820.2 1154.9 820.2 1149.8 820.1 1144.7 820 1139.6 819.8 1134.5 819.7 1129.4 819.2 1124.2 818.2 1119.1 817.3 1114.4 815.9 1110.2 814.1 1108.3 810.6 1108.7 805.5 1109.1 800.4 1111.1 795.7 1114.7 791.6 1118.2 787.2 1121.5 782.5 1118.2 779.9 1114 779.2 1108.9 780.2 1103.8 781.3 1100.3 782.5 1097.5 787.6 1094.8 792.7 1092.1 797.8 1087.9 800.2 1083.9 800.2 1079.9 797.8 1075.2 794.9 1070.5 792 1065.4 794.9 1060.3 797.8 1055.2 800.3 1050.1 800.4 1045 800.6 1039.8 800.8 1034.7 801.4 1029.6 801.9 1024.5 802.4 1019.4 802.8 1014.3 803.3 1009.2 803.8 1004 804.1 998.9 804.4 993.8 804.6 989 808 984.2 811.5 980.2 813.6 977 813.6 973.5 811.4 969.4 807.8 965.2 804.2 961.6 800.8 958.7 797.8 961.6 793.9 964.8 790 968.2 786.2 971.6 782.5 975 778.7 978.5 775 982.3 771 986.2 767.1 990 762.7 993.8 758.3 996.9 753.9 996.9 750.2 993.8 747.1 988.7 746.1 983.6 745.1 978.5 744.2 973.4 742.9 968.2 741.6 963.1 740.3 958 741.4 952.9 742.5 947.8 743.6 942.7 743.8 937.5 743.9 932.4 744.1 927.3 744.5 922.2 745 917.1 745.4 912 747 906.9 748.6 901.7 750.2 896.6 753.3 891.5 756.4 886.4 759.5 881.3 761.5 876.2 763.5 871 765.6 866.4 766.6 861.2 768 855.7 769.8 850.6 769.5 845.5 769.3 840.4 769.1 835.2 769.3 830.1 769.4 825 769.5 819.9 770.1 814.8 770.6 809.7 771.2 804.6 773.4 799.4 775.7 794.3 777.9 789.5 780.2 784.7 782.5 780.9 784.2 776.4 785.4 771.3 786 766.2 786.6 761.1 786.8 756 786.5 750.8 786.2 745.7 786.5 740.6 787.5 735.5 788.5 730.5 790.5 725.6 793.4 720.7 796.3 717.6 798.3 713.2 801.7 708.8 805.1 704.4 808.5 700.3 811.7 696 815 691.5 818.6 686.9 822.2 682 824.7 677 827.2 673 829.5 669.5 832.5 665.3 836.3 661.2 840.1 657 843.9 654 845.9 649.6 848.9M621.1 869.4 616.6 872 612.1 874.6 607.6 876.9 602.5 879.3 597.4 881.7 593.4 885.2 590.5 889.9 588.8 895 587.2 900.2 585.6 905.3 583.1 909.9 580.7 914.6 576.9 917.3 571.8 918.1 566.7 919 561.6 919.3 556.5 919.2 551.4 919.1 546.2 919.3 541.1 919.7 536 920.1 531.9 920.4 528 921.2 523 922.5 518.1 923.7 513 924.6 507.9 925.4 502.8 926.3 497.7 926.2 492.5 926.1 487.4 925.9 482.3 925.4 477.2 924.8 472.1 924.2 467 923.6 461.9 923.1 456.7 922.5 452 921.6 447.2 920.6 443.3 917.8 438.8 914.9 433.7 912.1 428.6 909.2 424.4 906.5 422.5 902.7 422 897.6 421.4 892.5 422.8 887.6 426 883.1 430.1 878.8 434.2 874.6 434.6 869.5 435 864.3 435.4 859.2 435.4 854.1 435.4 849 435.4 843.9 435.4 838.7 435.3 833.6 435.2 828.5 435.2 823.4 435.3 818.3 435.3 813.2 434.7 808 434.1 802.9 433.4 797.8 429.7 793.9 426 789.9 423.3 786.2 420.5 782.5 417.2 778.5 414 774.5 410.7 770.5 406.7 767.1 403.9 762.7 401 758.3 398.1 753.9 395.4 749.4 391.3 745.1 387.2 740.7 383.1 736.4 380 731.5 376.9 727.3 373.8 723.1 370.3 719.2 366.6 715.4 362.1 713.3 357 712.8 351.9 712.3 346.8 711.1 341.6 709 336.5 707 333.6 705.7 328.6 702.8 323.6 699.9 318.6 697 314.2 693.7 309.8 690.3 305.5 686.4 301.4 682.6 297.8 678.8 294.1 675 290 670.7 286.2 666.8 282.7 663.2 279.2 659.6 274.8 656 270 653.1 264.9 650.9 259.8 648.7 255 645.9 250.5 643.1 246.2 640.6 241.9 638.2 236.8 636.4 231.7 634.6 226.6 632.8 222 628.9 219.3 623.8 216.7 618.7 214 613.6 211.2 609.3 208.4 604.9 205.6 600.4 202.8 596 200 591.7 197.3 587.3 194.7 584 191.4 581.6 187 579.1 182.7 576.6 178.3 573.8 173.8 570.6 169.3 567.5 165.2 564.6 160.8 561.7 156.4 558.8 152 555.9 147.7 553.3 143.4 550.8 139 548.1 134.5 545.4 129.4 543.2 124.3 541 119.1 538.7 115.7 536.8 110.9 535.1 106.2 533.3M453.8 874.6 456.7 877 461.8 874.6 466.9 872.1 472.1 869.7 477.2 867.7 482.3 865.8 487.4 863.8 490.6 860.8 492.4 856.7 492.8 851.5 493.2 846.4 493 841.3 492.2 836.2 491.5 831.1 489.9 826.9 487.4 823.6 484 819.4 480.6 815.3 477.5 810.8 474.8 806.1 472.1 801.4 467.6 799.6 463.1 797.8 458.9 796.7 455.4 796.9 453.3 800.4 451.6 805.5 450 810.6 451.1 815 454.8 818.7 458.5 822.6 462.1 826.5 464 831.1 464.1 836.2 464.2 841.3 463.8 846.4 463 851.5 462.1 856.7 460.5 861.8 458 867 455.3 872.1M349.3 861 345.3 859.2 340.8 855.3 336.2 851.4 332.7 847.6 330.1 843.9 334 839.6 339.1 839.5 344.2 839.3 349.3 839.2 352.6 842.3 353.9 846.4 353.3 851.5 352.6 856.7 350.8 860.1M119.1 640.4 117.3 635.8 115.5 631.2 116.1 626.7 119.1 622.2 121.4 626.7 121.9 631.2 120.5 635.8 119.1 640.4M103.8 561.5 104.4 563.5 104.9 565.5M763.6 1309.3 761.3 1306.1 761.3 1302 763.6 1297.1 767.7 1293.1 771.7 1289.1 776.6 1288.1 781.7 1288.3 783.8 1291.6 782.6 1296.8 781.3 1301.9 779.8 1306.3 776.4 1308.3 771.3 1308.7 766.2 1309.1M298.6 1258.4 301.7 1261.2 305.2 1261.2 309 1258.4 306.2 1254.4 303.3 1250.4 301 1254.4 298.6 1258.4M103.8 1187.5 108.9 1188.1 114 1188.7 119.1 1189.2 124.3 1190.6 129.4 1192 134.5 1193.4 139.6 1191.7 144.7 1190.1 149.8 1188.4 154.9 1187.2 160.1 1186 165.2 1184.9 170.3 1185.9 175.4 1186.9 180.5 1188 185.6 1188.1 190.8 1188.2 195.9 1188.3 201 1188.3 206.1 1188.2M241.9 1184.8 247 1185.6 252.1 1186.5 257.2 1187.4 262.2 1184.5 267.2 1181.6 270.8 1179.9 275.2 1178.5 280.3 1177.5 285.4 1176.4 290.5 1175.8 295.6 1175.6 300.7 1175.5 305.8 1176 311 1177 316.1 1178.1 321.4 1179.6 326.9 1181.6 326.5 1186.7 326.1 1191.9 325.6 1197 322.1 1200.4 318.6 1203.9 313.5 1204.5 308.4 1205.1 303.3 1205.8 299.3 1210.1 297.3 1214.9 297.3 1220 297.2 1225.1 298.7 1230.1 301.8 1234.9 305.2 1239.2 309 1243 312.9 1246 316.7 1248.9 321.2 1249.6 326.3 1247.9 331.4 1246.2 335.5 1244.2 339.5 1241.7 344.4 1239.1 349.3 1236.5 353.4 1240.8 355.7 1245.6 356.4 1250.7 357 1255.8 358.8 1260.9 361.7 1266.1 364.7 1271.2 367.1 1273.7 372.2 1276.7 377.4 1279.6 382.2 1282.4 386.6 1285.1 391 1287.8 395.4 1290.8 400.5 1292 405.6 1293.3 410.7 1294.5 414.5 1291.8 418.3 1289.1 422.2 1286.3 426 1283.4 429.7 1286.3 433.3 1289.1 437.4 1292.1 441.4 1295.2 446.5 1295.9 451.6 1296.6 456.7 1297.4 461.9 1297.3 467 1297.3 472.1 1297.3 477.2 1297.7 482.3 1298 487.4 1298.4 492.2 1300.4 496.9 1302.4 501.6 1304.4 505.3 1306 510.4 1307.7 515.6 1309.5 519.9 1308.8 523.4 1305.9 527.2 1302.8 531.4 1299.6 536 1296.5 541.1 1293.7 546.2 1290.8 551.4 1289.7 556.5 1290.2 561.6 1290.7 565.3 1293.2 567.7 1297.7 570.1 1302.2 571.4 1307 571.5 1312.1 571.7 1317.2 571.8 1322.4 571.7 1327.5 571.7 1332.6 572.7 1337.7 574.7 1342.8 576.8 1347.9 579.5 1352.3 583.9 1355.7 588.3 1359 592.6 1362.4 596.6 1361.8 600 1357.3 603.4 1352.8 605.3 1347.9 605.6 1342.8 606 1337.7 608.2 1333.1 612.7 1330.2 617.9 1328.4 623 1326.7 627.8 1327.6 632.5 1331.4 637.1 1335.1 637.5 1340.3 637.9 1345.4M639.6 1353 641.6 1358 642.9 1363.2M671.6 1092.6 667.4 1089.5 671.6 1088.5 672 1091.1M625.5 1070.7 621.4 1067.3 617.2 1063.9 613 1060.5 610.2 1057.3 609.7 1051.8 609.2 1046.2 609.6 1041.7 612.4 1041.1 616.9 1043.4 621.2 1046.5 625.5 1049.5 630.1 1053.2 634.6 1056.9 635 1060.8 631.2 1064.8 627.4 1068.7M1638.3 1062.6 1633.2 1062.8 1628.1 1063.1 1623 1063.3 1619.4 1060.3 1618.9 1056.7 1621.6 1052.5 1624 1048 1626.2 1043.4 1623 1039.3 1618.6 1036.3 1614.2 1033.2 1609.8 1030.2 1607 1028.1 1602.1 1025.9 1597.2 1023.7 1592.3 1021.6 1587.2 1020.8 1582 1020.1 1576.9 1019.4 1571.8 1019.3 1566.7 1019.3 1561.6 1019.2 1556.5 1019.4 1551.3 1019.6 1546.2 1019.9 1541.1 1019 1536 1018.1 1530.9 1017.2 1527.6 1014.2 1526.1 1010.2 1526.5 1005.1 1526.9 999.9 1528.3 995.8 1530.9 992.6 1535.1 988.4 1539.3 984.2 1539.3 980.7 1535.1 978.1 1530.9 975.4 1526.5 971.9 1522.2 968.4 1517.8 965.4 1513 963.8 1507.9 963 1502.8 962.2 1497.6 961.6 1492.5 961.4 1487.4 961.1 1482.3 960.8 1477.2 960.6 1472.1 960.3 1466.9 960 1461.8 959.6 1456.7 959.1 1451.6 957.7 1446.5 955.4 1441.4 953 1436.3 952.1 1431.1 952.8 1426 953.4 1420.9 953.3 1415.8 952.6 1410.7 951.8 1406.4 951.3 1400.9 951.1 1395.5 950.8 1390.2 949.8 1385.1 948.2 1380 946.7 1374.9 946.7 1369.8 948.3 1364.6 950 1359.5 949.6 1354.4 947.2 1349.3 944.8M1316.1 938 1311.9 936 1307.4 933.4 1302.9 930.8 1298.2 928.1 1293.1 925.1 1288.1 922.1 1285.4 920.4 1282.5 916.1 1279.6 911.8 1276.8 907.4 1273.6 903.4 1270 899.7 1266.2 896.5 1262.4 893.2 1258.6 889.9 1254.7 887.2 1251.1 889 1247.3 891.8 1243.3 895.6 1239.3 899.5 1234.2 897.9 1229.1 896.3 1224 894.7 1218.9 893.7 1213.8 892.6 1208.6 891.6 1203.5 892.5 1198.4 893.5 1193.3 894.5 1188.8 891.4 1184.4 888.2 1180.1 884.7 1175.4 881.9 1170.3 879.9 1165.2 877.9 1160.6 875.7 1156.3 873.5 1151.8 871.3 1147.3 869.1 1142.5 871.8 1137.6 874.6 1133.8 876.4 1129.9 876.4 1125.8 874.6 1121.2 871.9 1116.6 869.1 1111.5 866.6 1106.3 864.2 1101.2 861.7 1098.3 859.2 1094.7 855.2 1091.2 851.1 1087.7 847 1084.8 843.9 1080.8 839.6 1076.7 835.3 1072.6 831 1068 828.9 1062.9 829.1 1057.7 829.3 1052.6 829.8 1047.5 830.9 1042.4 831.9 1037.3 832.7 1032.2 833.4 1027.1 834 1021.9 834.2 1016.8 834 1011.7 833.7 1006.6 833.2 1001.5 832.5 996.4 831.8 991.7 830.4 987.6 828.5 983 827.5 978.5 826.6 973.4 825.8 968.2 825 963.1 824.3 958 823.1 952.9 821.9 947.8 820.7 942.7 819.8 937.5 818.8 932.4 817.8 927.3 816.6 922.2 815.3 917.1 814.1 911.8 812.2 906.8 810.2 901.7 808.3 896.6 807.3 891.5 806.4 886.4 805.4 881.3 804.6 876.2 803.7 871.1 802.8 866.7 799.5 862.4 796.7 857.9 794.5 853.1 793.6 848 793.8 842.9 794.1 838.3 795.4 834.2 797.8 837.3 801.3 840.4 804.8 843.6 809 846.8 813.2 844.2 817.8 841.7 822.5 837.5 825.6 831.8 827 826.1 828.5 824.7 828.5 819.7 826.4 814.7 824.2 809.7 822.1 804.6 821.7 799.4 821.4 794.3 821 789.6 818.4 784.9 815.8 780.2 813.2 776.4 811.9 771.3 810.6 766.2 809.3 761.1 808.5 756 808.1 750.8 807.7 745.7 807.9 740.6 808.6 735.5 809.2 731.1 810.8 727.5 813.2 723.6 816.9 719.6 820.6 715.9 824 712.5 827 708.7 830.3 704.4 833.8 699.7 836.7 694.6 839 689.5 841.2 685.1 843.9 680.6 847.8 676.1 851.8 671.6 855.7 667.1 859.2 663.5 863.9 659.9 868.5 656.2 873.2 652.3 876.1 647.7 879.1 643.2 882.1 638.5 885.2 633.7 888.3 629.4 891.5 625.5 894.8 620.4 897.4 615.3 900.1 610.2 902.8 607.3 905.3 606.3 910.4 605.3 915.5 604.2 920.6 601.1 924.9 598 929.2 594.8 933.6 590.7 936 586.9 939.8 583.2 943.6 579.5 947.3 576.2 951.3 573.2 956.4 570.1 961.6 567.1 966.7 567.1 971.8 567.2 976.9 567.3 982 564.1 983.8 561.5 982 556.4 978.8 551.3 975.6 546.2 973 541.1 970.9 536 968.7 531.9 967.2 527.9 965.1 523 962 518.1 958.9 514.1 955.9 510.1 952.8 506.4 950.2 502.8 947.9 497.7 946.3 492.5 944.6 487.4 942.9 482.3 941.6 477.2 940.3 472.1 939 467.2 937.8 462.4 936.6 458.4 935.6 454.2 934.6 449.1 933.3 443.9 931.9 438.8 930.2 433.7 928.2 428.6 926.1 423.9 924 419.7 921.7 415.3 918.9 410.7 915.5 405.6 913.7 400.5 911.9 395.4 910.2 390 907.7 384.7 905.3 384.1 900.2 383.6 895 383 889.9 381 886.1 379.7 881.8 379 877 379.1 872.1 380 867.3 385.1 866.8 390.2 866.3 395.4 865.7 398.7 861.4 400.3 856.7 400.4 851.5 400.5 846.4 398.8 841.6 395.4 836.9 391.5 832.7 387.6 828.5 386.2 823.4 384.8 818.3 383.4 813.2 383.6 808 383.8 802.9 384 797.8 384.4 792.7 384.7 787.6 385 782.5 384.2 777.3 383.4 772.2 382.6 767.1 380.9 762.8 378 758.4 374.1 754 370.2 750.5 366.5 747.9 362.1 746.1 357 745.1 351.9 744.2 346.8 743.2 341.6 742.2 336.5 741.1 331.3 739.6 326.1 737.5 321 735.4 316.1 733.4 311 731.3 305.8 729.3 300.9 726.8 296 723.9 291.2 721 287.9 719 282.8 717.6 277.7 716.2 272.6 714.8 267.5 714.5 262.4 714.3 257.2 714.1 252.1 713.6 247 713 241.9 712.5 237.8 709.1 233.6 705.7 230.1 702.4 226.6 699 223 694.7 219.4 690.3 218.8 685.2 218.2 680.1 217.7 675 213.4 671.3 208.7 668.9 203.5 667.9 198.4 666.9 193.6 664.7 189 661.3 184.7 658.1 180.5 655 176.6 658.1 172.7 661.2 168.9 664.3 165.2 667.4 160.1 669 154.9 670.6 149.8 672.3 147.3 675 147.2 680.1 147 685.2 146.9 690.3 149.8 691.8 154.8 690.8 159.9 689.2 165.2 686.8 168.1 690.3 170.3 695.5 172.5 700.6 174.7 705.7 177.6 709.8 180.5 714 183.8 717.5 187 721 188.6 726.2 190.1 731.3 191.6 736.4 186.1 738 180.5 739.6 175.4 738.9 170.3 738.3 165.2 737.7 160.1 737.4 154.9 737.1 149.8 736.7 147.2 734.9 143 732 138.7 729 134.5 726 132.2 722.7 129.8 718.5 127.2 713.4 124.7 708.3 122 703.6 119.1 699.4 118.1 694.9 117.1 690.3 117.2 685.2 117.3 680.1 117.4 675 117.7 669.9 118 664.8 118.2 659.6 116.5 654.5 114.9 649.4 113.2 644.3 110 639.9 106.9 635.6 103.8 631.3M334 864.7 330.7 861 327.7 856.7 325 851.5 322.2 846.4 322.7 841.8 326.5 837.7 330.2 833.6 334 829.5 339.1 829.6 344.2 829.7 349.3 829.8 353.6 833.8 357.9 837.8 362.1 841.9 364.2 846.4 364.1 851.5 363.9 856.7 361.4 860.7 356.6 863.6 351.7 866.5 346.8 867.4 341.6 866.3 336.5 865.2M257.2 845.3 253 843.9 251.4 838.7 249.9 833.6 248.4 828.5 245.1 824.8 241.9 821 236.8 821.7 231.7 822.4 226.6 823.1 222.2 820.3 217.8 817.5 213.4 814.6 211.2 813.2 210.4 808 209.5 802.9 208.7 797.8 207.9 792.7 207 787.6 206.1 782.5 203.2 778.1 200.3 773.7 197.3 769.3 195.9 767.1 194.9 762 194 756.9 193 751.8 194.5 746.4 195.9 741.1 200.4 744.7 204.9 748.2 209.4 751.8 212.6 755.4 215.3 760.1 218 764.8 221.2 769 224.8 772.7 228.2 776.6 231.5 780.5 234.9 784.6 238.4 788.9 241.9 793.2 244.6 796.3 248.2 799.8 252.7 803.7 257.2 807.6 261.4 811.3 265.3 814.9 268.9 818.4 272.6 821.9 276 825.2 279.5 828.5 280.5 833.6 281.5 838.7 282.6 843.9 277.6 844.6 272.6 845.3 267.5 845.3 262.4 845.3 257.2 845.3M924.3 782.5 928.4 785.2 932.4 787.8 934.9 784.3 935.5 779.9 934.3 774.8 933.1 769.7 932.4 767.1 930 769.7 927.7 774.8 925.4 779.9M126.3 659.6 130.4 662.7 134.5 665.8 138.8 661.7 140.7 657.1 140.3 652 139.9 646.8M140.5 616.1 143.1 611.6 147.6 607.8 151.5 603.9 154.7 600.1 156 595.7 155.2 590.5 154.5 585.4 152.7 581.3 149.8 578.2 145.5 575.1 141.1 572.1 136.7 569 134.5 567.5 132.3 569.3 127.9 572.7 123.5 576.2 119.1 579.6 118 582.9 118.8 587.1 120.5 591.5 123.1 596 125.6 600.8 128.1 605.9 130.5 611M131.7 646.8 129.6 652 127.4 657.1M1313.1 1191.9 1311.2 1186.7 1309.4 1181.6 1310.3 1176.5 1311.3 1171.4 1312.3 1166.3 1314.8 1162.1 1318.6 1160 1323.7 1159.8 1328.8 1159.5 1333.8 1161.1 1338.5 1164.6 1342.9 1168 1346.7 1171.5 1351.3 1174.9 1355.8 1178.2 1360.3 1181.6 1362.1 1185.3 1363.3 1189.9 1364.6 1194.6 1363.6 1198.4 1359.5 1200.4 1354.4 1201.7M963.1 1121.9 959 1120.8 959 1119.6 963.1 1118.5 963.1 1121.9M1638.3 1121.3 1633.2 1123.2 1628.1 1125.1 1623 1127 1617.8 1125.4 1612.7 1123.8 1607.6 1122.3 1602.5 1123.6 1597.4 1124.9 1592.3 1126.3 1587.6 1123.2 1582.9 1120.2 1578.9 1117.3 1574.6 1116.9 1569.9 1119.1 1565.5 1121.1 1561.6 1122.9 1556.9 1120.2 1552.6 1117.7 1548.4 1115.2 1544.2 1112.4 1540 1109.4 1535.9 1106.4 1532.3 1103.6 1528.3 1101.6 1523.2 1100.1 1518.1 1098.5 1513 1097.7 1507.9 1097.5 1502.8 1097.3 1498.1 1099.2 1494 1103 1490.2 1107.2 1486.6 1112 1482.3 1114.9 1477.2 1115.9 1472.1 1116.9 1468.1 1118.8 1464.2 1121.5 1459.2 1124 1454.2 1126.6 1449 1126.3 1443.9 1126 1438.8 1125.6 1435.1 1122 1435.1 1118.3 1438.8 1114.6 1443.4 1110.7 1447.9 1106.8 1452.2 1103.1 1456.7 1100.7 1461.8 1099.1 1466.9 1097.6 1472.1 1096.9 1477.2 1096.9 1482.3 1097 1486.5 1095.1 1489.9 1091.4 1489.9 1087.6 1486.5 1083.7 1483.3 1079.8 1480.2 1076 1477.9 1071.6 1476.4 1066.5 1474.8 1061.4 1472.5 1056.9 1469.5 1053.1 1466.2 1048.3 1462.9 1043.4 1459.4 1039.9 1455.9 1036.4 1452.6 1033 1449.4 1029.7 1447.6 1025.5 1447 1020.4 1446.5 1015.3 1446 1010.2 1445.4 1005.1 1444.9 999.9 1442.7 995.3 1438.8 991.2 1434.6 987.5 1430.5 983.9 1425.9 980.5 1420.9 978.6 1415.8 978 1410.7 977.4 1405.6 977.1 1400.5 977.2 1395.3 977.2 1390.2 977.7 1385.1 978.6 1380 979.6 1374.9 979.5 1369.8 978.5M1326.8 968.7 1322.2 966.7 1318.1 965.4 1313.5 964.1 1308.4 962.8 1303.3 961.5 1298.2 960.6 1293 960.1 1287.9 959.7 1282.8 959.4 1277.7 959.3 1272.6 959.2 1267.5 959.2 1262.3 959.4 1257.2 959.6 1252.1 958.9 1247 957.3 1241.9 955.7 1237.4 953.7 1233.6 951.3 1228.8 948.1 1224 944.9 1219.9 941.9 1215.8 939 1211.7 936 1208.6 933 1203.5 930.3 1198.4 927.7 1193.3 925 1188.2 924.3 1183.1 923.5 1178 922.7 1172.8 922.1 1167.7 921.4 1162.6 920.7 1160 919.2 1154.9 916.3 1149.8 913.5 1144.7 910.7 1139.7 908 1134.6 905.3 1131.9 903.9 1127 904.4 1122.1 905 1118.1 905.4 1114 905.4 1108.9 905.1 1103.8 904.6 1098.7 903.2 1093.6 901 1088.4 898.7 1083.6 896.1 1079 893 1074.3 889.9 1070.5 887 1065.4 884.9 1060.3 882.9 1055.2 880.8 1051 878.3 1046.7 875.8 1042.2 873 1037.3 870.7 1032.2 869.3 1027.1 867.8 1021.9 866.3 1016.8 864.8 1011.7 863.2 1006.6 862.2 1001.5 861.7 996.4 861.2 991.3 861.3 986.1 861.9 981 862.6 975.9 863.6 970.8 864.8 965.7 866.1 960.7 868 955.8 870.6 951 873.3 947.8 875.1 942.7 876.8 937.5 878.6 932.4 880.4 927.3 880.6 922.2 880.7 917.1 880.8 911.9 878.3 906.8 875.8 901.7 872.9 896.6 872.5 891.5 872.1 886.4 871.7 881.3 874.6 876.2 877 871 879.4 865.9 880.5 860.8 881.7 855.7 882.8 851 885.6 846.3 888.5 842.2 891.1 838.9 891.1 835.6 888 832.1 884.1 828.6 880.2 825 876.4 820.1 873.3 814.9 870.6 809.7 868 804.6 867.5 799.4 867 794.3 866.5 789.2 866.5 784.1 866.5 779 866.5 773.9 866.2 768.8 866 763.6 865.7 758.5 865.3 753.4 864.8 748.3 864.4 743.2 865.2 738.1 866 732.9 866.8 727.8 867.5 722.7 868.2 717.6 868.8 713.6 871.7 709.5 874.6 705.9 877.9 702.3 881.3 698.4 885.6 694.5 889.9 690.7 893.9 686.9 897.8 683.6 901.5 680.2 905.3 676.8 908.9 673.3 912.5 669.6 915.9 665.7 919.1 661.9 922.1 658.1 925.2 654.4 928.5 650.8 932.3 647.2 936 643 939.9 638.3 942.3 633.2 943.1 628.1 944 623 945 617.9 946.3 612.7 947.6 608.4 949.8 605.3 953.9 602.7 959 600.2 964.1 598.5 969.2 597.5 974.4 596.5 979.5 596.3 984.6 596.7 989.7 597.2 994.8 598.8 999.6 601.6 1004 604.5 1008.4 607.4 1012.7 610.2 1015.5 614.6 1018.2 619 1020.9 623.3 1023.6 627.7 1026.5 632.1 1029.2 636.5 1031.3M667 1061 670 1065.4 673.5 1069.8 677.5 1074.2 681.3 1078 685 1081.8 688.4 1085.6 691.5 1089.5 690.1 1094.6 688.6 1099.7 687.2 1104.9 684.4 1106.5 679.2 1109.3 674.1 1112.1 669 1112.4 663.9 1110.3 658.8 1108.2 653.8 1106 648.7 1104 643.5 1102.4 638.7 1100 634.3 1096.7 629.9 1093.5 625.5 1090.3 622.5 1087.7 618.4 1084 614.3 1080.3 610.2 1076.6 608.1 1071.6 605.6 1066.5 603.2 1061.4 601 1056.2 599.1 1051.1 597.1 1046 594.8 1041.1 592.6 1035.9 590.3 1030.7 587.6 1026.2 584.3 1022.3 581.1 1018.4 578.1 1014.6 574.5 1010.9 570.4 1007.2 566.2 1003.5 562.3 1000.2 558.5 997.4 554.6 994 550.7 990.5 546.2 987.5 541 984.7 535.8 982 530.9 979.2 525.8 976.9 520.7 974.6 515.8 972.1 511.1 969.4 506.5 966.7 502.8 963.5 497.7 960.7 492.5 958 487.4 955.2 482.3 954.3 477.2 953.5 472.1 952.6 466.7 951.8 461.6 950.7 456.7 949.6 451.6 947.7 446.5 945.9 441.4 944 436.3 942.4 431.2 940.8 426 939.2 420.3 937.6 414.6 936 410.7 934.4 405.6 932.5 400.5 930.6 395.4 928.7 390.2 927 385.1 925.4 380 923.7 375.6 921.7 373.7 918.1 374.1 913 374.6 907.8 375 902.7 375.4 897.6 375.8 892.5 374.6 887.7 371.9 883.3 369.2 879 366.4 874.6 362.2 872.9 357.3 873.7 352.3 874.6 349.3 875 345.6 878.7 341.9 882.5 338.1 886.2 334.4 889.9 332.3 889.9 327.7 887.1 323.2 884.2 318.6 881.3 315.5 876.8 312.1 872.2 308.6 867.6 305.1 862.9 300.5 860.3 294.9 859.6 290 859.1 285.4 858.6 280.3 857.8 275.2 857.1 270 856.7 264.9 856.7 259.8 856.7 254.7 856.8 249.6 856.8 244.5 856.9 240.7 854.3 238.4 849.1 236 843.9 232.2 840.5 228.5 837.1 224.3 834 219.8 831.3 215.2 828.5 211.2 824.9 207.8 820.2 204.4 815.5 201.6 810.9 199.3 806.3 197 801.7 195.3 797.8 194.5 792.7 193.6 787.6 192.8 782.5 191.8 777.3 190.9 772.2 190 767.1 186.8 762.9 183.7 758.7 180.5 754.5 176 752.7 171.7 750.6 167.3 748.4 162.6 747 157.5 746.2 152.4 745.4 147.4 743.3 142.7 739.8 137.9 736.4 134.5 734 131.5 729.7 128.6 725.4 125.6 721 122.4 716.2 119.1 711.4 116.5 707.6 114.7 703.1 113.8 698 112.8 692.9 112.2 687.8 112 682.7M103.8 1113.3 108.9 1113.5 114 1113.7 119.1 1114 124.3 1114 129.4 1114 134.5 1114.1 139.6 1113.8 144.7 1113.5 149.8 1113.1 154.9 1113.4 160.1 1113.6 165.2 1113.8 170.3 1113.9 175.4 1114.1 180.5 1114.2 185.6 1115.9 190.8 1117.7 195.9 1119.4 195.9 1121.6 193.8 1126.2 191.6 1130.9 189.5 1135.6 192.1 1140.8 194.6 1146.1 196.9 1149.8 200.6 1151.9 205.9 1154 211.2 1156 216.3 1156 221.4 1156.1 226.6 1156.2 231.7 1156.1 236.8 1156.1 241.9 1156.1 247 1156.2 252.1 1156.3 257.2 1156.4 262.4 1156 267.5 1155.5 272.6 1155.1 276.6 1153 280.7 1150.9 284.3 1147.9 287.9 1144.9 293.1 1141.8 298.2 1138.7 303.3 1135.7 306.1 1134.7 311.1 1132.8 316.1 1131 321.2 1130 326.3 1129.7 331.4 1129.5 336.4 1130.9 341.2 1134 345.5 1136.9 349.3 1139.4 354.4 1140.5 359.5 1141.6 364.7 1142.7 369.8 1143.2 374.9 1143.8 380 1144.3 385.1 1145.6 390.2 1147 395.4 1148.3 399.3 1150 403.6 1152.3 408.3 1155.1 412.2 1158.5 415.3 1162.4 418.3 1166.3 420.6 1171.4 422.8 1176.5 425 1181.6 428.2 1184.6 432.6 1188.2 437 1191.8 441.4 1195.4 444.3 1190.8 447.3 1186.2 450.2 1181.6 454.6 1178.4 458.5 1178.4 462 1181.6 465.1 1186.7 468.2 1191.9 471.3 1197 473.8 1200.2 477.3 1205 480.7 1209.9 484.1 1213.7 487.4 1216.5 492.5 1215.9 497.7 1215.3 502.8 1214.7 507.9 1217.4 513 1220.2 518.1 1223 521.7 1226.1 525.5 1229.1 529.5 1232.1 533.5 1235 537.7 1238.2 541.9 1241.4 545.6 1244.3 548.8 1246.8 553.9 1248.9 559 1250.9 564.1 1253 569.3 1252.3 574.4 1251.5 579.5 1250.8 584.6 1251.1 589.7 1251.4 594.8 1251.8 598.8 1255.1 602.8 1258.4 606.5 1261.5 610.2 1264.6 615.3 1263.3 620.4 1262 625.5 1260.7 630.6 1261.6 635.8 1262.5 640.9 1263.4 646 1264.5 651.1 1265.6 656.2 1266.7 661.3 1268.2 666.5 1269.7M706.1 1287.8 709.9 1290.5 713.8 1293.4 717.6 1296.3 722.7 1295 727.8 1293.7 732.9 1292.4 737.1 1289.1 741.6 1286 746.1 1283 750.8 1280.6 756 1279 761.1 1277.3 766.2 1276.1 771.3 1275.3 776.4 1274.5 779.7 1273.7 783.9 1269.9 788.1 1266.1 792.2 1262.4 796.4 1259.4 799.5 1255.8 801.3 1250.7 803.1 1245.6 802.6 1240.5 799.7 1235.4 796.7 1230.2M798.2 1191.9 799.7 1186.7 801.1 1181.6 804.5 1177.8 808 1173.9 812.2 1172.1 817.3 1172.2 822.5 1172.3 825.8 1174.7 827.2 1179.3 828 1184.2 828.1 1189.3 828.2 1194.4M817.8 1230.2 814.9 1235.4 812 1240.5 810.7 1245.6 810.9 1250.7 811.2 1255.8 810.5 1260.5 808.1 1264.9 804.9 1269.3 801.8 1273.7 801.9 1278.9 802 1284 802.1 1289.1 799 1293.7 795.9 1298.3 792.9 1302.5 790 1307 787.1 1312.1 784.2 1317.2 780.8 1321.6 776.8 1325.1 772.5 1328.4 768.2 1331.8 763.8 1335.1 761.1 1336.5 756 1338.9 750.8 1341.3 746.1 1344.1 741.7 1347.3 737.3 1350.5 735.1 1355.6 732.9 1360.6 727.9 1363.2 722.9 1365.8M993.8 1106.6 993.8 1103.1 993.8 1106.6M1024.5 1076 1024.5 1072 1024.5 1076M1070.5 1033.9 1065.3 1031 1060.1 1028.1 1065.3 1027 1070.5 1026 1075.5 1027 1080.5 1028.1 1075.5 1031 1070.5 1033.9M294.1 797.8 298.7 800.5 303.3 803.2 308.4 801.5 313.5 799.7 318.6 797.9 318.6 797.4 314.2 794.5M295.9 795.7 294.1 797.8M825 1322.4 821.8 1319.8 825 1316.8 827.6 1319.8 825 1322.4M1638.3 1312.4 1633.2 1312.5 1628.1 1312.6 1623 1312.6 1618.1 1315 1613.2 1317.4 1608.4 1319.8 1605.1 1321.2 1599.9 1322.8 1594.8 1324.5 1590.3 1327 1586.5 1330.3 1582.6 1333.5 1578.8 1335.8 1574.5 1335.8 1569.9 1333.7 1565.7 1330.7 1561.6 1327.7 1559.3 1322.4 1557.6 1317.2 1556.5 1312.1 1555.4 1307 1556.5 1302.3 1559.9 1297.9 1563.6 1293.5 1567.5 1289.1 1564.6 1284.9 1561.6 1280.7 1556.5 1280 1551.3 1279.3 1546.2 1278.7 1543.5 1273.7 1539.3 1269.7 1535.1 1265.6 1530.9 1261.5 1526.5 1258.4 1522.9 1254.6 1519.2 1250.9 1515.5 1247.1 1511.1 1244.4 1510.2 1240.6 1512.9 1235.8 1515.5 1231 1517.9 1227.7 1515.5 1224.8 1511.8 1226.7 1507.5 1228.7 1502.6 1230.8 1498.7 1230.4 1495.6 1227.7 1491.3 1224.9 1487 1222.2 1482.3 1221.7 1477.2 1223.4 1472.1 1225.1 1467.5 1227.7 1464.4 1232.1 1461.3 1236.5 1458.2 1240.8 1454.2 1244.3 1449.6 1243.4 1445.2 1241.8 1440.9 1239.3 1438 1235.5 1436.3 1230.3 1433.8 1225.8 1430.4 1221.9 1426.9 1218.1 1423.5 1214.2 1418.4 1213.7 1413.2 1213.1 1408.1 1212.6 1403 1213.5 1397.9 1214.5 1392.8 1215.5 1387.7 1216.2 1382.5 1216.9 1377.4 1217.6 1372.3 1218.9 1367.2 1220.3 1362.1 1221.6 1357 1221.3 1351.9 1221 1346.7 1220.6 1341.6 1219 1336.5 1217.4 1331.4 1215.8 1327 1213.5 1322.7 1210.9 1318.3 1208.1 1313.5 1205.4 1308.4 1202.8 1303.3 1200.2 1298.5 1197 1295.6 1191.9 1292.7 1186.7 1289.8 1181.6 1289.7 1176.5 1289.6 1171.4 1289.5 1166.3 1286.7 1161.4 1283.9 1156.9 1280.9 1152.9 1279 1148.4 1278.3 1143.2 1277.7 1138.1 1276.8 1133 1275.9 1127.9 1275 1122.8 1273 1118.1 1270 1113.8 1267.7 1109.3 1265.4 1104.9 1264.2 1099.7 1262.9 1094.6 1261.6 1089.5 1258.2 1086 1254.7 1082.4 1249.6 1080.1 1244.4 1077.7 1239.3 1075.4 1237.1 1071.6 1235 1066.5 1233 1061.4 1231.1 1056.2 1229.4 1051.1 1227.7 1046 1227.3 1040.9 1228.4 1035.8 1229.4 1030.7 1231.8 1026.5 1235.6 1023.2 1239.3 1019.9 1243.3 1017 1247.2 1014.2 1251 1010.8 1254.7 1006.9 1259.1 1010.8 1263.5 1014.1 1267.8 1016.9 1271.7 1016.5 1275.2 1012.7 1271.7 1008.5 1268.4 1004.6 1265.1 1001 1261.9 997.4 1257.1 993.9 1252.1 990.8 1247 988 1241.9 985.3 1237.3 982 1232 979.7 1226.7 977.4 1221.4 975.1 1216.3 972.9 1211.2 970.8 1206.5 968.2 1202.2 965.3 1197.8 962.5 1193.3 959.8 1188.2 957.9 1183.1 956.1 1178 954.3 1173 952.3 1168.6 950.3 1164.6 948.2 1160 946.1 1154.9 944 1149.8 941.8 1144.9 939.8 1140 937.9M1093.6 928.8 1088.4 928.7 1083.3 928.1 1078.2 927 1073.1 925.9 1068 925 1062.9 924.2 1057.7 923.4 1052.9 922.4 1048.3 921.2 1044 919.5 1039.8 917.3 1034.7 915.6 1029.6 913.9 1024.5 912.2 1019.4 911.9 1014.3 911.6 1009.2 911.3 1004 911.2 998.9 911 993.8 910.8 988.7 910.6 983.6 910.3 978.5 910.1 973.4 909.8 968.2 909.5 963.1 909.2 958 909.2 952.9 909.2 947.8 909.3 942.7 910.4 937.5 911.5 932.4 912.7 927.3 914.1 922.2 915.5 917.1 916.9 912.2 919.4 907.8 921.7 903.7 923.8 899.2 925.4 894.1 926.6 889 927.7 883.9 929.6 878.9 932.1 873.8 934.7 871 936.1 865.9 936.1 860.8 936.2 855.7 936.3 851.3 936 845.8 935.4 840.4 934.8 835.2 934.6 830.1 934.3 825 934.1 820.3 934.8 815.5 935.6 811.4 936.2 807.1 937.6 802 939.8 796.9 942 792.4 944.8 788.4 948.1 784.5 951.3 780.8 953.8 776.5 954.1 771.4 952.2 767.2 950.2 763.6 948.1 758.8 949.7 753.9 951.3 748.3 952.9 743.2 954.6 738.1 956.3 732.9 958 727.8 958.2 722.7 958.5 717.6 958.7 712.5 958.9 707.4 959.1 702.3 959.3 697.1 960.4 692 961.5 686.9 962.7 681.8 962.9 676.7 963.1 671.6 963.3 666.9 966.7 670 970.5 673.8 974.1 678.2 977.3 682.6 980.4 684.2 984.6 683 989.7 681.8 994.8 679.9 999.6 677.1 1004 674.4 1008.4 671.7 1012.7 674.4 1017.9 677.2 1023 680 1028.1 681.9 1033.2 683.9 1038.3 685.8 1043.4 688.6 1046.9 691.9 1050.9 695.2 1054.8 698.5 1058.8 702.3 1062.6 706 1066.5 709.8 1070.3 713.6 1074.2 715.6 1078.9 717.6 1083.7 719.2 1087.6 718.8 1090.4 715.9 1093.3 712.4 1097.1 708.9 1101 705.4 1104.9 702.3 1107.3 697.9 1110.6 693.5 1114 689.1 1117.3 685.5 1119.6 681.5 1121.7 676.5 1124.8 671.6 1127.8 666.5 1128 661.3 1128.1 656.2 1128.2 651.1 1126.1 646 1124 640.9 1121.9 636.1 1119.1 630.8 1117 625.5 1114.9 620.4 1113 615.3 1111 610.2 1109.1 607.1 1104.9 605.9 1099.7 604.8 1094.6 603.7 1089.5 602.5 1084.4 601.2 1079.3 600 1074.2 597.9 1069.3 595.9 1064.5 594 1060.4 592.1 1056.2 590 1051.1 587.9 1046 585.6 1040.9 583.2 1035.9 580.7 1030.9 579.3 1028.1 576 1023.7 572.7 1019.3 569.3 1014.9 565.9 1011.2 562 1008 557.6 1004.8 553.2 1001.6 548.8 998.4 545.2 996 540.5 993.2 535.8 990.4 530.9 988.1 525.8 986.1 520.7 984.1 516.7 982 512.1 979.1 507.4 976.1 502.8 973.2 498.1 970.6 493.5 968 489.3 965.5 484.9 964 479.8 963.3 474.6 962.6 469.5 961.8 464.4 961 459.3 960.2 454.2 959.2 449.1 958 443.9 956.8 438.8 955.6 433.7 954.2 428.6 952.9 424.3 951.8 420.1 950.8 415.4 949.7 410.7 948.6 405.6 947.5 400.5 946.4 395.4 945.3 390.2 942.8 385.1 940.4 380 937.9 376.8 936 371.9 934 367.1 932.1 362.1 929.7 357 926.7 351.9 923.8 347.5 921.5 343.4 919.6 338.7 917.6 334 915.6 329.8 912.2 325.6 908.7 321.5 905.3 318.6 902.7 314.7 899 310.8 895.4 306.9 891.7 303.3 887.7 299.3 883.9 295.4 880.2 291.4 876.4 287.9 873.8 282.8 873.1 277.7 872.4 272.6 871.8 267.5 871.7 262.4 871.7 257.2 871.7 252.1 872.1 247 872.5 241.9 872.8 236.8 873.4 231.7 873.9 226.6 874.5 225.4 869.4 224.2 864.3 223 859.2 224.4 854.4 225.8 849.5 226.9 845.5 226.6 843.2 221.4 840.3 216.3 837.5 211.2 834.6 207.1 830.5 203.5 826.4 200.4 822.1 197.4 817.8 194.8 814.4 193 810.6 191.4 805.5 189.9 800.4 188.8 795.2 188.2 790.1 187.6 785 186.8 779.9 185.7 774.8 184.7 769.7 182.9 765.5 180.5 762.3 175.4 760 170.3 757.7 165.2 755.5 160.1 754.6 154.9 753.8 149.8 753 145.8 750 141.3 746.6 136.7 743.2 132.7 739.8 129.2 736.4 126.2 731.3 123.2 726.2 120.1 721 117.6 717.3 114.4 712.6 111.3 708 109.3 703.1 108.6 698 107.9 692.9 107.3 687.8 106.8 682.7 106.3 677.5 105.6 672.1 104.7 666.4 103.8 660.7M871 1291.6 868.4 1289.1 871 1286.6 873.6 1289.1 871 1291.6M1524.4 1212.3 1528.7 1216 1533.1 1216 1537.4 1212.3 1541.8 1208.8 1546.2 1205.3 1551.3 1205.1 1556.5 1204.8 1561.6 1204.6 1564.9 1200.8 1568.2 1197M1538.6 1175.4 1533.4 1175.2 1528.3 1175.3 1523.2 1175.7 1518.1 1176.2 1513.6 1178.2 1509.7 1181.6 1512.6 1185.7 1515.5 1189.8 1518.3 1193.4 1521 1197 1522.2 1202.1 1523.3 1207.2 1524.4 1212.3M947.8 1127.9 943.9 1124 940.1 1120.2 945.2 1119.4 950.3 1118.3 955.4 1117 960.6 1115.7 964.8 1116.8 968.3 1120.2 964.8 1123.7 960.6 1125.8 955.4 1126.7 950.3 1127.5M993.8 1110 990.3 1106.6 990.3 1103.1 993.8 1099.5 997.3 1103.1 997.3 1106.6 993.8 1110M1009.2 1091.8 1006.9 1089.5 1009.2 1087 1011.6 1089.5 1009.2 1091.8M1315.4 1089.5 1317.4 1089.5 1323 1088.3 1328.6 1087 1333.6 1084.7 1337.9 1081.2 1342.2 1077.7 1346.5 1074.2 1347 1074.2 1352 1076.3M1395.3 1078.5 1400.5 1077.2 1405.6 1075.9 1409.3 1074.2 1412.2 1069 1415.1 1063.9 1418 1058.8 1413.1 1056 1408.1 1053.1 1403 1054.1 1397.9 1055.1 1392.8 1056.1 1387.7 1054.8 1382.5 1053.6 1377.4 1052.3 1372.3 1052 1367.2 1051.7 1362.1 1051.4 1357 1051.4 1351.9 1051.5 1346.7 1051.5 1341.6 1051.2 1336.5 1050.9 1331.4 1050.6 1327.2 1047 1322.9 1043.4 1318.4 1039.6 1314 1039.2 1309.9 1042 1306 1045.2 1302.5 1048.6 1298.9 1052.5 1295.2 1056.7 1295.2 1060.7 1298.9 1064.5 1302.4 1068.4 1305.8 1072.2 1308.8 1076.7 1311.5 1081.8 1314.1 1086.9M1024.5 1079.7 1020.8 1076 1020.8 1072 1024.5 1067.8 1028.5 1072 1028.5 1076 1024.5 1079.7M1055.2 1045.3 1050.8 1043.4 1047.2 1039.6 1043.5 1035.7 1039.8 1031.9 1037.2 1028.1 1039.8 1025.9 1045 1023M1090.4 1025.9 1091.3 1030.7 1090.7 1035.8 1090.2 1040.9 1088.6 1045.4 1085.9 1049.2 1080.8 1049.4 1075.7 1049.6 1070.5 1049.9 1065.4 1048.3 1060.3 1046.8 1055.2 1045.3M1224 1013.2 1224 1012.5 1224 1013.2M655.2 982 658.2 982 655.2 982M103.8 976.5 107.7 979.2 111.5 982 115.3 985.3 119.1 988.6 124.3 987.7 129.4 986.7 134.5 985.8 137.7 990.4 140.9 995.1 144.4 999 148 1002.2 152.4 1004.2 157.5 1004.9 162.6 1005.6 167.1 1007.6 170.9 1011 174.7 1014.7 178.6 1018.7 182.3 1022.5 185.7 1026.2 187.4 1030.7 187.3 1035.8 187.2 1040.9 186.3 1046 184.5 1051.1 182.8 1056.2 184.2 1059.8 188.9 1061.7 193.5 1063.7 198.2 1063.5 202.8 1061.1 207.4 1058.8 211.2 1055.7 216.3 1055.5 221.4 1055.2 226.6 1054.9 231.7 1054.3 236.8 1053.7 241.9 1053.1 247 1054.7 252.1 1056.3 257.2 1057.9 257.2 1060.2 254.8 1064.8 252.4 1069.5 250 1074.2 250.4 1079.3 250.7 1084.4 251 1089.5 255.2 1093.6 259.8 1095.6 264.9 1095.6 270 1095.6 275.2 1095.2 280.3 1094.6 285.4 1093.9 290.4 1092.6 295.4 1090.5 299.7 1088.5 303.3 1086.4 308.4 1085 313.5 1083.6 318.6 1082.2 323.7 1082.1 328.9 1082 334 1081.8 339.1 1081.9 344.2 1082.1 349.3 1082.2 354.4 1082.6 359.5 1083.1 364.7 1083.5 369.6 1085.5 374.6 1087.5 379.6 1089.5 382.6 1091 387.7 1093.5 392.8 1096.1 397.6 1098.8 402.1 1101.8 406.5 1104.9 410.7 1108.1 415.8 1110.3 420.9 1112.4 426 1114.6 430.7 1118.3M472.1 1130.7 477.2 1131.3 482.3 1132 487.4 1132.6 492.1 1134.1 496.8 1135.6 500.8 1137.1 505.3 1138.9 510.4 1140.9 515.6 1143 520.7 1144.8 525.8 1146.6 530.9 1148.3 536 1149.2 541.1 1149.5 546.2 1149.8 551.3 1150.2 556.3 1150.9 561.5 1152.1 566.7 1153.7 571.8 1155.7 576.9 1157.8 582.1 1158.8 587.2 1158.9 592.3 1158.9 597.4 1159.4 602.5 1160.5 607.6 1161.6 611.8 1163.5 615.1 1166.3 617.3 1171.4 619.5 1176.5 621.7 1181.6 620.9 1186.7 620 1191.9 619.1 1197 620.6 1202.1 622.1 1207.2 623.6 1212.3 625.5 1215.4 628.5 1219.5 631.5 1223.6 634.4 1227.7 638.7 1230.5 643.4 1232.1 648.5 1232.6 653.7 1233.1 658.8 1233.4 663.9 1233.5 669 1233.7 674.1 1233.8 679.2 1233.8 684.4 1233.8 689.6 1232.6 695 1230.1 700.4 1227.7 704.8 1225.4 709.9 1223.5 715 1221.6 720.2 1220.6 725.3 1220.3 730.4 1220.1 735.5 1220 740.6 1220.1 745.7 1220.1 750.8 1220.1 756 1219.9 761.1 1219.7 766.2 1218.9 771.3 1217.5 776.4 1216.1 779.8 1213.8 780.1 1210.3 779 1206.4 776.1 1201.7 773.3 1197 776.1 1193.4 779 1189.9 780.8 1185.8 782.7 1181.6 785.5 1177.2 788.3 1172.8 791.1 1168.5 792.4 1163.7 792.2 1158.6 792 1153.5 792.5 1148.3 793.7 1143 796.9 1139.8 802 1138.9 807.1 1138 811.6 1139.8 815.4 1144.2 819.3 1148.7 823.1 1152.9 825.9 1157.1 827.7 1161.7 829.4 1166.3 830.7 1171.4 832.1 1176.5 833.4 1181.6 833.3 1186.7 833.3 1191.9 833.2 1197 833.4 1202.1 833.6 1207.2 833.7 1212.3 832.5 1217.4 831.2 1222.6 830 1227.7 826.7 1231.6 823.3 1235.9 819.9 1240.7 818.2 1245.6 818.2 1250.7 818.2 1255.8 817.4 1260.9 815.7 1266.1 814 1271.2 812.9 1276.3 812.4 1281.4 811.8 1286.5 810.6 1290.8 808.1 1294.9 804.9 1299.7 801.7 1304.4 798 1308.7 794.3 1313 791.5 1317.5 788.2 1321.6 784.5 1325.2 780.8 1328.7 777 1332.1 773 1335.1 768.3 1338.8 763.6 1342.5 759 1345.7 754.3 1348.9 750.7 1353 748.3 1357.9 746 1361.9 743.7 1365.8M356.3 905.3 360.5 909.4 364.7 913.4 366.9 909.4 369.2 905.3 370 900.2 370.8 895 371.7 889.9 368.9 885.9 366.1 881.9 362.1 881.1 357 883.4 351.9 885.8 347.9 888.5 347.9 892 350.7 896.3 353.5 900.8 356.3 905.3M174.8 874.6 176.7 873.3M213.7 873.4 218.8 873.9 223.8 874.3 223.8 875.6 218.8 877.7M103.8 838.8 108.9 839 114 839.2 119.1 839.3 124.3 839.7 129.4 840.1 134.5 840.5 139.6 840.6 144.7 840.7 149.8 840.8 154.6 843.9 158.8 847.1 163.1 850.4 167.1 853.8 171 857.4 171.4 861.2 168.3 865.3 165.2 869.3 160.1 868 154.9 866.6 149.8 865.3 144.7 864 139.6 862.6 134.5 861.3 130.8 859.2 126.1 855.6 121.5 852 116.6 850.1 111.5 849.9 106.4 849.8M1594.6 1365.8 1592.3 1363.6 1587.9 1360.8 1583.5 1357.9 1579.1 1355.1 1575.8 1352.1 1572 1349.2 1566.8 1346.5 1561.6 1343.9 1556.9 1340.4 1552.3 1336.9 1548.7 1333 1546.2 1328.8 1543.6 1324.3 1541 1319.8 1540 1314.7 1539.1 1309.6 1538.2 1304.4 1538.4 1299.3 1538.6 1294.2 1538.8 1289.1 1535.6 1284.8 1532.5 1280.5 1529.4 1276.8 1526.4 1273.7 1522.1 1270.2 1517.7 1266.7 1513 1265.5 1507.9 1266.5 1502.8 1267.6 1498.1 1269.5 1494 1272.3 1490.2 1275.3 1486.6 1278.5 1482.3 1280.8 1477.2 1282.5 1472.1 1284.1 1467.3 1283.4 1462.9 1280.3 1458.5 1277.2 1454.2 1274.1 1451.6 1271.8 1447.4 1267.9 1443.1 1263.9 1438.8 1260 1435.1 1256.7 1431.2 1253.3 1427.3 1249.8 1423.5 1246.4 1419.5 1243 1415.7 1239.1 1411.9 1235.2 1408.1 1231.3 1403 1231.1 1397.9 1230.8 1392.8 1230.5 1387.7 1231.1 1382.5 1231.7 1377.4 1232.3 1372.3 1232.9 1367.2 1233.4 1362.1 1233.9 1357 1233.2 1351.9 1232.5 1346.7 1231.8 1342.5 1229 1338.1 1226.6 1333.6 1224.5 1328.8 1222.3 1323.7 1219.9 1318.6 1217.5 1313.5 1215 1308.4 1212.3 1303.3 1209.8 1298.6 1206.6 1294.3 1202.8 1290 1198.9 1286.6 1195.1 1283 1194 1278.1 1195.5 1273.3 1197 1270 1197.8 1264.4 1197.5 1258.9 1197.1 1254.7 1196.6 1253.2 1191.6 1251.7 1186.6 1250.2 1181.6 1248.4 1176.5 1246.6 1171.4 1244.8 1166.3 1242.1 1162.2 1239.3 1158.2 1237 1153.3 1235.6 1148.4 1235 1143.2 1234.4 1138.1 1232.7 1133.4 1229.8 1129.1 1226.9 1124.7 1224 1120.4 1222.2 1118 1218.9 1113.6 1215.6 1109.2 1212.3 1104.9 1208.6 1101 1204.8 1097.2 1200.9 1093.3 1197.1 1089.5 1196.9 1084.4 1196.8 1079.3 1196.7 1074.2 1197.1 1069 1197.4 1063.9 1197.8 1058.8 1201.4 1054.3 1205 1049.8 1208.6 1045.3 1208.6 1041.2 1206 1036.9 1203.3 1032.5 1200.6 1028.1 1196.9 1024.2 1193.3 1020.4 1188.2 1018.4 1183.1 1016.4 1178 1014.5 1172.6 1012.7 1174.7 1007.7 1176.9 1002.6 1179.1 997.4 1182.6 993 1186.1 988.6 1189.6 984.2 1189.1 980.3 1184.6 976.7 1180.2 973.2 1175.4 970.6 1170.3 969.1 1165.3 967.5 1162.6 966.6 1157.5 964.1 1152.4 961.5 1147.3 959 1142.1 956.6 1137 954.3 1131.9 952 1127.9 951.3 1122.3 950.1 1116.6 948.9 1111.5 948.3 1106.3 947.8 1101.2 947.2 1096.1 946.4 1091 945.6 1085.9 944.9 1080.8 943.7 1075.6 942.5 1070.5 941.4 1065.4 940.4 1060.3 939.4 1055.2 938.4 1049.4 937.2 1043.6 936 1039.8 935 1034.7 933.7 1029.6 932.4 1024.5 931.2 1019.4 931.5 1014.3 931.8 1009.2 932.1 1004 932.5 998.9 932.9 993.8 933.3 988.7 932.9 983.6 932.5 978.5 932.1 973.4 932.8 968.2 933.4 963.1 934 960.1 936 958.4 941.1 956.7 946.2 955 951.3 956.1 956.4 957.2 961.6 958.3 966.7 956 971.8 953.6 976.9 951.3 982 947.8 985.2 943.8 988.7 939.7 992.2 935.7 995.6 932.4 999.2 931.3 994.8 930.3 989.7 929.3 984.6 926.9 979.9 923 975.6 919 971.4 914.5 968 909.3 965.2 904.3 962.1 899.2 959.9 894.1 958.6 889 957.3 883.8 956.6 878.7 956.3 873.6 956.1 868.5 956 863.4 956.1 858.3 956.2 853.1 956.5 848 957 842.9 957.6 837.8 958.6 832.7 960.1 827.6 961.7 822.8 963.5 818.5 965.6 814.1 967.3 809.7 968.7 804.6 970.1 799.4 971.5 794.3 972.9 789.2 975.6 784.1 978.2 779 980.9 774 982.9 768.8 984.7 763.6 986.5 758.5 989.4 753.4 992.4 748.3 995.3 745.6 999.9 744.6 1005.1 743.5 1010.2 743.4 1015.3 744.2 1020.4 745 1025.5 746.9 1030.2 749.2 1035.1 751 1040.7 753.3 1046 756.1 1051.1 758.9 1056.2 762 1060.6 765.9 1064.4 770.4 1068.3 774.9 1072.2 779 1076.4 782.6 1080.1 786.3 1083.9 789.9 1087.6 794.3 1091 798 1094.9M825 1129.6 828.4 1133.6 830.5 1138.1 831.2 1143.2 832 1148.4 833 1153.5 834.4 1158.6 835.7 1163.7 836.7 1168.8 837.6 1173.9 838.4 1179.1 838.7 1184.2 838.5 1189.3 838.3 1194.4 838.7 1199.6 839.5 1204.7 840.4 1209.9 844.1 1212.3 841.6 1215.8 840 1220.1 839.3 1225.1 837.2 1229.9 833.6 1234.3 830.1 1238.6 826.5 1243 826.1 1248.1 825.7 1253.3 825.4 1258.4 824.4 1262.3 823 1268 821.7 1273.7 821.1 1278.9 820.4 1284 819.8 1289.1 817.2 1294.2 814.6 1299.3 812 1304.4 809.7 1307.3 806.2 1311.4 802.7 1315.6 799.2 1319.8 796 1323 792.5 1326.4 788.8 1329.9 785.1 1333.4 781.1 1337 776.8 1340.4 772.4 1343.5 768 1346.6 763.6 1349.7 761.1 1353.1 758.4 1358.2 755.6 1363.3M825 1327.5 821.1 1324.4 817.3 1321.3 817.3 1318 821.1 1314.5 825 1310.9 828.9 1315.4 832.8 1319.8 828.9 1323.7 825 1327.5M871 1296.8 867 1292.9 863 1289.1 867 1285.3 871 1281.5 874.8 1285.3 878.6 1289.1 874.8 1292.9 871 1296.8M917.1 1231.2 912.9 1227.7 917.1 1223.5 920.5 1227.7 917.1 1231.2M932.4 1215.7 928.3 1212.3 932.4 1208.4 935.8 1212.3 932.4 1215.7M871 1207.7 867.1 1204.1 863.2 1200.6 859.2 1197 862.1 1191.9 864.9 1186.7 867.8 1181.6 867.9 1176.5 867.9 1171.4 868 1166.3 868 1161.1 868 1156 867.9 1150.9 864.4 1146.7 860.9 1142.4 857.5 1138.2 855.3 1135.6 858.3 1134.1 863.4 1132.3 868.5 1130.5 873.2 1127.7 877.4 1124 881.6 1120.2 884 1116.3 886.4 1112.3 889.5 1116.3 892.5 1120.2 893.3 1125.3 894 1130.4 894.7 1135.6 893.1 1140.7 891.5 1145.8 889.8 1150.9 888.5 1156.7 887.1 1162.5 885.4 1166.3 883.8 1171.4 882.2 1176.5 880.7 1181.6 884.5 1185.4 887.8 1189.7 890.6 1194.5 890.1 1199.1 886.4 1203.2 881.3 1204.7 876.2 1206.2 871 1207.7M947.8 1200.4 943.9 1197 947.8 1193.3 951.2 1197 947.8 1200.4M901.7 1182.4 901.7 1181.4 901.7 1182.4M707 1135.6 710.6 1139.3 714.1 1143.1 717.6 1146.9 722.7 1144.1M731.9 1125.4 730.9 1120.2 726.5 1117.1 722 1113.9 717.6 1110.8 713.1 1114.6 708.6 1118.3 706.5 1122.8 706.7 1127.9 706.9 1133M947.8 1140.4 944.5 1137.2 940.8 1133.5 936.6 1129.3 932.4 1125.1 929 1121.8 929 1118.7 932.4 1115.7 937.5 1115.2 942.7 1114.7 947.8 1114.2 952.9 1113.3 958 1112.5 963.1 1111.6 966.6 1115 970 1118.5 970 1121.9 966.6 1125.4 963.1 1128.9 958.7 1131.6 954.3 1134.2 950.7 1137.2 947.8 1140.4M526.6 1104.9 530 1108.1 533.5 1111.4 538.6 1112.8 543.7 1114.2 548.8 1115.6 553.9 1113.8 559 1112 564.1 1110.2 568.6 1106.6 573 1102.8 577.3 1098.7 580.9 1094.9 583.7 1091.3 585 1086.9 584.8 1081.8 584.6 1076.7 584 1071.6 583 1066.5 582 1061.4 580.8 1056.3 579.5 1051.4 577 1047.4 574.6 1043.4 571.9 1038.3 569.3 1033.2 566.6 1028.1 564.1 1024.3 560.7 1020.5 557.2 1016.6 553.7 1012.7 548.8 1009.5 544.6 1006.1 540.4 1002.6 536.1 999.1 533.5 997.1 528.3 995.9 523.2 994.8 518.1 993.7 514 990.3 509.8 987 505.7 983.7 502.8 981.5 497.7 979.7 492.5 977.9 487.4 976.1 482.3 974.9 477.2 973.6 472.1 972.4 467 972 461.8 971.5 456.7 971.1 451.6 969.9 446.5 968.7 441.4 967.4 436.3 967.8 431.2 968.3 426 968.7 423.4 973.1 420.7 977.6 418 982 414.3 985.3 410.7 988.5 407.3 992 404 995.6 401.7 999.9 400.5 1005.1 399.4 1010.2 397.7 1014.6 395.4 1018.2 392 1022.2 388.6 1026.1 387.2 1030.7 387.7 1035.8 388.2 1040.9 390.2 1045.3 393.6 1049 397.3 1052.9 401.1 1056.8 405 1060.3 408.8 1063.4 413.3 1065.6 418.4 1066.9 423.5 1068.1 428.6 1069.4 433.7 1070.7 438.8 1072 443.8 1073.4 448.8 1075.1 454.1 1077 459.3 1078.5 464.4 1079.6M505.5 1085.7 511 1087.6 516.5 1089.5 519.5 1093.3 522.3 1097.9 525.2 1102.5M993.8 1113.5 990.3 1110 986.8 1106.6 986.8 1103.1 990.3 1099.5 993.8 1096 998 1092.8 1002.3 1089.5 1005.7 1085.8 1009.2 1082.1 1012.2 1078.1 1015.2 1074.2 1018.9 1069.9 1022.6 1065.7 1026.5 1065.7 1030.5 1069.9 1034.5 1074.2 1030.5 1077.8 1026.5 1081.5 1022.5 1084.9 1018.4 1088 1014.6 1091.2 1011 1094.6 1007.5 1098.4 1004.2 1102.7 1000.8 1106.6 997.3 1110 993.8 1113.5M1116.6 1059 1116 1056.2 1115.1 1051.1 1114.2 1046 1114.4 1041 1115.5 1036.1 1116.6 1031.2 1117.9 1028.1 1122.6 1024.6 1127.2 1021.1 1131.9 1017.6 1137 1019.7 1142.1 1021.8 1147.3 1023.9 1148.8 1028.1 1153.4 1031.8 1158 1035.4 1162.6 1039.1 1165.9 1043.4 1165.7 1048.6 1165.6 1053.7 1165.4 1058.8 1162.6 1061.3 1157.5 1064.1 1152.4 1067 1147.3 1069.9 1142.1 1068.7 1137 1067.5 1131.9 1066.3 1126.8 1063.8 1121.7 1061.4 1116.6 1059M917.1 1043.5 917.1 1043.4 921.2 1039 925.2 1034.6 929.3 1030.3 932.4 1025.7M947.8 1033 943.7 1036.5 939.6 1039.9 935.5 1043.4 932.4 1044.4 927.3 1044.1 922.2 1043.8 917.1 1043.5M1039.8 1050.7 1035.1 1048.3 1030.4 1045.9 1025.7 1043.4 1023.5 1038.8 1021.6 1033.5 1019.7 1028.1 1021.6 1023.7 1023.5 1019.3 1026.7 1015.6 1031 1012.7 1035.4 1011.6 1039.8 1010.4 1045 1008.9 1050.1 1007.4M1093 1011 1095.7 1015.3 1096.6 1020.4 1097.4 1025.5 1097.5 1030.7 1097.1 1035.8 1096.6 1040.9 1094.9 1045.6 1091.9 1049.8 1088.9 1054.1 1085.9 1058.4 1080.8 1058.5 1075.7 1058.6 1070.5 1058.7 1065.4 1058.1 1060.3 1057.4 1055.2 1056.7 1050.1 1054.7 1045 1052.7 1039.8 1050.7M357.3 966.7 361 969.9 364.7 973.2 369.4 970.6 374.2 968 375.1 964.1 372 959 369 953.9 366.1 950.4M328.9 946.4 325.5 951.3 329.7 954.8 334 958.2 339.1 959.2 344.2 960.3 349.3 961.3 353.3 964 357.3 966.7M103.8 941.4 108.9 941.5 114 941.6 119.1 941.7 123.2 938.8 127.2 936 127 930.9 126.7 925.7 126.5 920.6 126.5 915.5 126.4 910.4M108.9 871.8 106.4 871.2 103.8 870.6M357.7 889.9 360.5 894.5 363.3 899.1 365.3 898.5 366.7 892.8 366 888 362.3 887.3 357.7 889.9M103.8 818.9 108.9 819.2 114 819.5 119.1 819.7 124.3 820.7 129.4 821.6 134.5 822.5 139.6 822.6 144.7 822.7 149.8 822.8 154.9 825.1 159.9 827.4 163.8 829.4 167 832.2 170.7 836.1 174.5 840 178.2 843.9 180.5 846.1 185.6 849 190.8 852 195.9 854.9 201 856.7 206.1 858.4 211.2 859.4 211.5 856.7 211.7 851.5 211.8 846.4 211.2 843.5 207.4 839.7 203.6 836 199.8 832.3 196 828.5 194 826.1 190.2 821.8 186.4 817.5 182.6 813.2 182.7 808 182.8 802.9 183 797.8 182.6 792.7 182.3 787.6 181.9 782.5 181 778.3 179.2 774 176.5 769.4 172.6 765.9 167.7 763.5 162.6 761.8 157.5 760.9 152.4 760 147.6 758 143 754.9 138.4 751.8 134.5 748.8 130.2 744.6 126 740.5 121.8 736.4 119.1 731.8 115.9 727.5 112.7 723.2 110 718.5 107.6 713.4 105.3 708.3 104 704.1M1536.2 1365.8 1530.9 1364.3 1525.8 1361.5 1520.7 1358.6 1515.5 1355.8 1511.6 1352.3 1508 1348.3 1504.9 1343.8 1501.8 1339.4 1498.5 1335.1 1495.6 1330 1492.7 1324.9 1489.8 1319.8 1486.5 1314.8 1482.8 1310.8 1478.6 1307.6 1474.5 1304.4 1469.5 1302.5 1465.1 1299.2 1460.7 1295.8 1456.4 1292.5 1452.1 1289.1 1447.7 1285.8 1443.2 1282.4 1438.8 1279.1 1434.9 1275.5 1431 1272.3 1427.3 1269.3 1423.5 1266.3 1418.4 1265.5 1413.2 1264.7M1372.3 1247.4 1367.2 1246.8 1362.1 1246.2 1357 1244.1 1351.9 1242.7 1346.7 1242.1 1341.6 1240.7 1336.5 1239.2 1331.4 1237.8 1327.1 1234.4 1322.9 1231.1 1318.6 1227.7 1313.5 1226.3 1308.4 1225.5 1303.3 1224.7 1298.5 1222.3 1294 1218.3 1289.6 1214.3 1285.4 1210.7 1280.3 1210.7 1275.1 1210.8 1270 1210.8 1264.9 1210.7 1259.8 1210.6 1254.7 1210.5 1250.3 1206.7 1246 1202.8 1241.6 1198.9 1239.3 1196.8 1236.2 1192.4 1233.1 1188.1 1230 1183.8 1228 1179.1 1227 1173.9 1226 1168.8 1224.8 1164.8 1222.2 1161.3 1218.6 1157.1 1215 1153 1213 1148.4 1212.6 1143.2 1212.2 1138.1 1210.8 1133.1 1208.6 1128.2 1205.4 1124.2 1202.3 1120.2 1198.7 1115.9 1195.1 1111.6 1191.9 1107.9 1189.1 1104.9 1185.9 1099.7 1182.8 1094.6 1179.7 1089.5 1179.4 1084.4 1179.1 1079.3 1178.8 1074.2 1176.6 1073.2 1173.2 1075.6 1169 1078.6 1164.7 1081.6 1160 1083.7 1154.9 1084.9 1149.8 1086.1 1144.7 1086.4 1139.6 1085.8 1134.5 1085.1 1129.4 1083.7 1124.2 1081.6 1119.1 1079.4 1114.6 1077 1110.8 1074.2 1107.6 1069.4 1104.4 1064.6 1101.2 1059.8 1096.8 1063.3 1092.5 1066.9 1088.1 1070.4 1083.3 1072.2 1078.2 1072.2 1073.1 1072.2 1068 1072 1062.9 1071.6 1057.7 1071.2 1052.6 1070.3 1047.5 1068.9 1042.4 1067.5 1039.4 1069.2 1038.5 1074.2 1034.5 1077.8 1030.5 1081.5 1026.5 1085.2 1022.9 1088.3 1019.2 1091.4 1015.2 1095.1 1011.2 1098.9 1007.6 1102.8 1004 1106.9 999.9 1110.9 995.8 1114.9 991.8 1114.9 987.7 1110.9 983.6 1106.9 983.6 1102.8 987.7 1098.7 991.8 1094.5 995.7 1091 999.6 1087.4 1003.4 1083.3 1007.2 1079.2 1010.3 1075.7 1013.3 1072 1017 1067.8 1020.8 1063.6 1024.5 1059.3 1028.5 1058.8 1024.5 1057.1 1020.1 1053.4 1015.7 1049.8 1011.3 1046.2 1007.9 1043.4 1005.3 1038.3 1002.7 1033.2 1000.2 1028.1 1003.8 1023.6 1007.4 1019.1 1009.9 1014.8 1012.6 1010.9 1016.6 1007.1 1020.5 1003.3 1024.5 999.5 1029.6 998.9 1034.7 998.3 1039.8 997.7 1043.8 996.3 1048.3 994.2 1052.9 992.1 1057.7 990.2 1062.9 988.8 1068 987.3 1073.1 986.9 1078.2 987.5 1083.3 988.2 1088 990.3 1092.1 993.9 1096.3 997.4 1101.2 999.8 1106.3 1000.9 1111.5 1002 1116.6 1003.2 1121.7 1001.7 1126.8 1000.2 1131.9 998.7 1137 998.7 1142.1 998.6 1147.3 998.6 1152.8 997.8 1157.3 995.7 1160.8 992.3 1163.7 988.5 1165.8 984.2 1164.7 981.5 1160 980.8 1154.9 980.7 1149.8 980.6 1145.3 978.5 1141.3 974.6 1137.3 970.6 1133.3 966.7 1129.4 965.8 1124.2 965.4 1119.1 965 1114 964.8 1108.9 964.6 1103.8 964.5 1098.7 964.2 1093.6 963.8 1088.4 963.5 1083.3 962.8 1078.2 961.8 1073.1 960.9 1068 959.1 1062.9 956.4M1024.5 947.9 1019.4 948 1014.3 948 1009.2 948.1 1004 948.2 998.9 948.4 993.8 948.6 988.7 949.2 983.6 949.7 978.5 950.2 977.1 953.9 976.7 959 976.4 964.1 976 969.2 975.6 974.4 975.2 979.5 973.3 984 969.9 987.9 966.5 991.7 963.1 995.6 962.1 998.6 964.9 1001.9 968.5 1006.2 972.2 1010.6 974 1015.3 974 1020.4 974 1025.5 972.2 1030.4 968.6 1034.9 964.9 1039.5 962.2 1043.4 958.1 1046.7 953.9 1050 949.8 1053.3 945.2 1055.5 940.1 1056.6 935 1057.7 929.8 1058.8 924.7 1061.4 919.6 1064 914.9 1063.7 910.7 1060.4 906.8 1056.9 903.4 1053.1 899.2 1050.5 894.1 1049 889 1047.6 884.8 1049.3 881.6 1054 878.4 1058.8 876.5 1063.9 874.5 1069 872.5 1074.2 871 1077.6 868.6 1082.4 866.1 1087.1 863.4 1091.7 860.3 1096.2 857.2 1100.7 854 1101 850.5 1097.2 847 1093.3 843.5 1089.5 845.3 1084.4 847 1079.3 848.8 1074.2 848.8 1069 848.8 1063.9 848.8 1058.8 851.5 1054.2 854.3 1049.5 857.5 1046 861.1 1043.4 865.1 1039.6 869.1 1035.7 872.7 1031.9 876.1 1028.1 881.2 1025.1 886.4 1022.2 890.7 1024.6 895 1026.9 898.7 1029.5 901.7 1032.4 905.8 1029.5 909 1025.5 911.2 1020.4 913.5 1015.3 915.8 1010.4 917.2 1005.4 917.5 1000.1 917.1 996.2 912 996 906.9 995.8 901.7 995.6 899.4 991.1 897 986.5 894.6 982 889.1 980.7 883.8 979.3 878.7 977.8 873.6 976.3 868.5 975.5 863.4 975.6 858.3 975.6 853.1 975.9 848 976.6 842.9 977.2 837.8 978 832.7 978.8 827.6 979.7 822.3 980.7 816.9 982 813.3 985.5 809.7 988.9 805.3 991.7 801 994.6 796.6 997.4 798 1002.5 799.5 1007.6 800.9 1012.7 800.6 1017.9 800.3 1023 800 1028.1 796.2 1032.2 792 1036.1 787.5 1039.8 782.9 1043.4 784.2 1048.6 785.5 1053.7 786.9 1058.8 791.8 1061.8 796.2 1065.4M818.7 1094.6 821.2 1099.7 823.8 1104.9 825 1108.1 829.4 1112.1 833.8 1116.2 838.2 1120.2 840.4 1125.2 841.9 1120.2 845.8 1115.9 849.8 1111.7 853.7 1107.4 858.3 1105.4 863.4 1105.6 868.5 1105.8 871.8 1104.9 876 1101 880.1 1097.1 884.3 1093.2 889 1092.8 894.1 1095.8 899.2 1098.9 902.9 1102.6 905.2 1107.4 907.6 1112.5 909.9 1117.7 911.3 1122.8 911.7 1127.9 912 1133 912.3 1138.1 912.3 1143.2 912.4 1148.4 914 1152.7 917.1 1156.2 920.1 1160.2 923.2 1164.3 925.2 1168.8 926.2 1173.9 927.1 1179.1 926.2 1183.8 923.4 1188.2 920.6 1192.6 917.7 1197 922.6 1198.2 927.5 1199.4 932.4 1200.6 936.1 1197 940 1193.3 943.9 1189.7 947.8 1186 951.9 1190.4 956 1194.8 956 1199 951.9 1203.1 947.8 1207.1 944.3 1210.6 940.6 1214.4 936.5 1218.5 932.4 1222.6 929 1226 925.3 1229.8 921.2 1233.9 917.1 1238.1 912.9 1234.6 908.8 1231.2 904.6 1227.7 908.8 1223.5 912.9 1219.4 917.1 1215.3 920 1212.3 918.9 1206.5 917.7 1200.7 914.9 1199.8 910.5 1203.7 906.1 1207.7 901.7 1211.6 899 1214 894.8 1217.5 890.6 1220.9 886.4 1224.4 881.3 1224.7 876.2 1224.9 871 1225.2 865.9 1225.6 860.8 1225.9 855.7 1226.3 852.7 1229.9 849.1 1234.3 845.6 1238.6 842 1243 839.8 1248 838.7 1253.2 837.6 1258.4 837.1 1263.5 836.6 1268.6 836.1 1273.7 835.5 1278.9 834.9 1284 834.3 1289.1 831.2 1293.1 828.1 1297.2 825 1301.3 823.9 1304.4 826.9 1307.1 830.6 1311.3 834.3 1315.6 838 1319.8 834.3 1323.5 830.6 1327.1 826.9 1330.8 822.5 1331.3 817.3 1328.5 812.2 1325.6 807.7 1326.1 803.8 1329.7 799.9 1333.3 796.1 1336.8 792.1 1340 787.7 1343.2 783.4 1346.4 779 1349.6 775.7 1352.7 771.7 1357 767.6 1361.4 763.6 1365.7M871 1301.9 867.2 1298.2 863.4 1294.6 859.6 1290.9 859.6 1287.3 863.4 1283.7 867.2 1280.1M873.1 1278.6 877.3 1282.8 881.5 1287 881.5 1291.2 877.3 1295.5 873.1 1299.8M1501.2 1289.1 1506.9 1290.6 1512.7 1292.2 1517.3 1291.7 1520.8 1289.1 1517.3 1285.3 1513.2 1284.4 1508.4 1286.2 1503.6 1288.1M1162.6 1253 1159.3 1248 1156 1243 1155.3 1237.9 1154.5 1232.8 1153.8 1227.7 1150.5 1222.7 1147.3 1217.8 1144.3 1214.2 1142.3 1209.8 1141.2 1204.6 1140.2 1199.5 1138.9 1194.4 1137.3 1189.3 1135.7 1184.2 1137.4 1180.4 1142.3 1177.9M1183.9 1195.1 1187.7 1198.8 1191.4 1202.6 1195.1 1206.4 1198.8 1210.4 1200.7 1214.9 1201 1220 1201.3 1225.1 1201.3 1230.2 1201 1235.4 1200.8 1240.5 1199.5 1245.3 1197 1249.9 1194.5 1254.6 1190.7 1255.9 1185.6 1254.1 1180.5 1252.2 1175.4 1251.6 1170.3 1252.1 1165.2 1252.7M947.8 1146.9 944 1143.1 940.2 1139.3 936.4 1135.6 932.4 1131.6 928.4 1127.8 924.4 1124 920.3 1120.2 924.4 1116.7 928.4 1113.3 932.4 1109.8 937.5 1109.7 942.7 1109.5 947.8 1109.4 952.9 1109 958 1108.6 963.1 1108.2 967.1 1112.2 971.2 1116.2 975.2 1120.2 971.2 1124.3 967.1 1128.3 963.1 1132.4 959.6 1134.5 956.2 1137.5 952.8 1141.2 949.5 1145M497.6 1058.8 502.8 1060.6 506.8 1059.4 511.1 1057.5 515.8 1054.9 520.7 1052.5 525.8 1050.4 530.9 1048.3 535 1045.3 536.8 1040.9 537.3 1035.8 537.8 1030.7 536.5 1026.5M495.1 1009 490 1008.3 485.8 1005.8 482.5 1001.6 479.2 997.4 476.4 993.1 473.5 988.8 469.5 987.4 464.4 988.9 459.3 990.4 454.7 992.7 450.8 995.8 446.9 999.3 443.2 1003 439.9 1006.8 436.8 1010.8 435.4 1015.3 435.5 1020.4 435.6 1025.5 437.6 1030.3 441.4 1034.6 446.1 1038.1 450.9 1041.7 455 1044.6 459.3 1046.5 464.4 1048.1 469.5 1049.8 474.6 1051 479.8 1051.7 484.9 1052.5 490 1054.4 495.1 1057.3M777.6 997.4 779 1002.1 783.9 999.8 788.9 997.4 783.9 997.1 779 996.7M103.8 793.1 108.9 794.3 114 795.4 119.1 796.6 123.1 797.8 128.8 799.3 134.5 800.8 139.6 802.1 144.7 803.4 149.8 804.7 154.9 803.7 160.1 802.7 165.2 801.7 168.4 797.8 169.5 792.7 170.7 787.6 171.9 782.5 169.2 778.4 166.5 774.3 162.6 771 157.5 768.4 152.4 766.6 147.3 764.9 142.2 762.5 137 760.1 132.4 757.4 128.1 754.6 123.9 751.8 120.7 748.8 117.4 745.5 114 741.9 110.5 738.2 107.5 734.3 105 730" fill="none" stroke="#000" stroke-width="2.5" stroke-linejoin="round"/>
<path d="M595 443.8 585 445 570 452.5 555 453.8 547.5 445 540 437.5 525 431.2 510 431.2 500 432.5 490 430 475 431.2 470 423.8 466.2 431.2 450 431.2 430 432.5 412.5 435 400 433.8 397.5 440 405 443.8 415 440 422.5 443.8 417.5 448.8 427.5 450 422.5 457.5 432.5 466.2 440 470 430 473.8 415 462.5 407.5 458.8 407.5 467.5 402.5 471.2 395 465 387.5 470 372.5 465 370 458.8 357.5 456.2 350 453.8 345 456.2 335 453.8 312.5 451.2 292.5 452.5 275 458.8 260 466.2 250 473.8 235 482.5 220 488.8 207.5 495 200 500 192.5 507.5 185 517.5 182.5 530 186.2 545 188.8 562.5 185 580 177.5 600 173.8 625 172.5 650 172.5 675 175 700 182.5 722.5 192.5 745 202.5 760M442.5 451.2 446.2 460 441.2 470M255 468.8 260 458.8 265 460 262.5 453.8 257.5 452.5M205 496.2 210 485 217.5 486.2M200 500 205 493.8 211.2 494.5M595 667.5 580 680 568 691 582 696 595 688M841.2 235 845 247.5 850 260 855 270 855 282.5 845 286.2 835 292.5 820 298.8 805 300 795 307.5 780 321.2 765 326.2 750 335 740 343.8 730 352.5 715 362.5 700 370 690 380 680 395 672.5 410 670 420 672.5 435 677.5 455 685 472.5 695 490 697.5 495M841.2 235 845 252.5 835 255 820 257.5 817.5 252.5 817.5 260 830 261.2 840 265 845 270 837.5 277.5 827.5 281.2 820 276.2 815 285 807.5 275 807.5 285 815 290 830 292.5M1182 374.5 1185 372.5 1188 370.5M595 667.5 616.7 659.2 651.7 652.5 678.3 655 695 655 711.7 660.8 725 665 736.7 675 755 680 775 688.3 791.7 695 811.7 706.7 828.3 713.3 845 718.3 851.7 720 848.3 726.7 865 728.3 878.3 733.3 888.3 740 896.7 744.2 893.3 748.3 868.3 754.2 855 754.2 840 748.3 825 755.8 803.3 753.3 788.3 755 805 738.3 801.7 733.3 783.3 730 768.3 721.7 761.7 713.3 760 705 753.3 701.7 736.7 703.3 720 698.3 708.3 690 701.7 685 695 688.3 683.3 687.5 680 681.7 676.7 685.8 661.7 683.3 653.3 678.3 663.3 675 661.7 670.8 650 669.2 633.3 670 625 675 611.7 680.8 595 688.3M620 701.7 624.2 693.3 632.5 692.5 637.5 698.3 635 704.2 626.7 706.7 620 701.7M768.3 800.8 781.7 796.7 803.3 798.3 818.3 802.5 830 808.3 832.5 813.3 826.7 816.7 816.7 814.2 806.7 816.7 801.7 821.7 793.3 819.2 780 813.3 771.7 805.8 768.3 800.8M630 505 636.2 513.8 643.8 508.8 635 520.5 642.5 530 648.8 541.2 655 537.5 653 551.2 660 555 665 565 675 577.5 681.2 586.2 685 592 695 592 703.8 590 708.8 585 712.5 570 715.5 550 713 530 706.2 510 696.2 487.5 686.2 467.5 680 455M691.2 482.5 700 505 712.5 530M661.2 611.2 670 608.8M682.5 606.2 695 601.2 705 592.5M747.5 545.5 760 542.5 770 545.5 780 545 767.5 548.8 755 551.2 747.5 545.5M781.2 538.8 792.5 541.2 802.5 548.8 807.5 556.2 803.8 568.8 797.5 566.2 802.5 555 795 545 781.2 538.8M772.5 592 780 597.5 786.2 607.5 785 617.5 777.5 620 792.5 622.5 792.5 633.8 786.2 635.5 781.2 625 770 615 767.5 607.5 771.2 601.2 772.5 592M816.2 581.2 827.5 587.5 835.5 593.8 833.8 607.5 831.2 601.2 832.5 595 823.8 588.8 816.2 581.2M847.5 607.5 855 615 860 622.5M860 640 866.2 652.5 875 662.5M838.8 640 848.8 645M791.2 596.2 800 596.2M892.5 666.2 903.8 670 905 676.2 893.8 683.8M927.5 677 939.5 680M952.5 695.5 957.5 696.2M962.5 693.8 972.5 696.2M911.2 717.5 922.5 715 930 712.5 927.5 718.8 917.5 722 911.2 717.5M595 443.8 597.8 443.3 604.4 447.8 611.1 456.7 620 464.4 628.9 471.1 634.4 476.7 635.6 485.6 633.3 494.4 630 503.3M691.1 482.2 695.6 496.7 701.1 510 711.1 530M1108.8 801.2 1115 797 1140 798.8 1156.2 800 1158.8 803.8 1150 811.2 1127.5 813 1110 811.2 1108.8 801.2M1176.2 802.5 1182.5 801.2M1186.2 800.5 1198.8 797M1160 808.8 1168 808.2M1234.5 805.5 1239.5 804.5M1236.2 808.8 1238.8 811.2M1090 1043.8 1105 1041.2 1125 1041.2 1140 1046.2 1157.5 1053.8 1172.5 1055 1190 1048.8 1202.5 1041.2 1215 1042.5 1200 1038.8 1240 1037.5 1272.5 1035.5M1281.2 1036.2 1302.5 1032.5 1300 1047.5 1285 1052.5 1275 1056.2 1287.5 1051.2 1286.2 1037.5 1281.2 1036.2M1242.5 1041.2 1250 1055 1262.5 1062.5 1277.5 1065 1302.5 1072.5 1316.2 1072.5 1315 1082.5 1302.5 1085 1295 1100 1282.5 1101.2 1290 1106.2 1310 1101.2 1325 1102.5 1337.5 1110 1350 1115 1365 1127.5 1377.5 1140 1378.8 1155 1372.5 1167.5M1274 823.8 1275.5 821.2 1277 823.8 1275.5 826.2 1274 823.8M1273.2 840.8 1276.2 838.2 1279.2 840.8 1276.2 843.2 1273.2 840.8M1277 868.8 1280 863.2 1283 868.8 1280 874.2 1277 868.8M1284 863.8 1287.5 860.2 1291 863.8 1287.5 867.2 1284 863.8M1290.5 875.8 1292 874.2 1293.5 875.8 1292 877.2 1290.5 875.8M1285.8 891.2 1288.8 885.2 1291.8 891.2 1288.8 897.2 1285.8 891.2M1295 916.2 1299.5 909.8 1304 916.2 1299.5 922.8 1295 916.2M1298.8 938.8 1301.2 933.8 1303.8 938.8 1301.2 943.8 1298.8 938.8M1292.2 958.8 1294.2 955.8 1296.2 958.8 1294.2 961.8 1292.2 958.8M1342 960 1344.5 957 1347 960 1344.5 963 1342 960M1277.2 993.2 1279.2 989.8 1281.2 993.2 1279.2 996.8 1277.2 993.2M1281 1027.5 1285 1025 1289 1027.5 1285 1030 1281 1027.5M1245 832 1252.5 838.8M1306.2 1022 1315 1018.2M1281.2 1101.2 1290 1106.2 1310 1101.2 1325 1102.5 1337.5 1110 1355 1120 1370 1132.5 1378.8 1145 1377.5 1160 1372.5 1168.8 1380 1155 1392.5 1157.5 1405 1170 1415 1177.5 1418.8 1195 1422.5 1182.5 1440 1182.5 1457.5 1185 1475 1182.5 1495 1182.5 1512.5 1186.2 1515 1195 1530 1200 1547.5 1205 1565 1212.5 1577.5 1222.5 1587.5 1235M1587.5 1235 1599.5 1242.5 1607 1267.5 1617 1297.5 1624.5 1307.5 1638.2 1312.5M212.7 757.9 223.5 776.3 232.7 790.1 251.1 793.2 264.9 800.9 275.7 808.6 294.1 802.4 318.6 799.3 337 793.2 355.5 793.2 370.8 785.5 381.5 776.3 395.4 756.4 396.9 736.4 398.4 722.6 410.7 716.4 421.4 711.8 447.5 707.2 472.1 702.6 499.7 702.6 508.9 710.3 510.4 721 501.2 733.3 489 745.6 489 761 482.8 773.2 485.9 788.6 478.2 797.8 470.5 799.3 469 810.1 465.9 828.5 462.9 846.9 453.7 865.4 444.5 877.6 455.2 879.2 465.9 883.8 473.6 879.2 487.4 880.7 508.9 880.7 533.5 876.1 551.9 877.6 564.1 874.6 585.6 879.2 601 891.5 620.9 905.3 616.3 920.6 613.3 936 610.2 957.5 608.7 979 602.5 997.4 604 1015.8 604 1029.6 611.7 1045 624.6 1058.8 637.8 1071.1 650.1 1077.2 651.6 1089.5 671.6 1095.6 686.9 1094.1 705.3 1086.4 720.7 1078.8 732.9 1071.1 748.3 1072.6 763.6 1077.2 779 1080.3 791.3 1092.6 798.9 1100.3 809.7 1114.1 812.7 1120.2 817.3 1104.9 831.2 1092.6 845 1077.2 852.6 1061.9 855.7 1046.5 863.4 1035.8 875.7 1026.6 889.5 1028.1 895.6 1020.4 917.1 1020.4 935.5 1011.2 955.4 1000.5 973.9 983.6 989.2 994.3 984.6 1003.5 966.2 1009.7 975.4 1028.1 972.3 1035.8 978.5 1029.6 993.8 1025 1015.3 1015.8 1018.4 1009.7 1016.8 997.4 1027.6 991.2 1030.6 1006.6 1033.7 1014.3 1049.1 1012.7 1067.5 1018.9 1076.7 1031.2 1085.9 1043.4 1101.2 1043.4 1116.6 1040.4 1138.1 1038.8 1144.2 1040.4 1153.4 1052.7 1174.9 1055.7 1187.2 1054.2 1199.4 1046.5M975.4 1035.8 963.1 1055.7 966.2 1077.2 984.6 1088 993.8 1074.2 992.3 1052.7 980 1034.2M100.7 845.4 106.9 848.5 134.5 857.7 159 868.4 186.7 876.1 211.2 885.3 232.7 879.2 251.1 869.4 272.6 868.4 291 874.6 312.5 896.1 340.1 919.1 361.6 932.9 380 939.1 401.5 943.7 416.8 949.8 441.4 955.9 462.9 962.1 475.1 962.1 481.3 954.4 490.5 963.6 487.4 969.8 496.6 983.6 515 997.4 536.5 1020.4 542.7 1029.6 539.6 1043.4 538.1 1058.8 554.9 1064.9 561.1 1071.1 565.7 1057.3 570.3 1060.3 574.9 1069.5 590.2 1077.2 604 1088 607.1 1106.4 616.3 1107.9 619.4 1101.8 628.6 1118.7 647 1112.5 665.4 1117.1 680.8 1131 690 1143.2 705.3 1141.7 717.6 1137.1 708.4 1123.3 705.3 1112.5 723.7 1101.8 732.9 1091 748.3 1089.5 763.6 1104.9 775.9 1109.5 766.7 1118.7 774.4 1135.6 788.2 1147.8 797.4 1163.2 798.9 1181.6 792.8 1197 800.5 1221.5 797.4 1236.9 806.6 1246.1 791.3 1267.6 772.8 1286 760.6 1295.2 754.4 1310.6 748.3 1318.3 728.3 1335.1 716.1 1341.3 714.5 1364.3 708.4 1375.1M841.3 226.1 852.6 211.3 860.3 199.1 868.6 188.3 868.3 174.5 861.8 168.4 857.2 157.6 854.2 149.9 855.7 154.5 864.9 160.7 874.1 163.1 872.6 170.5 883.3 160.7 889.5 156.7 897.1 146.9 901.7 133M841.3 226.1 839.7 220.6 841.9 211.3 848 200.6 843.4 191.4 831.2 182.2 835.8 174.5 832.7 168.4 837.3 157.6 840.4 151.5 837.3 154.5 826.5 162.2 826.5 171.4 823.5 183.7 828.1 189.8 829.6 197.5 812.7 191.4 808.1 185.2 802 186.8 811.2 192.9 821.9 196 831.2 202.1 831.2 209.8 821.9 205.2 812.7 199.1 823.5 208.3 831.2 212.9 829.6 220.6 820.4 217.5 828.1 223.6 831.2 228.2 821.9 226.1 815.8 222.1 823.5 229.8 831.2 231.9 840.4 231.9 841 235M920.2 757.9 938.6 753.3 957 759.4 973.9 754.8 1003 757.9 1027.6 762.5 1049.1 771.7 1050.6 774.8 1036.8 779.4 1055.2 782.5 1075.1 794.7 1067.5 807 1056.7 800.9 1027.6 799.3 1009.2 807 992.3 805.5 981.5 825.4 970.8 813.2 947.8 807 909.4 808.6 887.9 802.4 898.7 793.2 923.2 797.8 952.4 796.3 940.1 779.4 941.6 768.6 929.4 762.5 920.2 757.9M923.2 784.9 938.6 790.1" fill="none" stroke="#000" stroke-width="2" stroke-linejoin="round"/>
<path d="M191.3 569.1 177.5 570.6 156 564.4 131.4 555.2 120.7 536.8 119.1 521.5 100.7 501.5M341.6 919.1 343.2 897.6 357 873 396.9 872.4 366.8 836.2 380.6 836.2 380.6 818.7 436.8 818.7 435.3 877.6 444.5 877.6M436.8 814.7 450.6 807 462.9 797.8M465.9 883.8 435.3 908.3 430.6 923.7 407.6 943.7M430.6 923.7 456.7 937.5 478.2 954.4M493.6 966.7 512 942.1 539.6 940.6 564.1 917.6 620.9 905.3M542.7 1025 567.2 1029.6 604 1031.2M628.6 1118.7 630.1 1092.6 639.3 1072.6M798.9 1100.3 803.5 1123.3 782 1144.8M984.6 1003.5 953.9 1025 935.5 1046.5 947.8 1083.4 950.8 1111 966.2 1150.9 1021.4 1150.9 1042.9 1178.5 1102.8 1175.5 1092 1203.1 1090.5 1227.7 1107.4 1261.5 1090.5 1279.9 1110.4 1292.2 1119.6 1329M1119.6 1329 1113.5 1313.7 1029.1 1313.7 1029.1 1333.6 1049.1 1335.1 1042.9 1347.4 1023 1349 1023 1372M754.4 1321.3 782 1341.3 797.4 1353.6 831.2 1353.6 861.8 1368.9M1119.6 1329 1138.1 1342.8 1161.1 1336.7 1178 1330.5 1205.6 1316.7 1208.6 1306 1227.1 1299.8 1227.1 1292.2 1208.6 1289.1 1202.5 1270.7 1190.2 1255.3 1205.6 1240 1242.4 1255.3 1247 1243 1273.1 1238.4 1300.7 1227.7 1313 1213.9 1308.4 1206.2M1308.4 1206.2 1288.4 1183.2 1296.1 1160.1 1322.2 1147.8 1313 1126.4 1337.5 1111 1331.4 1103.3M1308.4 1206.2 1326.8 1206.2 1332.9 1227.7 1345.2 1244.6 1336 1255.3 1332.9 1286 1340.6 1309 1362.1 1325.9 1377.4 1325.9 1414.3 1306 1438.8 1307.5M1418.9 1181.6 1414.3 1203.1 1395.8 1224.6 1391.2 1243 1405.1 1263 1414.3 1264.5 1438.8 1307.5M1438.8 1307.5 1457.2 1309 1457.2 1289.1 1497.1 1295.2M1515.5 1187.8 1501.7 1212.3 1509.4 1243 1515.5 1255.3 1497.1 1295.2M1497.1 1295.2 1521.7 1295.2 1549.3 1298.3 1566.2 1270.7 1587.7 1240M970.8 813.2 972.3 794.7 963.1 782.5 973.9 770.2 970.8 761" fill="none" stroke="#000" stroke-width="1" stroke-linejoin="round"/>
<g font-family="DejaVu Sans, Liberation Sans, sans-serif" font-size="18" fill="#000" text-anchor="middle">
<text transform="translate(211,214) rotate(55)" y="6.5">-24</text>
<text transform="translate(244,350) rotate(30)" y="6.5">-18</text>
<text transform="translate(471,395) rotate(-8)" y="6.5">-20</text>
<text transform="translate(533,416) rotate(-8)" y="6.5">-16</text>
<text transform="translate(578,439) rotate(-12)" y="6.5">-12</text>
<text transform="translate(226,455) rotate(8)" y="6.5">-8</text>
<text transform="translate(289,488) rotate(14)" y="6.5">-6</text>
<text transform="translate(226,505) rotate(20)" y="6.5">-2</text>
<text transform="translate(195,512) rotate(25)" y="6.5">0</text>
<text transform="translate(272,622) rotate(35)" y="6.5">4</text>
<text transform="translate(1546,184) rotate(-25)" y="6.5">-22</text>
<text transform="translate(1347,361) rotate(-8)" y="6.5">-14</text>
<text transform="translate(825,633) rotate(-8)" y="6.5">-4</text>
<text transform="translate(885,705) rotate(-15)" y="6.5">2</text>
<text transform="translate(1085,495) rotate(-5)" y="6.5">-10</text>
<text transform="translate(947,761) rotate(10)" y="6.5">6</text>
<text transform="translate(1009,761) rotate(10)" y="6.5">4</text>
<text transform="translate(1561,600) rotate(90)" y="6.5">-6</text>
<text transform="translate(303,775) rotate(5)" y="6.5">10</text>
<text transform="translate(181,849) rotate(45)" y="6.5">16</text>
<text transform="translate(195,885) rotate(20)" y="6.5">12</text>
<text transform="translate(124,887) rotate(70)" y="6.5">14</text>
<text transform="translate(348,936) rotate(30)" y="6.5">14</text>
<text transform="translate(517,1017) rotate(30)" y="6.5">16</text>
<text transform="translate(486,1078) rotate(5)" y="6.5">14</text>
<text transform="translate(519,905) rotate(0)" y="6.5">4</text>
<text transform="translate(533,886) rotate(0)" y="6.5">2</text>
<text transform="translate(131,630) rotate(-85)" y="6.5">8</text>
<text transform="translate(110,657) rotate(-85)" y="6.5">10</text>
<text transform="translate(120,703) rotate(60)" y="6.5">6</text>
<text transform="translate(107,581) rotate(60)" y="6.5">6</text>
<text transform="translate(632,858) rotate(-40)" y="6.5">6</text>
<text transform="translate(658,1042) rotate(50)" y="6.5">10</text>
<text transform="translate(820,1073) rotate(45)" y="6.5">16</text>
<text transform="translate(950,1012) rotate(30)" y="6.5">14</text>
<text transform="translate(809,1114) rotate(10)" y="6.5">14</text>
<text transform="translate(748,1139) rotate(-35)" y="6.5">14</text>
<text transform="translate(1041,963) rotate(45)" y="6.5">16</text>
<text transform="translate(1072,1001) rotate(30)" y="6.5">14</text>
<text transform="translate(1070,1021) rotate(30)" y="6.5">12</text>
<text transform="translate(1116,929) rotate(5)" y="6.5">12</text>
<text transform="translate(1256,909) rotate(-70)" y="6.5">8</text>
<text transform="translate(1331,941) rotate(5)" y="6.5">8</text>
<text transform="translate(1347,974) rotate(10)" y="6.5">10</text>
<text transform="translate(1374,1087) rotate(5)" y="6.5">12</text>
<text transform="translate(449,1134) rotate(45)" y="6.5">12</text>
<text transform="translate(225,1184) rotate(0)" y="6.5">8</text>
<text transform="translate(149,1221) rotate(5)" y="6.5">6</text>
<text transform="translate(150,1274) rotate(25)" y="6.5">4</text>
<text transform="translate(810,1210) rotate(5)" y="6.5">10</text>
<text transform="translate(686,1279) rotate(20)" y="6.5">10</text>
<text transform="translate(877,1257) rotate(-55)" y="6.5">16</text>
<text transform="translate(624,1353) rotate(0)" y="6.5">8</text>
<text transform="translate(670,1353) rotate(0)" y="6.5">8</text>
<text transform="translate(1332,1202) rotate(10)" y="6.5">10</text>
<text transform="translate(1394,1254) rotate(30)" y="6.5">16</text>
<text transform="translate(1162,1190) rotate(35)" y="6.5">16</text>
<text transform="translate(1562,1175) rotate(20)" y="6.5">12</text>
</g>
<path d="M410.7 136.7V1365.3M717.6 136.7V1365.3M1024.5 136.7V1365.3M1331.4 136.7V1365.3M101.7 1212.3H1638.2M101.7 1058.8H1638.2M101.7 905.3H1638.2M101.7 751.8H1638.2M101.7 598.2H1638.2M101.7 444.7H1638.2M101.7 291.2H1638.2" fill="none" stroke="#b0b0b0" stroke-opacity="0.6" stroke-width="1.25" stroke-dasharray="4.6 2"/>
</g>
<rect x="101.7" y="136.7" width="1536.5" height="1228.6" fill="none" stroke="#000" stroke-width="2"/>
<g font-family="DejaVu Sans, Liberation Sans, sans-serif" font-size="24.4" fill="#000">
<text x="90" y="1218.9" text-anchor="end">5°N</text>
<text x="90" y="1065.4" text-anchor="end">10°N</text>
<text x="90" y="911.9" text-anchor="end">15°N</text>
<text x="90" y="758.4" text-anchor="end">20°N</text>
<text x="90" y="604.8" text-anchor="end">25°N</text>
<text x="90" y="451.3" text-anchor="end">30°N</text>
<text x="90" y="297.8" text-anchor="end">35°N</text>
<text x="410.7" y="1397.2" text-anchor="middle">90°W</text>
<text x="717.6" y="1397.2" text-anchor="middle">80°W</text>
<text x="1024.5" y="1397.2" text-anchor="middle">70°W</text>
<text x="1331.4" y="1397.2" text-anchor="middle">60°W</text>
</g>
<g font-family="DejaVu Sans, Liberation Sans, sans-serif" font-size="27.5" fill="#000" text-anchor="middle">
<text x="871.2" y="55.8">GFS — θe de saturación media 1000–700 hPa — ANOMALÍA (sombreado y contornos)</text>
<text x="871.2" y="87.5" xml:space="preserve">Inicialización: 20260101 06Z   •   Pronóstico: f069 (UTC)</text>
<text x="871.2" y="122.5">Instituto Meteorológico Nacional</text>
</g>
<g shape-rendering="crispEdges">
<rect x="1675.2" y="1287.1" width="59.799999999999955" height="60.1" fill="#5e4fa2"/>
<rect x="1675.2" y="1227.5" width="59.799999999999955" height="60.1" fill="#486cb0"/>
<rect x="1675.2" y="1168" width="59.799999999999955" height="60.1" fill="#3389bd"/>
<rect x="1675.2" y="1108.5" width="59.799999999999955" height="60.1" fill="#50a9af"/>
<rect x="1675.2" y="1049" width="59.799999999999955" height="60.1" fill="#6bc4a5"/>
<rect x="1675.2" y="989.4" width="59.799999999999955" height="60.1" fill="#91d3a4"/>
<rect x="1675.2" y="929.9" width="59.799999999999955" height="60.1" fill="#b3e0a2"/>
<rect x="1675.2" y="870.4" width="59.799999999999955" height="60.1" fill="#d1ed9c"/>
<rect x="1675.2" y="810.8" width="59.799999999999955" height="60.1" fill="#ebf7a0"/>
<rect x="1675.2" y="751.3" width="59.799999999999955" height="60.1" fill="#f8fcb4"/>
<rect x="1675.2" y="691.8" width="59.799999999999955" height="60.1" fill="#fff7b2"/>
<rect x="1675.2" y="632.2" width="59.799999999999955" height="60.1" fill="#fee797"/>
<rect x="1675.2" y="572.7" width="59.799999999999955" height="60.1" fill="#fed07e"/>
<rect x="1675.2" y="513.2" width="59.799999999999955" height="60.1" fill="#fdb768"/>
<rect x="1675.2" y="453.6" width="59.799999999999955" height="60.1" fill="#fa9857"/>
<rect x="1675.2" y="394.1" width="59.799999999999955" height="60.1" fill="#f57547"/>
<rect x="1675.2" y="334.6" width="59.799999999999955" height="60.1" fill="#e85b48"/>
<rect x="1675.2" y="275.1" width="59.799999999999955" height="60.1" fill="#d7414e"/>
<rect x="1675.2" y="215.5" width="59.799999999999955" height="60.1" fill="#bc2249"/>
<rect x="1675.2" y="156" width="59.799999999999955" height="60.1" fill="#9e0142"/>
</g>
<rect x="1675.2" y="156.3" width="59.799999999999955" height="1190.6000000000001" fill="none" stroke="#000" stroke-width="2"/>
<g font-family="DejaVu Sans, Liberation Sans, sans-serif" font-size="24.4" fill="#000">
<text x="1752.5" y="1356.5">−24</text>
<text x="1752.5" y="1297">−22</text>
<text x="1752.5" y="1237.4">−20</text>
<text x="1752.5" y="1177.9">−18</text>
<text x="1752.5" y="1118.4">−16</text>
<text x="1752.5" y="1058.8">−14</text>
<text x="1752.5" y="999.3">−12</text>
<text x="1752.5" y="939.8">−10</text>
<text x="1752.5" y="880.3">−8</text>
<text x="1752.5" y="820.7">−6</text>
<text x="1752.5" y="761.2">−4</text>
<text x="1752.5" y="701.7">−2</text>
<text x="1752.5" y="642.1">0</text>
<text x="1752.5" y="582.6">2</text>
<text x="1752.5" y="523.1">4</text>
<text x="1752.5" y="463.5">6</text>
<text x="1752.5" y="404">8</text>
<text x="1752.5" y="344.5">10</text>
<text x="1752.5" y="285">12</text>
<text x="1752.5" y="225.4">14</text>
<text x="1752.5" y="165.9">16</text>
</g>
<path d="M1735.0 1346.9h8.75M1735.0 1287.4h8.75M1735.0 1227.8h8.75M1735.0 1168.3h8.75M1735.0 1108.8h8.75M1735.0 1049.2h8.75M1735.0 989.7h8.75M1735.0 930.2h8.75M1735.0 870.7h8.75M1735.0 811.1h8.75M1735.0 751.6h8.75M1735.0 692.1h8.75M1735.0 632.5h8.75M1735.0 573h8.75M1735.0 513.5h8.75M1735.0 453.9h8.75M1735.0 394.4h8.75M1735.0 334.9h8.75M1735.0 275.4h8.75M1735.0 215.8h8.75M1735.0 156.3h8.75" stroke="#000" stroke-width="2" fill="none"/>
<text font-family="DejaVu Sans, Liberation Sans, sans-serif" font-size="25" text-anchor="middle" transform="translate(1834.2,751.5) rotate(-90)">Anomalía de θe de saturación media 1000–700 hPa [°C]</text>
</svg>
</body></html>
